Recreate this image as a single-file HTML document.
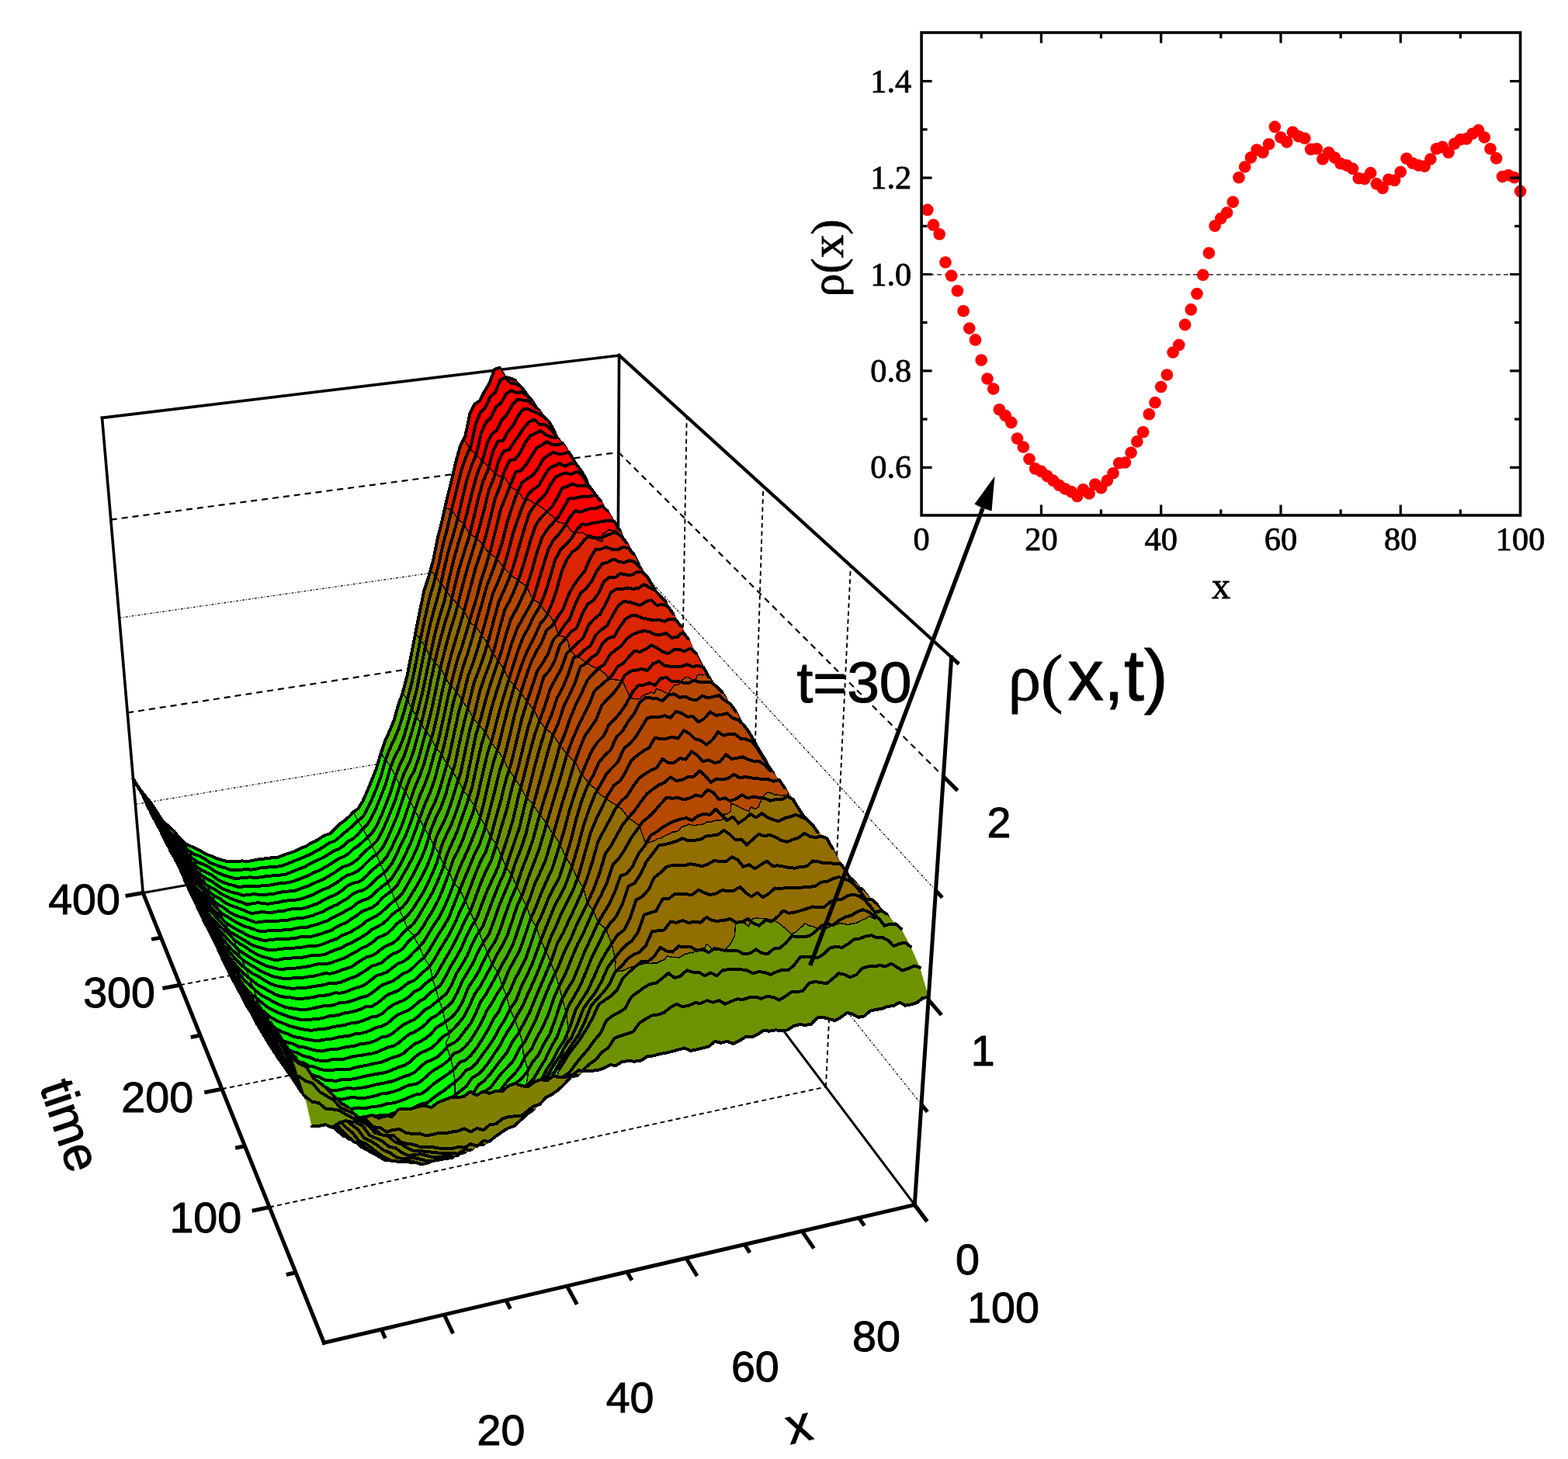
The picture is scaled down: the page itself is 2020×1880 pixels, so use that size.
<!DOCTYPE html>
<html><head><meta charset="utf-8"><title>rho(x,t)</title>
<style>html,body{margin:0;padding:0;background:#fff}svg{display:block}.ss{font-family:"Liberation Sans",Arial,sans-serif;stroke:#000;stroke-width:1px;stroke-linejoin:round}.sf{font-family:"Liberation Serif","Times New Roman",serif;stroke:#000;stroke-width:.8px;stroke-linejoin:round}.b0{fill:#00ff00;stroke:#00ff00}.b1{fill:#24db00;stroke:#24db00}.b2{fill:#49b600;stroke:#49b600}.b3{fill:#6d9200;stroke:#6d9200}.b4{fill:#926d00;stroke:#926d00}.b5{fill:#b64900;stroke:#b64900}.b6{fill:#db2400;stroke:#db2400}.b7{fill:#ff0000;stroke:#ff0000}.bk{fill:#808000;stroke:#808000}.b0,.b1,.b2,.b3,.b4,.b5,.b6,.b7,.bk{stroke-width:.6}.tl{fill:none;stroke:#000;stroke-width:4.0}.cl{fill:none;stroke:#000;stroke-width:1.5}</style></head><body>
<svg xmlns="http://www.w3.org/2000/svg" width="2020" height="1880" viewBox="0 0 2020 1880">
<rect width="2020" height="1880" fill="#fff"/>
<g id="back"><line x1="174.4" y1="1036.4" x2="795" y2="933.4" stroke="#000" stroke-width="1.2" stroke-dasharray="3 2 1 2"/>
<line x1="795" y1="933.4" x2="1187" y2="1423" stroke="#000" stroke-width="1.2" stroke-dasharray="3 2 1 2"/>
<line x1="164.2" y1="918.4" x2="795.6" y2="820.4" stroke="#000" stroke-width="2.2" stroke-dasharray="8 6"/>
<line x1="795.6" y1="820.4" x2="1196" y2="1288.1" stroke="#000" stroke-width="2.2" stroke-dasharray="8 6"/>
<line x1="153.7" y1="796.2" x2="796.3" y2="703.6" stroke="#000" stroke-width="1.2" stroke-dasharray="3 2 1 2"/>
<line x1="796.3" y1="703.6" x2="1205.5" y2="1147.4" stroke="#000" stroke-width="1.2" stroke-dasharray="3 2 1 2"/>
<line x1="142.8" y1="669.6" x2="796.9" y2="582.8" stroke="#000" stroke-width="2.2" stroke-dasharray="8 6"/>
<line x1="796.9" y1="582.8" x2="1215.3" y2="1000.5" stroke="#000" stroke-width="2.2" stroke-dasharray="8 6"/>
<line x1="1063.9" y1="1400.5" x2="1095.9" y2="729" stroke="#000" stroke-width="1.9" stroke-dasharray="6 4.3"/>
<line x1="347.1" y1="1555.5" x2="1063.9" y2="1400.5" stroke="#000" stroke-width="1.9" stroke-dasharray="6 4.3"/>
<line x1="963.2" y1="1266.9" x2="983.3" y2="626.7" stroke="#000" stroke-width="1.9" stroke-dasharray="6 4.3"/>
<line x1="285.9" y1="1403.2" x2="963.2" y2="1266.9" stroke="#000" stroke-width="1.9" stroke-dasharray="6 4.3"/>
<line x1="874" y1="1148.5" x2="884.7" y2="537.1" stroke="#000" stroke-width="1.9" stroke-dasharray="6 4.3"/>
<line x1="232" y1="1269.2" x2="874" y2="1148.5" stroke="#000" stroke-width="1.9" stroke-dasharray="6 4.3"/>
<line x1="131.5" y1="538.4" x2="797.6" y2="457.9" stroke="#000" stroke-width="3.6" stroke-linecap="square"/>
<line x1="797.6" y1="457.9" x2="1225.7" y2="846.9" stroke="#000" stroke-width="4.2" stroke-linecap="square"/>
<line x1="184.2" y1="1150.5" x2="131.5" y2="538.4" stroke="#000" stroke-width="3.6" stroke-linecap="square"/>
<line x1="794.4" y1="1042.8" x2="797.6" y2="457.9" stroke="#000" stroke-width="3.6"/>
<line x1="184.2" y1="1150.5" x2="794.4" y2="1042.8" stroke="#000" stroke-width="3.0"/>
<line x1="794.4" y1="1042.8" x2="1178.3" y2="1552.4" stroke="#000" stroke-width="3.0"/></g>
<g id="surface"><g shape-rendering="crispEdges" stroke-linejoin="round" stroke-linecap="round">
<path class="bk" d="M671 498l6 8 7 12 7 11 6 13 7 15 6 24 7 15 6 16 7 17 6 16 6 18 7 23 6 22 6 18 6 22 6 20 6 26 6 26 6 25 6 26 6 25-8-6-6-25-5-27-6-27-6-23-6-25-7-20-6-26-6-17-6-21-6-21-7-16-6-19-7-21-6-15-6-11-7-23-6-16-7-13-7-13-6-13-7-8z"/>
<path class="tl" d="M663.2 489.7l6.6 8.4 6.6 13.2 6.6 12.9 6.5 12.9 6.6 16 6.5 22.5 6.5 11.8 6.4 14.6 6.4 21 6.4 18.7 6.3 16.7 6.2 20.6 6.3 20.8 6.2 17.7 6.1 25.1 6.1 20.4 6.1 24.6 6 23.2 5.9 26.7 5.9 27.2 5.8 25.3"/>
<path class="b7" d="M658 494l6 0 7 4-8-8-6-3-7-1z"/>
<path class="tl" d="M650.2 485.8l6.5 1.3 6.5 2.6"/>
<path class="bk" d="M651 487l7 7-8-8-7-12z"/>
<path class="tl" d="M643.5 473.7l6.7 12.1"/>
<path class="b7" d="M607 575l6-28 6-16 6-6 7-14 6-6 6-15 7-3-8-13-6 2-6 18-7 10-6 12-6 4-7 13-6 28zM605 578l2-3-8-14 1 8zM600 569l-1-8-2 5z"/>
<path class="b6" d="M600 588l5-10-5-9zM600 588l0-19-3-3-4 8zM582 654l6-23 6-25 6-18-7-14-6 21-6 26-6 24zM582 657l0-3-7-9 1 10zM576 655l-1-10-1 8z"/>
<path class="b5" d="M577 680l5-23-6-2zM577 680l-1-25-2-2-4 17zM565 729l6-27 6-22-7-10-6 24-6 28zM561 743l4-14-7-7 1 17zM559 739l-1-17-4 14z"/>
<path class="b4" d="M559 751l2-8-2-4zM559 751l0-12-5-3-2 7zM542 823l5-26 6-26 6-20-7-8-6 18-5 27-6 28zM542 824l0-1-7-7z"/>
<path class="b3" d="M536 852l6-28-7-8zM536 852l-1-36-5 28zM525 900l6-21 5-27-6-8-6 27-5 22zM525 902l0-2-6-7z"/>
<path class="b2" d="M519 921l6-19-6-9zM519 921l0-28-6 16zM502 965l6-12 6-14 5-18-6-12-6 20-5 14-6 13zM497 979l5-14-6-9 0 22zM496 978l0-22-5 15zM184 1024l6 8-4-7zM184 1024l2 1-1-2-6-7zM176 1011l8 13-5-8-7-12z"/>
<path class="b1" d="M496 981l1-2-1-1zM496 981l0-3-5-7-1 2zM461 1057l6-4 6-11 6-12 6-14 6-15 5-20-6-8-6 18-5 15-6 14-6 13-6 9-6 4zM461 1058l0-1-6-11 0 1zM236 1090l7 6-5-9zM236 1090l2-3-1-1-6-6zM191 1032l8 10 8 13 7 12 8 7 7 7 7 9-5-10-7-9-7-7-7-6-8-12-8-11-7-9zM190 1032l1 0-4-6-1-1zM186 1025l1 1-2-3z"/>
<path class="b0" d="M455 1063l6-5-6-11zM455 1063l0-16 0-1-6 7zM243 1096l7 5 7 2 7 4 7 5 7 2 6 3 7 2 7 2 6 0 7 0 6-1 7 1 6-1 6-2 7 0 6-1 7 0 6-1 6-2 7-3 6-2 6-3 6-3 7-2 6-4 6-3 6-4 6-4 7-2 6-5 6-5 6-5 6-6-6-10-6 5-6 4-6 7-6 5-6 2-6 4-7 4-6 2-6 5-6 2-6 3-7 2-6 2-6 3-6 2-7 0-6 1-6 1-7 1-6 1-7 1-6-1-7 1-6 0-6 0-7-2-7-2-7-3-6-2-7-4-7-4-7-3-7-3zM243 1096l-5-9zM238 1087l-1-1z"/>
<path class="cl" d="M605.2 577.8l-5.4-8.3-2.6-3.5M581.8 657.1l-6-1.9-2.2-2.3M561.2 742.9l-2.5-3.6-4.4-3.7M541.5 824.5l-6.2-8.8M524.8 901.5l-6-8.4-.1-.3M496.7 979.1l-.6-1-5.4-7.1M461.1 1057.5l-5.8-10.9-.1-.1M243.1 1096.2l-5-8.8-.9-1.7M190.4 1031.5l-4.2-6.3-1.5-2.4"/>
<path class="tl" d="M171.6 1003.6l7.8 12.4 7.5 9.6 7.5 9 7.6 11.6 7.7 12 7.2 6.2 7.1 6.4 7.3 9.2 7.2 6.9 6.8 3.3 6.8 2.9 6.8 3.6 6.9 4.2 6.7 2.1 6.7 3.1 6.7 2.1 6.6 2 6.5-.7 6.5 .6 6.4-.7 6.5 .6 6.4-.9 6.3-1.5 6.4-.5 6.4-1.3 6.4-.4 6.4 0 6.2-2.7 6.3-2.3 6.2-2 6.3-2.2 6.2-3.6 6.2-2 6.2-4.1 6.2-2.6 6.1-4 6.2-3.7 6.2-2 6-5.4 6-6.6 6.2-4.2 6-5.2 6.1-6.4 6.1-4.5 5.9-9.3 5.7-12.9 5.7-13.8 5.8-14.5 5.5-18.5 5.7-17.3 5.8-12.8 5.9-14.1 5.6-19.7 5.7-16.4 5.7-21.2 5.4-27.5 5.5-28.2 5.5-27.7 5.6-27.3 5.9-17.7 5.8-21.1 5.7-28.3 5.8-23.1 5.8-25.8 5.9-23.6 5.9-25.7 6-21.3 6.3-12.7 5.9-28.3 6.3-12.6 6.4-4.3 6.3-12.1 6.3-10.6 6.3-17.3 6.5-2.5"/>
<path class="bk" d="M685 515l7 12 6 11 7 18 6 17 7 20 6 9 7 15 6 21 7 14 6 19 6 24 7 22 6 18 6 20 6 20 6 25 6 26 6 24 6 28 6 26-8-8-6-25-6-26-6-25-6-26-6-26-6-20-6-22-6-18-6-22-7-23-6-18-6-16-7-17-6-16-7-15-6-24-7-15-6-13-7-11-7-12z"/>
<path class="tl" d="M677.4 505.8l6.6 12.5 6.6 11 6.5 13.1 6.6 15 6.6 23.9 6.4 14.5 6.5 15.8 6.4 17.3 6.3 16 6.4 18.6 6.3 22.6 6.2 21.6 6.2 17.9 6.2 22.6 6.1 20.1 6 25.7 6 25.6 6 25.7 5.9 25.8 5.8 24.9"/>
<path class="b7" d="M614 584l6-27 6-13 7-7 6-13 7-5 6-12 7-4 6 3 7-1 6 4 7 6-8-9-6-8-7-4-6 0-7-7-7 3-6 15-6 6-7 14-6 6-6 16-6 28zM613 586l1-2-7-9 0 5zM607 580l0-5-2 3z"/>
<path class="b6" d="M608 600l5-14-6-6zM608 600l-1-20-2-2-5 10zM596 643l6-25 6-18-8-12-6 18-6 25zM590 669l6-26-8-12 2 38zM590 669l-2-38-6 23 7 14zM589 668l-7-14 1 4zM583 658l-1-4 0 3z"/>
<path class="b5" d="M584 690l6-21-1-1-6-10zM584 690l-1-32-1-1-5 23zM572 735l6-24 6-21-7-10-6 22-6 27zM568 751l4-16-7-6 0 20zM565 749l0-20-4 14z"/>
<path class="b4" d="M566 762l2-11-3-2zM566 762l-1-13-4-6-2 8zM548 831l6-26 6-22 6-21-7-11-6 20-6 26-5 26zM548 833l0-2-6-8 0 2zM542 825l0-2 0 1z"/>
<path class="b3" d="M543 859l5-26-6-8zM543 859l-1-34 0-1-6 28zM532 909l5-22 6-28-7-7-5 27-6 21zM530 913l2-4-7-9 0 3zM525 903l0-3 0 2z"/>
<path class="b2" d="M526 930l4-17-5-10zM526 930l-1-27 0-1-6 19zM508 975l6-10 6-15 6-20-7-9-5 18-6 14-6 12zM503 988l5-13-6-10 0 22zM502 987l0-22-5 14zM188 1032l7 8-4-8zM188 1032l3 0-1 0-6-8zM180 1018l8 14-4-8z"/>
<path class="b1" d="M502 991l1-3-1-1zM502 991l0-4-5-8-1 2zM473 1062l6-10 6-12 6-15 6-15 5-19-6-10-5 20-6 15-6 14-6 12-6 11zM467 1068l6-6-6-9 0 14zM467 1067l0-14-6 4 4 7zM465 1064l-4-7 0 1zM461 1058l0-1 0 1zM248 1106zM248 1106l-3-6zM241 1100l7 6-3-6-2-4zM241 1100l2-4-7-6zM196 1042l7 9 8 14 8 13 7 7 8 6 7 9-5-10-7-9-7-7-8-7-7-12-8-13-8-10zM195 1040l1 2-5-10zM191 1032l-1 0z"/>
<path class="b0" d="M467 1068l0-1-2-3zM461 1075l6-7-2-4-4-6zM461 1075l0-17-6 5zM255 1111l7 3 7 3 7 5 7 3 6 3 7 2 7 2 6-1 7 0 6-1 7 1 6-1 7-1 6 0 7-1 6 0 7-1 6-3 6-2 7-3 6-2 6-4 6-3 7-3 6-3 6-4 6-4 7-2 6-4 6-6 6-3 6-6-6-12-6 6-6 5-6 5-6 5-7 2-6 4-6 4-6 3-6 4-7 2-6 3-6 3-6 2-7 3-6 2-6 1-7 0-6 1-7 0-6 2-6 1-7-1-6 1-7 0-6 0-7-2-7-2-6-3-7-2-7-5-7-4-7-2zM248 1106l7 5-5-10-2 5zM248 1106l2-5-7-5 2 4zM245 1100l-2-4z"/>
<path class="bk" d="M180 1018l4 6-8-13z"/>
<path class="cl" d="M613.3 585.8l-6.4-5.9-1.7-2.1M589.6 668.6l-.3-.4-6.8-10-.7-1.1M568.4 750.8l-2.9-2-4.3-5.9M548.1 832.7l-6.2-7.8-.4-.4M530.5 913.4l-5.3-10.9-.4-1M503.4 988.2l-1-1.5-5.7-7.6M467.5 1067.6l-.2-.2-2.4-3.7-3.6-5.7-.2-.5M248.4 1106.5l-.3-.5-3.1-5.9-1.8-3.7-.1-.2M194.7 1040.3l-3.8-7.9-.5-.9"/>
<path class="tl" d="M175.8 1010.9l7.9 13.1 7.5 8.5 7.6 9.9 7.8 12.8 7.7 12.2 7.2 7.1 7.2 6.7 7.4 8.8 7.1 6.4 7 4.5 6.7 1.9 6.9 3.9 7 5.1 6.7 2.5 6.8 2.6 6.6 1.7 6.8 2.8 6.4-.6 6.5-.1 6.5-.6 6.5 .6 6.5-1 6.3-1.6 6.5-.3 6.4-1 6.4 0 6.4-.8 6.3-2.2 6.3-2.6 6.3-2.7 6.2-2.1 6.3-3.1 6.2-2.3 6.2-3.6 6.2-3.3 6.2-3.8 6.2-4.3 6.2-2 6.2-4.8 6.1-5.7 6.1-4.7 6.1-5.3 6.1-6.2 6.1-4.5 5.9-10.4 5.8-12.5 5.8-13.8 5.7-15.3 5.6-20.2 5.7-15.2 5.9-12.4 5.9-14.3 5.7-17.6 5.7-20.8 5.7-21.7 5.5-26.7 5.5-29.1 5.6-26.1 5.7-25.3 5.9-20.2 5.9-22.6 5.7-26.6 5.9-22.1 5.9-25.6 6-23.7 5.9-24.5 6.2-17.7 6.2-13.9 6-27.7 6.3-15.7 6.4-5.8 6.3-14.1 6.5-6 6.3-15.5 6.5-3.2 6.7 7.3 6.5 .7 6.6 3.2 6.6 8.1"/>
<path class="bk" d="M693 527l6 9 7 9 7 19 6 19 7 18 6 9 7 16 6 21 7 14 6 17 6 22 7 20 6 19 6 21 6 21 6 26 6 27 6 24 6 26 6 25-8-5-6-26-6-28-6-24-6-26-6-25-6-20-6-20-6-18-7-22-6-24-6-19-7-14-6-21-7-15-6-9-7-20-6-17-7-18-6-11-7-12z"/>
<path class="tl" d="M685.1 515.4l6.6 11.3 6.6 11 6.6 18.3 6.6 17 6.5 20.3 6.5 8.2 6.4 15.9 6.5 20.5 6.3 13.9 6.4 18.8 6.3 24.2 6.2 21.9 6.3 18.5 6.1 19.5 6.1 20 6.1 25.3 6 26.3 6 24 5.8 27.3 5.9 26.2"/>
<path class="b7" d="M628 572l6-13 6-5 7-13 6-7 7-12 6-7 7 0 7 1 6 5 7 6-8-12-7-6-6-4-7 1-6-3-7 4-6 12-7 5-6 13-7 7-6 13zM621 594l7-22-8-15 1 37zM621 594l-1-37-6 27 5 7zM619 591l-5-7 0 2zM614 586l0-2-1 2z"/>
<path class="b6" d="M621 595l0-1zM621 595l0-1-2-3zM615 609l6-14-2-4-5-5zM615 609l-1-23-1 0-5 14zM603 656l6-24 6-23-7-9-6 18-6 25zM598 676l5-20-7-13 1 31zM597 674l-1-31-6 26z"/>
<path class="b5" d="M597 680l1-4-1-2zM597 680l0-6-7-5zM579 746l6-25 6-22 6-19-7-11-6 21-6 21-6 24zM575 762l4-16-7-11 0 23zM572 758l0-23-4 16z"/>
<path class="b4" d="M573 773l2-11-3-4zM573 773l-1-15-4-7-2 11zM555 840l6-26 6-21 6-20-7-11-6 21-6 22-6 26zM554 847l1-7-7-9 1 3zM549 834l-1-3 0 2z"/>
<path class="b3" d="M549 867l5-20-5-13zM549 867l0-33-1-1-5 26zM538 917l6-23 5-27-6-8-6 28-5 22zM536 923l2-6-6-8 0 6zM532 915l0-6-2 4z"/>
<path class="b2" d="M532 937l4-14-4-8zM532 937l0-22-2-2-4 17zM515 986l6-12 6-17 5-20-6-7-6 20-6 15-6 10zM509 1001l6-15-7-11 1 24zM509 999l-1-24-5 13zM193 1043l7 9-5-10zM193 1043l2-1 0-2-7-8zM185 1027l8 16-5-11-8-14z"/>
<path class="b1" d="M509 1002l0-1 0-2zM509 1002l0-3-6-11-1 3zM480 1073l6-10 5-13 6-14 6-15 6-19-7-11-5 19-6 15-6 15-6 12-6 10zM473 1079l7-6-7-11 0 17zM473 1079l0-17-6 6zM253 1117l2 1-1-3zM253 1117l1-2-6-9zM201 1053l7 10 8 11 8 13 7 7 7 8 8 8 7 7-5-11-7-6-7-9-8-6-7-7-8-13-8-14-7-9zM200 1052l1 1-5-11-1 0zM195 1042l1 0-1-2z"/>
<path class="b0" d="M473 1079l-6-11zM260 1121l7 3 7 4 7 6 7 3 7 3 6 1 7 2 7-1 6 0 7 0 6 0 7-1 6 0 7-1 6-2 7 0 6-1 7-2 6-2 6-3 7-3 6-3 6-2 6-4 7-3 6-4 6-5 6-2 7-4 6-6 6-4 6-5 6-6-6-11-6 7-6 6-6 3-6 6-6 4-7 2-6 4-6 4-6 3-7 3-6 3-6 4-6 2-7 3-6 2-6 3-7 1-6 0-7 1-6 0-7 1-6 1-7-1-6 1-7 0-6 1-7-2-7-2-6-3-7-3-7-5-7-3-7-3zM255 1118l5 3-5-10-1 4zM254 1115l1-4-7-5z"/>
<path class="cl" d="M621.5 593.9l-.2-.4-2.2-2.1-5-4.9-.8-.7M597.8 675.7l-1.3-1.6-6.9-5.5M575.3 761.7l-3-4.2-3.9-6.7M553.8 846.6l-5.3-12.8-.4-1.1M536.3 922.8l-4.6-7.8-1.2-1.6M509.4 1000.6l-.6-1.4-5.4-11M473.5 1078.8l-.1-.1-5.9-11.1M255.1 1118.2l-1.6-2.7-5.1-9M200.2 1052.5l-4.8-10.7-.7-1.5"/>
<path class="tl" d="M180.1 1017.7l8 14.3 7.7 9.6 7.5 9.7 7.9 13.8 7.8 12.5 7.3 7 7.2 6.7 7.4 8.6 7.1 6.3 7.1 5.1 6.8 2.3 6.9 3.6 7 4.8 6.8 3.4 6.8 2.8 6.7 1.8 6.7 2.3 6.5-.8 6.5-.8 6.5-.3 6.6 .5 6.5-.5 6.4-1.1 6.5-.5 6.4-1.2 6.5 0 6.4-.8 6.3-2.6 6.3-2.4 6.3-2.6 6.4-2.4 6.2-3.7 6.3-2.8 6.2-3.1 6.3-3.1 6.2-3.7 6.2-4.1 6.3-2.3 6.2-4.4 6.1-6 6.2-2.9 6.1-5.6 6.1-7.3 6.1-5.3 6-10.4 5.8-12.4 5.8-14.3 5.8-15 5.6-19.7 5.9-15.2 6-10.7 5.8-14.9 5.8-19.5 5.7-21.2 5.7-22.4 5.5-28.3 5.6-27.7 5.7-26.2 5.9-21.9 5.9-20.3 5.8-27.1 5.8-24.4 6.1-20.6 6-21.6 5.9-25.3 6-25.4 6.2-18.5 6.3-15.3 6-27.1 6.4-13 6.5-6.8 6.3-13.4 6.5-4.5 6.4-12 6.6-4.1 6.6 3.1 6.5-1.1 6.6 3.7 6.7 6.4"/>
<path class="bk" d="M701 537l6 6 7 12 7 18 6 20 7 18 6 9 7 14 6 21 7 16 6 17 6 21 7 23 6 18 6 19 6 21 6 25 6 25 6 23 6 26 6 28-8-8-6-25-6-26-6-24-6-27-6-26-6-21-6-21-6-19-7-20-6-22-6-17-7-14-6-21-7-16-6-9-7-18-6-19-7-19-7-9-6-9z"/>
<path class="tl" d="M692.8 526.8l6.7 9.2 6.6 9.2 6.6 18.4 6.6 19.5 6.6 17.6 6.4 9.1 6.5 15.9 6.5 21.1 6.3 14.2 6.4 17 6.3 21.6 6.3 20.9 6.2 18.7 6.2 21.3 6.1 20.7 6.1 25.8 5.9 27.2 6 23.7 5.9 26.2 5.8 25"/>
<path class="b7" d="M635 582l6-13 7-1 7-12 6-8 7-12 6-9 7 0 6 3 7 3 7 4-8-10-7-6-6-5-7-1-7 0-6 7-7 12-6 7-7 13-6 5-6 13zM630 602l5-20-7-10 1 29zM629 601l-1-29-7 22z"/>
<path class="b6" d="M629 605l1-3-1-1zM629 605l0-4-8-7 0 1zM610 668l6-26 6-22 7-15-8-10-6 14-6 23-6 24zM605 688l5-20-7-12 1 30zM604 686l-1-30-5 20z"/>
<path class="b5" d="M604 693l1-5-1-2zM604 693l0-7-6-10-1 4zM586 756l6-24 6-20 6-19-7-13-6 19-6 22-6 25zM582 771l4-15-7-10 0 21zM579 767l0-21-4 16z"/>
<path class="b4" d="M580 782l2-11-3-4zM580 782l-1-15-4-5-2 11zM562 846l6-24 6-21 6-19-7-9-6 20-6 21-6 26zM560 852l2-6-7-6 0 8zM555 848l0-8-1 7z"/>
<path class="b3" d="M556 872l4-20-5-4zM556 872l-1-24-1-1-5 20zM545 924l5-24 6-28-7-5-5 27-6 23zM543 932l2-8-7-7 0 9zM538 926l0-9-2 6z"/>
<path class="b2" d="M539 946l4-14-5-6zM539 946l-1-20-2-3-4 14zM521 995l6-11 6-17 6-21-7-9-5 20-6 17-6 12zM515 1012l6-17-6-9zM515 1012l0-26-6 15 6 11zM205 1063l1 1-1-1zM205 1063l-3-6zM197 1052l8 11-3-6-2-4zM197 1052l3 1 0-1-7-9zM189 1037l8 15-4-9-8-16z"/>
<path class="b1" d="M509 1001l0 1 6 10zM509 1030l6-18-6-10zM509 1030l0-28-6 19zM486 1083l6-11 6-13 6-14 5-15-6-9-6 15-6 14-5 13-6 10zM480 1090l6-7-6-10zM480 1090l0-17-7 6 2 2zM479 1090l1 0-5-9zM258 1127l2 1-1-3zM258 1127l1-2-4-7-2-1zM213 1073l8 10 7 13 8 8 7 9 8 7 7 7-5-10-7-7-8-8-7-8-7-7-8-13-8-11zM206 1064l7 9-5-10-3 0zM205 1063l3 0-7-10 1 4zM202 1057l-1-4-1 0z"/>
<path class="b0" d="M473 1079l2 2zM473 1094l6-4-4-9-2-2zM473 1094l0-15-6 6zM265 1131l7 4 7 5 7 5 7 3 7 2 6 2 7 2 7-1 6-1 7 1 7 0 6-1 7 0 6-2 7-1 6 0 7-1 6-2 7-3 6-2 6-3 7-3 6-2 6-4 7-4 6-4 6-4 6-2 7-3 6-5 6-6 6-7-6-9-6 5-6 4-6 6-7 4-6 2-6 5-6 4-7 3-6 4-6 2-6 3-7 3-6 3-6 2-7 2-6 1-7 0-6 2-7 1-6 0-7 1-6 0-7 0-6 0-7 1-7-2-6-1-7-3-7-3-7-6-7-4-7-3zM260 1128l5 3-5-10-1 4zM259 1125l1-4-5-3z"/>
<path class="cl" d="M629.6 602.1l-1-.8-7.1-7.4M605.3 687.7l-1.5-1.5-6-10.5M582.4 770.7l-3.1-3.3-4-5.7M560.4 852.4l-5-4.5-1.6-1.3M542.5 932.3l-4.2-5.9-2-3.6M509.4 1000.6l5.8 10.9 0 .1M473.5 1078.8l1 2 4.8 9M260.5 1128.4l-1.9-3.7-3.5-6.5M205.7 1063.7l-.3-.6-2.9-6-2.1-4.2-.2-.4"/>
<path class="tl" d="M184.6 1027.1l8.2 15.6 7.7 10.3 7.7 10.3 7.7 11.1 7.8 12.4 7.3 7.3 7.4 7.5 7.3 8.6 7.3 6.7 7 4.3 6.9 3.3 7 3.9 7 5.4 6.9 3.2 6.8 2.5 6.7 1.5 6.7 2.3 6.6-1.2 6.5-.4 6.6 .1 6.5 0 6.5-1 6.6-.2 6.4-1.1 6.5-1.3 6.5-.4 6.4-.8 6.4-2 6.4-2.4 6.3-2.4 6.3-2.7 6.3-3.5 6.4-2.2 6.2-3.6 6.3-3.6 6.2-4 6.3-4.2 6.3-2.5 6.2-3.7 6.2-6.1 6.2-3.9 6.2-5.4 6.1-5.9 6.2-5.7 6-9.8 5.9-12.9 5.8-14.6 5.8-14.8 5.7-19 5.9-15.6 6-12.4 5.8-17.5 5.8-19.7 5.8-20.2 5.7-22.6 5.7-26.7 5.7-27.2 5.7-26.1 5.9-21.1 6-19.7 5.8-27.2 6-25.2 6-21.7 6.1-19.4 6.1-23.5 6.1-24.5 6.1-22.3 6.3-15 6.2-22.9 6.4-12.6 6.5-4.9 6.5-13.3 6.5-7.1 6.4-11.8 6.5-6.9 6.7 .5 6.6 .9 6.6 4.6 6.6 5.8"/>
<path class="bk" d="M722 569l7 15 6 16 7 21 6 10 7 12 6 21 7 17 6 14 6 22 7 27 6 19 6 14 6 21 6 27 6 22 6 22 6 27 6 27-8-6-6-28-6-26-6-23-6-25-6-25-6-21-6-19-6-18-7-23-6-21-6-17-7-16-6-21-7-14-6-9-7-18-6-20-7-18z"/>
<path class="tl" d="M714 555.1l6.6 18 6.6 20.3 6.6 18.1 6.5 8.7 6.5 13.9 6.4 20.9 6.4 15.7 6.4 17.2 6.3 21 6.3 22.8 6.2 18.3 6.2 18.5 6.1 21.3 6.1 25.6 6 24.6 6 22.5 5.9 26.5 5.8 28"/>
<path class="b7" d="M643 593l6-12 7-1 6-10 7-10 6-9 7-8 7-2 6 6 7 0 7 5 6 8 7 9-8-14-7-12-6-6-7-4-7-3-6-3-7 0-6 9-7 12-6 8-7 12-7 1-6 13zM638 610l5-17-8-11 1 26zM636 608l-1-26-5 20z"/>
<path class="b6" d="M636 616l2-6-2-2zM636 616l0-8-6-6-1 3zM617 680l7-23 6-26 6-15-7-11-7 15-6 22-6 26zM614 694l3-14-7-12 1 24zM611 692l-1-24-5 20z"/>
<path class="b5" d="M611 702l3-8-3-2zM611 702l0-10-6-4-1 5zM593 767l6-23 6-22 6-20-7-9-6 19-6 20-6 24zM590 779l3-12-7-11 0 19zM586 775l0-19-4 15z"/>
<path class="b4" d="M587 791l3-12-4-4zM587 791l-1-16-4-4-2 11zM569 855l6-23 6-22 6-19-7-9-6 19-6 21-6 24zM567 862l2-7-7-9 0 10zM562 856l0-10-2 6z"/>
<path class="b3" d="M563 882l4-20-5-6zM563 882l-1-26-2-4-4 20zM551 933l6-24 6-27-7-10-6 28-5 24zM549 942l2-9-6-9 0 13zM545 937l0-13-2 8z"/>
<path class="b2" d="M545 955l4-13-4-5zM545 955l0-18-2-5-4 14zM528 1004l6-11 6-17 5-21-6-9-6 21-6 17-6 11zM522 1020l6-16-7-9 1 24zM522 1019l-1-24-6 17zM210 1073l2 3-1-3zM210 1073l1 0-5-9-1-1zM194 1046l8 16 8 11-5-10-8-11-8-15z"/>
<path class="b1" d="M522 1021l0-1 0-1zM522 1021l0-2-7-7zM516 1039l6-18-7-9zM516 1039l-1-27-6 18zM486 1100l6-6 6-11 6-14 6-14 6-16-7-9-5 15-6 14-6 13-6 11-6 7zM485 1101l1-1-6-10zM480 1090l-1 0zM263 1138l3 2-2-5zM263 1138l1-3-4-7-2-1zM218 1084l8 11 7 11 8 8 7 9 8 7 7 8-5-11-7-7-8-7-7-9-8-8-7-13-8-10zM212 1076l6 8-5-11-2 0zM211 1073l2 0-7-9z"/>
<path class="b0" d="M480 1105l5-4-5-11zM480 1105l0-15-1 0-6 4zM270 1143l7 3 7 5 7 4 7 3 7 3 7 2 7 3 6-2 7-1 6 1 7 1 7-1 6-1 7-2 6-1 7 0 6-1 7-2 6-2 7-2 6-4 6-3 7-2 6-4 7-4 6-5 6-3 7-2 6-3 6-6 6-6 7-6-7-11-6 7-6 6-6 5-7 3-6 2-6 4-6 4-7 4-6 4-6 2-7 3-6 3-6 2-7 3-6 2-7 1-6 0-7 1-6 2-7 0-6 1-7 0-7-1-6 1-7 1-7-2-6-2-7-2-7-3-7-5-7-5-7-4zM266 1140l4 3-5-12-1 4zM264 1135l1-4-5-3z"/>
<path class="cl" d="M637.9 609.9l-1.9-1.6-6.4-6.2M613.6 693.9l-2.7-2.2-5.6-4M589.8 779l-3.5-3.8-3.9-4.5M567.3 861.8l-5.2-6.2-1.7-3.2M548.9 942.4l-3.9-5.5-2.5-4.6M522.1 1019.7l-.4-.6-6.4-7.4-.1-.1M484.9 1101.1l-5.3-10.8-.3-.5M266.5 1140.2l-2.7-5.3-3.3-6.5M212.3 1076.2l-1.6-3.4-5-9.1"/>
<path class="tl" d="M189.3 1037.5l8.1 14.4 7.8 11.1 7.7 9.6 7.7 10.3 7.8 13.2 7.4 7.8 7.5 8.8 7.3 7.4 7.3 6.6 7.1 4.8 7 3.6 7 5.1 7 4.7 6.9 2.7 6.9 2.6 6.7 1.3 6.8 2.3 6.5-.9 6.6-.6 6.6 .3 6.7 .6 6.5-.9 6.6-.4 6.4-1.8 6.5-1.2 6.5-.4 6.5-.5 6.5-2.1 6.3-2.5 6.4-2 6.4-3.1 6.3-3 6.4-2.4 6.3-3.9 6.3-3.7 6.2-4.3 6.3-4.2 6.4-1.7 6.3-3.3 6.2-4.9 6.2-6.3 6.2-6.2 6.2-4.8 6.2-6.5 6-10.7 5.9-13.3 5.9-14.2 5.9-14.6 5.7-18.7 5.9-16.6 6.1-11.4 5.9-16.8 5.8-20.7 5.8-21.9 5.7-23.9 5.7-27.9 5.8-26.7 5.8-23.3 6-21.5 6.1-18.8 5.9-26.3 6-23.9 6.1-19.8 6.2-19.2 6.1-24.7 6.1-26 6.2-22.2 6.4-14.8 6.2-23.5 6.4-13.1 6.7-.6 6.4-11.9 6.6-8.2 6.5-12.1 6.5-9.1 6.6 .2 6.7 3.4 6.7 2.6 6.6 4.1 6.6 6.4 6.7 11.7"/>
<path class="bk" d="M730 581l7 16 6 15 7 19 6 11 7 13 6 23 7 16 6 13 7 22 6 25 6 21 6 15 6 18 7 26 6 22 6 24 5 25 6 27-8-9-6-27-6-27-6-22-6-22-6-27-6-21-6-14-6-19-7-27-6-22-6-14-7-17-6-21-7-12-6-10-7-21-6-16-7-15z"/>
<path class="tl" d="M722 569.4l6.6 14.5 6.6 15.7 6.6 21.2 6.5 10.3 6.5 11.6 6.5 21.2 6.4 16.9 6.4 14 6.3 21.8 6.3 27.4 6.2 19.3 6.2 14 6.2 21 6 26.4 6 22.7 6 21.6 5.9 27.5 5.8 26.8"/>
<path class="b7" d="M650 606l7-13 7-1 6-8 7-14 6-9 7-3 7-3 6 5 7 3 7 1 6 8 7 9-8-12-7-9-6-8-7-5-7 0-6-6-7 2-7 8-6 9-7 10-6 10-7 1-6 12zM648 614l2-8-7-13 0 21zM643 614l0-21-5 17z"/>
<path class="b6" d="M644 627l4-13-5 0zM644 627l-1-13-5-4-2 6zM625 694l6-24 6-27 7-16-8-11-6 15-6 26-7 23zM622 702l3-8-8-14 1 17zM618 697l-1-17-3 14z"/>
<path class="b5" d="M619 714l3-12-4-5zM619 714l-1-17-4-3-3 8zM600 779l6-23 6-23 7-19-8-12-6 20-6 22-6 23zM598 787l2-8-7-12 0 15zM593 782l0-15-3 12z"/>
<path class="b4" d="M594 801l4-14-5-5zM594 801l-1-19-3-3-3 12zM576 866l6-24 6-21 6-20-7-10-6 19-6 22-6 23zM574 873l2-7-7-11 0 9zM569 864l0-9-2 7z"/>
<path class="b3" d="M570 890l4-17-5-9zM570 890l-1-26-2-2-4 20zM558 943l6-24 6-29-7-8-6 27-6 24zM555 952l3-9-7-10 1 13zM552 946l-1-13-2 9z"/>
<path class="b2" d="M552 963l3-11-3-6zM552 963l0-17-3-4-4 13zM534 1015l6-14 6-17 6-21-7-8-5 21-6 17-6 11zM528 1032l6-17-6-11 0 28zM528 1032l0-28-6 16zM215 1081l3 5-2-4zM215 1081l1 1-4-6-2-3zM207 1071l8 10-5-8-8-11z"/>
<path class="b1" d="M528 1032l-6-12 0 1zM492 1111l6-7 6-11 6-13 6-13 6-17 6-18-6-11-6 18-6 16-6 14-6 14-6 11-6 6zM490 1113l2-2-6-11 0 3zM486 1103l0-3-1 1zM268 1148l4 3-3-6zM268 1148l1-3-3-5-3-2zM223 1093l7 12 8 11 8 8 7 8 8 10 7 6-5-10-7-8-8-7-7-9-8-8-7-11-8-11zM218 1086l5 7-5-9-2-2zM216 1082l2 2-6-8z"/>
<path class="b0" d="M486 1116l4-3-4-10zM486 1116l0-13-1-2-5 4zM275 1154l7 3 7 6 7 3 7 3 7 2 7 3 7 3 7-1 6-1 7 1 7 0 6-2 7 0 6-2 7-1 7 0 6 0 7-2 6-3 7-2 6-4 6-3 7-3 6-3 7-4 6-6 6-3 7-1 6-4 6-5 7-7 6-5-6-11-7 6-6 6-6 6-6 3-7 2-6 3-6 5-7 4-6 4-7 2-6 3-6 4-7 2-6 2-7 2-6 1-7 0-6 1-7 2-6 1-7 1-7-1-6-1-7 1-6 2-7-3-7-2-7-3-7-3-7-4-7-5-7-3zM272 1151l3 3-5-11-1 2zM269 1145l1-2-4-3z"/>
<path class="cl" d="M647.8 614.1l-4.4 .1-5.5-4.3M622.4 702l-4.3-4.6-4.5-3.5M597.8 787l-4.4-4.5-3.6-3.5M574 872.6l-5-8.6-1.7-2.2M555.5 952l-3.8-6.2-2.8-3.4M528.4 1032.1l-.1-.2-6.2-12.2M489.7 1113l-3.8-9.8-1-2.1M272.2 1151.4l-3-6.2-2.7-5M218 1086.2l-2.3-4.2-3.4-5.8"/>
<path class="tl" d="M202.2 1062.1l7.8 10.8 7.8 11 7.7 10.8 7.8 11.6 7.4 7.9 7.5 8.5 7.4 7.5 7.3 7.5 7.2 5.1 7 3.6 7.1 4.9 7 3.8 6.9 3 6.9 2.5 6.8 2.2 6.9 2.9 6.5-1.4 6.6-1.1 6.7 .7 6.7 .9 6.5-1.2 6.6-.7 6.5-1.8 6.5-.8 6.6-.5 6.5-.5 6.5-2 6.4-2.4 6.4-2.1 6.4-3.6 6.4-3.2 6.4-2.2 6.3-3.8 6.3-3.8 6.3-5 6.3-3.5 6.4-2 6.4-3.2 6.2-5.4 6.2-6.4 6.3-6 6.3-4.3 6.1-6.7 6.1-10.9 5.9-13.8 6-13.6 5.9-16.4 5.8-18.3 5.9-16.4 6.1-11.3 6-17 5.8-21.5 5.9-21.2 5.8-24.2 5.7-27.1 5.8-27 6-23.2 6-22 6.1-18.8 6-24.2 6.1-23.3 6.2-21.3 6.2-20 6.2-22.1 6.2-23.5 6.2-25.4 6.4-15.2 6.3-22.9 6.5-12.1 6.6-1.3 6.6-10.1 6.5-9.1 6.6-9.7 6.6-7.8 6.6-2.1 6.8 6.3 6.6 0 6.7 4.6 6.6 8.7 6.7 8.9"/>
<path class="bk" d="M198 1054l9 17-5-9-8-16z"/>
<path class="tl" d="M193.9 1046.3l8.3 15.8"/>
<path class="bk" d="M725 571l7 11 6 10 7 18 7 15 6 16 7 9 6 16 7 21 6 18 7 14 6 21 6 24 6 21 7 13 6 20 6 26 6 20 6 25 6 25 6 24-9-6-6-27-5-25-6-24-6-22-7-26-6-18-6-15-6-21-6-25-7-22-6-13-7-16-6-23-7-13-6-11-7-19-6-15-7-16-7-9-6-8z"/>
<path class="tl" d="M716.7 564.4l6.7 7.3 6.7 9.2 6.6 16.1 6.6 15 6.6 19.4 6.6 10.2 6.5 13.5 6.4 23.1 6.5 15.5 6.4 13.8 6.3 21.1 6.3 25.3 6.2 20.7 6.2 15.5 6.2 18 6 26.2 6.1 21.5 5.9 24.5 6 24.6 5.8 26.8"/>
<path class="b7" d="M658 624l7-16 6-2 7-8 7-10 6-11 7-3 7-5 6 4 7 0 7-2-8-7-7-1-7-3-6-5-7 3-7 3-6 9-7 14-6 8-7 1-7 13zM657 626l1-2-8-18 1 10zM651 616l-1-10-2 8z"/>
<path class="b6" d="M652 640l5-14-6-10zM652 640l-1-24-3-2-4 13zM633 707l6-25 6-26 7-16-8-13-7 16-6 27-6 24zM631 713l2-6-8-13 0 13zM625 707l0-13-3 8z"/>
<path class="b5" d="M626 728l5-15-6-6zM626 728l-1-21-3-5-3 12zM607 791l7-20 6-24 6-19-7-14-7 19-6 23-6 23zM605 801l2-10-7-12 1 13zM601 792l-1-13-2 8z"/>
<path class="b4" d="M601 813l4-12-4-9zM601 813l0-21-3-5-4 14zM583 875l6-23 6-19 6-20-7-12-6 20-6 21-6 24zM581 884l2-9-7-9 0 11zM576 877l0-11-2 7z"/>
<path class="b3" d="M577 900l4-16-5-7zM577 900l-1-23-2-4-4 17zM565 953l6-26 6-27-7-10-6 29-6 24zM562 964l3-11-7-10 1 15zM559 958l-1-15-3 9z"/>
<path class="b2" d="M559 973l3-9-3-6zM559 973l0-15-4-6-3 11zM541 1025l6-14 6-17 6-21-7-10-6 21-6 17-6 14zM535 1043l6-18-7-10zM535 1043l-1-28-6 17 1 2zM534 1044l1-1-6-9zM220 1091l3 6-2-5zM220 1091l1 1-3-6-3-5zM212 1080l8 11-5-10-8-10zM203 1063l4 8-9-17z"/>
<path class="b1" d="M528 1032l1 2zM529 1060l5-16-5-10-1-2zM529 1060l-1-28-6 18zM499 1121l6-8 6-12 6-13 6-13 6-15-7-10-6 17-6 13-6 13-6 11-6 7zM495 1124l4-3-7-10 0 7zM492 1118l0-7-2 2zM273 1159l5 4-4-8zM273 1159l1-4-2-4-4-3zM227 1102l8 12 8 13 8 9 7 7 8 8 7 8-5-11-7-6-8-10-7-8-8-8-8-11-7-12zM223 1097l4 5-4-9-2-1zM221 1092l2 1-5-7z"/>
<path class="b0" d="M492 1127l3-3-3-6zM492 1127l0-9-2-5-4 3zM280 1165l8 4 7 6 7 4 7 2 7 2 7 3 7 3 6-1 7-1 7 0 6 0 7-1 7 0 6-2 7-1 6 0 7-1 7-2 6-3 7-2 6-4 6-3 7-3 6-4 7-3 6-6 6-3 7-1 6-4 7-6 6-6 6-5-6-11-6 5-7 7-6 5-6 4-7 1-6 3-6 6-7 4-6 3-7 3-6 3-6 4-7 2-6 3-7 2-6 0-7 0-7 1-6 2-7 0-6 2-7 0-7-1-6 1-7 1-7-3-7-3-7-2-7-3-7-3-7-6-7-3zM278 1163l2 2-5-11-1 1zM274 1155l1-1-3-3z"/>
<path class="bk" d="M203 1063l9 17-5-9z"/>
<path class="cl" d="M657 626.4l-6.3-10.5-2.9-1.8M630.8 713l-5.3-5.6-3.1-5.4M604.6 801.3l-4.1-9.2-2.7-5.1M580.6 883.7l-4.5-6.4-2.1-4.7M561.7 964.2l-3.1-6.4-3.1-5.8M528.4 1032.1l.9 1.9 5.1 10.3M494.9 1124.3l-2.7-6.5-2.5-4.8M277.8 1162.8l-3.3-7.3-2.3-4.1M223.2 1096.5l-2.3-4.2-2.9-6.1"/>
<path class="tl" d="M198.5 1054.1l8.3 16.4 7.8 10.4 8 12.5 7.8 11.9 7.8 11.1 7.5 7.5 7.5 8.5 7.5 9.2 7.3 6.7 7.2 5.3 7.1 3.7 7.1 5.6 7 3.4 7 2.5 6.9 2.5 6.9 3.1 6.9 2.6 6.6-.9 6.6-1 6.7 .6 6.7 .2 6.6-1.5 6.6-.2 6.5-1.8 6.6-1.2 6.6 .1 6.6-.8 6.5-1.7 6.4-2.5 6.5-2.2 6.4-3.8 6.4-3.3 6.4-2.8 6.4-3.2 6.3-4.2 6.3-5.5 6.4-3.4 6.5-1 6.4-3.5 6.2-5.8 6.3-6.8 6.3-4.9 6.3-4.8 6.2-7.2 6-11.4 6.1-13 6-12.7 5.9-16.3 5.9-18 5.9-17.5 6.1-14.2 6-16.7 5.9-21.5 6-19.3 5.8-24.7 5.8-28.7 5.9-24.2 6-23.3 6.1-20.9 6.2-20.4 6.1-22.4 6.1-22.4 6.2-23.3 6.3-18.7 6.3-20.7 6.2-23.8 6.3-26.4 6.4-16 6.4-21.9 6.5-12.1 6.7-1.5 6.6-8.2 6.6-13.7 6.6-8.7 6.7-2.9 6.6-3.2 6.8 5.3 6.6 2.6 6.7 1.3"/>
<path class="bk" d="M733 583l7 11 7 12 6 20 7 14 6 9 7 12 7 18 6 22 6 15 7 13 6 22 7 23 6 20 6 15 6 19 6 24 6 21 6 24 6 25 6 23-8-7-6-24-6-25-6-25-6-20-6-26-6-20-7-13-6-21-6-24-6-21-7-14-6-18-7-21-6-16-7-9-6-16-7-15-7-18-6-10-7-11z"/>
<path class="tl" d="M724.8 571l6.7 10.9 6.7 10.3 6.7 17.6 6.6 15.3 6.6 15.7 6.6 9.4 6.5 15.7 6.5 21.5 6.4 17.2 6.4 13.9 6.4 21.3 6.2 24.6 6.3 20.6 6.2 13.5 6.2 19.2 6.1 26 6 20.1 6 25.3 5.9 24.9 5.8 24.4"/>
<path class="b7" d="M673 622l6-5 7-4 7-8 6-13 7-5 7-4 7 2 6 0 7-2-8-12-7 2-7 0-6-4-7 5-7 3-6 11-7 10-7 8-6 2zM667 633l6-11-8-14 1 24zM666 632l-1-24-7 16 4 6zM662 630l-4-6 0 4zM658 628l0-4-1 2z"/>
<path class="b6" d="M666 636l1-3-1-1zM666 636l0-4-4-2zM659 654l7-18-4-6-4-2zM659 654l-1-26-1-2-5 14zM640 720l7-20 6-26 6-20-7-14-7 16-6 26-6 25zM640 720l-7-13 0 8zM633 715l0-8-2 6z"/>
<path class="b5" d="M634 738l6-18-7-5zM634 738l-1-23-2-2-5 15zM615 799l6-22 6-22 7-17-8-10-6 19-6 24-7 20zM613 806l2-7-8-8 1 13zM608 804l-1-13-2 10z"/>
<path class="b4" d="M609 822l4-16-5-2zM609 822l-1-18-3-3-4 12zM590 884l6-23 6-18 7-21-8-9-6 20-6 19-6 23zM588 891l2-7-7-9 0 10zM583 885l0-10-2 9z"/>
<path class="b3" d="M584 906l4-15-5-6zM584 906l-1-21-2-1-4 16zM572 961l6-27 6-28-7-6-6 27-6 26zM569 971l3-10-7-8 1 15zM566 968l-1-15-3 11z"/>
<path class="b2" d="M566 982l3-11-3-3zM566 982l0-14-4-4-3 9zM542 1052l6-16 6-14 6-18 6-22-7-9-6 21-6 17-6 14-6 18zM540 1055l2-3-7-9 0 2zM535 1045l0-2-1 1zM224 1102l6 8-4-8zM224 1102l2 0-3-5-3-6zM208 1073l8 17 8 12-4-11-8-11-9-17z"/>
<path class="b1" d="M536 1069l4-14-5-10zM536 1069l-1-24-1-1-5 16zM505 1131l6-9 6-11 6-13 7-13 6-16-7-9-6 15-6 13-6 13-6 12-6 8zM499 1137l6-6-6-10 0 15zM499 1136l0-15-4 3zM278 1169l5 5-3-7zM278 1169l2-2-2-4-5-4zM232 1113l8 11 8 14 8 10 7 6 8 7 7 8-5-10-7-8-8-8-7-7-8-9-8-13-8-12zM230 1110l2 3-5-11-1 0zM226 1102l1 0-4-5z"/>
<path class="b0" d="M499 1138l0-1 0-1zM499 1138l0-2-4-12-3 3zM286 1177l7 4 7 5 7 4 7 4 7 1 7 3 7 2 7 0 6-1 7 0 7 0 7-1 6 0 7-2 7-1 6 0 7-2 6-2 7-2 6-3 7-3 6-4 7-3 6-3 7-4 6-5 7-4 6-2 7-4 6-6 6-6 7-4-7-11-6 5-6 6-7 6-6 4-7 1-6 3-6 6-7 3-6 4-7 3-6 3-6 4-7 2-6 3-7 2-7 1-6 0-7 1-6 2-7 0-7 1-6 0-7 0-7 1-6 1-7-3-7-3-7-2-7-2-7-4-7-6-8-4zM283 1174l3 3-6-12 0 2zM280 1167l0-2-2-2z"/>
<path class="cl" d="M667.4 632.7l-1.6-1.1-3.6-1.7-3.9-2.2-1.3-1.3M640.1 719.9l-7.3-5.3-2-1.6M612.7 806.5l-4.8-2.1-3.3-3.1M587.9 891.5l-4.8-6-2.5-1.8M569 971.4l-3.5-3-3.8-4.2M540.3 1055.4l-5.3-10.1-.6-1M499.2 1137.1l-.6-1.5-3.7-11.3M283.1 1174.3l-3.5-7.6-1.8-3.9M229.6 1109.5l-3.5-7.2-2.9-5.8"/>
<path class="tl" d="M203.2 1063.5l8.3 16.2 8 11.7 7.9 10.8 7.8 11.3 8 13.3 7.6 9.1 7.4 6.8 7.5 8.7 7.4 7.4 7.3 6.3 7.1 3.9 7.3 5.9 7 3.8 7 2.8 6.9 1.6 6.9 3.1 6.9 2.5 6.7-.7 6.7-1.1 6.7 .4 6.7-.2 6.6-1 6.7 .1 6.6-2.1 6.6-.8 6.6-.2 6.6-1.6 6.5-1.7 6.5-2.7 6.5-2.1 6.4-3.9 6.5-3.1 6.4-2.7 6.4-4.1 6.4-3.5 6.4-5.5 6.4-3.3 6.5-1.4 6.4-3.8 6.3-5.7 6.3-6.4 6.3-4.9 6.3-5.5 6.2-8.4 6.1-12 6.1-13.1 6.1-12.3 6-15.3 5.9-17.5 6-17.3 6.2-14.2 6-16.8 5.9-21.3 6.1-19.9 5.8-26.1 5.9-27.5 6-24.7 6-23.1 6.3-18.5 6.1-20.2 6.2-21.5 6.3-20.1 6.2-24.2 6.3-18.9 6.3-21.3 6.3-25 6.3-25.9 6.5-15.8 6.5-16.7 6.6-15.8 6.7-1.5 6.6-7.9 6.7-10.6 6.6-10.7 6.7-3.4 6.7-4.7 6.7 4 6.7 .5 6.7-2.5"/>
<path class="bk" d="M781 674l7 19 6 19 7 12 6 12 7 23 6 21 6 21 7 18 6 18 6 25 6 22 6 22 6 25 6 23-9-9-6-23-6-25-6-24-6-21-6-24-6-19-6-15-6-20-7-23-6-22-7-13-6-15-6-22-7-18z"/>
<path class="tl" d="M773 661.2l6.6 18 6.4 22.2 6.5 14.8 6.4 12.8 6.4 22.2 6.2 22.9 6.3 20.3 6.2 14.9 6.2 18.6 6.1 24.3 6 21 6 23.9 5.9 24.8 5.9 22.9"/>
<path class="b6" d="M775 665l6 9-8-13-7-12z"/>
<path class="tl" d="M766.5 649l6.5 12.2"/>
<path class="bk" d="M748 606l7 11 7 20 6 13 7 15-9-16-6-9-7-14-6-20-7-12z"/>
<path class="tl" d="M739.8 594l6.7 11.6 6.7 20.2 6.6 13.7 6.7 9.5"/>
<path class="b7" d="M681 637l6-7 7-4 7-12 7-10 6-4 7-3 7 4 7-4 6 0 7 9-8-12-7-11-7 2-6 0-7-2-7 4-7 5-6 13-7 8-7 4-6 5zM677 644l4-7-8-15 1 20zM674 642l-1-20-6 11z"/>
<path class="b6" d="M674 651l3-7-3-2zM674 651l0-9-7-9-1 3zM654 713l7-26 6-19 7-17-8-15-7 18-6 20-6 26zM649 731l5-18-7-13 1 30zM648 730l-1-30-7 20 1 0zM641 720l-1 0z"/>
<path class="b5" d="M648 734l1-3-1-1zM648 734l0-4-7-10zM641 750l7-16-7-14-1 0zM641 750l-1-30-6 18zM622 812l7-23 6-24 6-15-7-12-7 17-6 22-6 22zM621 818l1-6-7-13 0 11zM615 810l0-11-2 7z"/>
<path class="b4" d="M616 834l5-16-6-8zM616 834l-1-24-2-4-4 16zM597 895l6-25 7-16 6-20-7-12-7 21-6 18-6 23zM595 902l2-7-7-11 0 10zM590 894l0-10-2 7z"/>
<path class="b3" d="M591 917l4-15-5-8zM591 917l-1-23-2-3-4 15zM579 973l6-28 6-28-7-11-6 28-6 27zM576 984l3-11-7-12 1 18zM573 979l-1-18-3 10z"/>
<path class="b2" d="M573 994l3-10-3-5zM573 994l0-15-4-8-3 11zM548 1061l7-15 6-13 6-17 6-22-7-12-6 22-6 18-6 14-6 16zM546 1067l2-6-6-9 0 6zM542 1058l0-6-2 3zM229 1112l7 9-4-8zM229 1112l3 1-2-3-6-8zM221 1100l8 12-5-10-8-12z"/>
<path class="b1" d="M542 1079l4-12-4-9zM542 1079l0-21-2-3-4 14zM511 1141l7-11 6-11 6-11 6-13 6-16-6-10-6 16-7 13-6 13-6 11-6 9zM505 1147l6-6-6-10zM505 1147l0-16-6 6 3 5zM504 1148l1-1-3-5zM284 1181l5 6-4-8zM284 1181l1-2-2-5-5-5zM237 1123l8 11 8 13 8 10 8 8 7 9 8 7-6-12-7-8-8-7-7-6-8-10-8-14-8-11zM236 1121l1 2-5-10zM232 1113l-2-3z"/>
<path class="b0" d="M499 1137l0 1 3 4zM499 1152l5-4-2-6-3-4zM499 1152l0-14-7 4zM291 1189l7 5 8 4 7 4 7 4 7 2 7 2 7 2 6-1 7-1 7 0 7 0 6-1 7 0 7-2 6 0 7 0 7-2 6-2 7-2 7-3 6-4 7-3 6-3 7-4 6-4 6-6 7-2 6-2 7-5 6-8 7-5-7-10-6 6-6 6-7 4-6 2-7 4-6 5-7 4-6 3-7 3-6 4-7 3-6 3-7 2-6 2-7 2-6 0-7 1-7 2-6 0-7 1-7 0-7 0-6 1-7 0-7-2-7-3-7-1-7-4-7-4-7-5-7-4zM289 1187l2 2-5-12-1 2zM285 1179l1-2-3-3z"/>
<path class="cl" d="M677.2 643.8l-3.7-1.8-6.1-9.3M648.8 731.1l-1-.8-7.2-9.8-.4-.6-.1 0M620.5 817.9l-5.4-8.1-2.4-3.3M595.3 902.1l-5-7.6-2.4-3M575.8 984.3l-3.3-5.1-3.5-7.8M546.4 1066.6l-4.6-8.9-1.5-2.3M499.2 1137.1l2.5 5.2 2.5 5.7M288.7 1186.5l-3.6-7.9-2-4.3M235.9 1120.9l-4.4-7.9-1.9-3.5"/>
<path class="tl" d="M216.4 1089.9l8.1 12.6 7.9 10.8 7.8 11.2 8.1 14 7.6 9.1 7.5 6.5 7.4 6.9 7.5 8.3 7.5 7.8 7.1 4.1 7.2 4.7 7.1 4.1 7.1 3.6 6.9 1.8 6.9 2.4 7 2.4 6.7-.4 6.7-1 6.8 .3 6.7-.2 6.6-1.2 6.8 0 6.6-1.9 6.6-.7 6.7-.3 6.5-2 6.6-1.6 6.6-2.5 6.5-2.2 6.5-3.7 6.4-3.4 6.5-3 6.5-3.9 6.4-3.4 6.4-5.3 6.4-3.3 6.5-2.1 6.5-4.3 6.3-6.4 6.3-5.4 6.4-4.6 6.4-6.4 6.2-9.6 6.1-10.5 6.2-13 6.1-13.4 6-15.8 6-17.3 6.1-16.2 6.2-13.8 6.1-17.2 5.9-22.3 6.1-21.2 5.9-26.7 5.9-28.3 6.1-21.6 6.1-23.5 6.3-18.3 6.2-20.7 6.2-23.1 6.3-21.5 6.3-22.7 6.5-16.5 6.4-18.4 6.4-19.7 6.4-25.6 6.4-20.2 6.6-18.5 6.6-14 6.7-4.8 6.7-4.2 6.7-8.2 6.7-12.9 6.7-4.6 6.7-4.2 6.8 2.2 6.7-.5 6.7-1.8 6.8 11.3"/>
<path class="bk" d="M213 1082l8 18-5-10-8-17z"/>
<path class="tl" d="M208 1073.2l8.4 16.7"/>
<path class="bk" d="M816 750l6 20 7 20 6 20 6 18 6 20 6 25 6 22 6 20 6 24 6 24-8-9-6-23-6-25-6-22-6-22-6-25-6-18-7-18-6-21-6-21-7-23z"/>
<path class="tl" d="M807.4 736.3l6.4 22.4 6.3 21.6 6.2 20.5 6.2 18.4 6.2 17.5 6.1 25.7 6.1 21.6 6 21.6 5.9 25.1 5.8 23.3"/>
<path class="b5" d="M809 740l7 10-9-14-6-12z"/>
<path class="tl" d="M801 723.9l6.4 12.4"/>
<path class="bk" d="M790 690l7 17 6 20 6 13-8-16-7-12-6-19-7-19z"/>
<path class="tl" d="M781.5 674.3l6.5 18.5 6.5 19.5 6.5 11.6"/>
<path class="b6" d="M783 679l7 11-9-16-6-9z"/>
<path class="tl" d="M774.9 664.8l6.6 9.5"/>
<path class="bk" d="M763 632l7 18 7 13 6 16-8-14-7-15-6-13-7-20z"/>
<path class="tl" d="M754.9 616.7l6.7 20.8 6.6 12.1 6.7 15.2"/>
<path class="b7" d="M695 644l7-6 7-13 7-10 7-4 6-2 7 2 7-3 7 3 7 12 6 9-8-15-7-11-7-9-6 0-7 4-7-4-7 3-6 4-7 10-7 12-7 4zM691 649l4-5-8-14 2 18zM689 648l-2-18-6 7 5 10zM686 647l-5-10 0 7zM681 644l0-7-4 7z"/>
<path class="b6" d="M689 651l2-2-2-1zM689 651l0-3-3-1zM682 661l7-10-3-4-5-3zM682 661l-1-17-4 0-3 7zM662 727l7-23 6-22 7-21-8-10-7 17-6 19-7 26zM658 740l4-13-8-14 1 25zM655 738l-1-25-5 18z"/>
<path class="b5" d="M656 746l2-6-3-2zM656 746l-1-8-6-7-1 3zM630 823l6-24 7-24 6-14 7-15-8-12-7 16-6 15-6 24-7 23zM628 829l2-6-8-11 1 9zM623 821l-1-9-1 6z"/>
<path class="b4" d="M623 845l5-16-5-8zM623 845l0-24-2-3-5 16zM604 905l7-25 6-17 6-18-7-11-6 20-7 16-6 25zM603 912l1-7-7-10 1 11zM598 906l-1-11-2 7z"/>
<path class="b3" d="M598 930l5-18-5-6zM598 930l0-24-3-4-4 15zM586 984l6-28 6-26-7-13-6 28-6 28zM583 994l3-10-7-11 1 15zM580 988l-1-15-3 11z"/>
<path class="b2" d="M580 1003l3-9-3-6zM580 1003l0-15-4-4-3 10zM555 1069l6-15 7-13 6-16 6-22-7-9-6 22-6 17-6 13-7 15zM553 1077l2-8-7-8 1 9zM549 1070l-1-9-2 6zM234 1121l8 11-5-9zM234 1121l3 2-1-2-7-9zM226 1108l8 13-5-9-8-12z"/>
<path class="b1" d="M549 1090l4-13-4-7zM549 1090l0-20-3-3-4 12zM512 1158l6-6 6-11 7-11 6-12 6-12 6-16-7-11-6 16-6 13-6 11-6 11-7 11-6 6zM509 1160l3-2-7-11 0 3zM505 1150l0-3-1 1zM289 1193l7 7-5-10zM289 1193l2-3-2-3-5-6zM242 1133l8 13 9 13 7 10 8 8 8 8 7 8-5-12-8-7-7-9-8-8-8-10-8-13-8-11zM242 1132l0 1-5-10zM237 1123l-1-2z"/>
<path class="b0" d="M505 1163l4-3-4-10zM505 1163l0-13-1-2-5 4zM297 1201l7 4 7 4 7 5 7 4 7 2 7 2 7 2 7 0 7-1 7-1 7 0 6 0 7-1 7-1 6-1 7 0 7-2 6-2 7-3 7-2 6-4 7-3 6-3 7-4 6-4 7-6 6-3 7-3 6-5 7-6 6-6-6-11-7 5-6 8-7 5-6 2-7 2-6 6-6 4-7 4-6 3-7 3-6 4-7 3-7 2-6 2-7 2-7 0-6 0-7 2-7 0-6 1-7 0-7 0-7 1-6 1-7-2-7-2-7-2-7-4-7-4-8-4-7-5zM296 1200l1 1-6-12 0 1zM291 1190l0-1-2-2z"/>
<path class="cl" d="M690.8 649.2l-2.3-.7-2.1-1.3-5.4-3.2-3.8-.2M657.8 740.1l-2.4-2.1-6.6-6.9M628.1 829l-5.5-7.8-2.1-3.3M602.7 912.3l-5.2-6-2.2-4.2M583.1 993.7l-3.6-5.5-3.7-3.9M552.9 1077.2l-4.3-6.9-2.2-3.7M509 1160l-3.9-9.6-.9-2.4M295.8 1200.1l-5.2-10.1-1.9-3.5M241.6 1131.8l-4.8-9.2-.9-1.7"/>
<path class="tl" d="M221.3 1099.8l8.1 12.4 7.9 10.6 8 11.5 8 13.1 7.7 9.7 7.6 8.1 7.5 8.3 7.6 8 7.4 7.5 7.3 4.9 7.1 4.1 7.1 3.6 7.2 4.1 7 2.5 6.9 2.1 7 1.7 6.7-.8 6.8-.7 6.7-.1 6.8 0 6.7-1 6.7-.4 6.7-2.1 6.7-.2 6.7 0 6.6-1.7 6.6-1.9 6.6-2.4 6.6-2.3 6.4-4.3 6.6-3 6.5-2.8 6.4-4.8 6.5-3.9 6.4-5.2 6.6-2.5 6.5-2.4 6.4-5 6.3-7.1 6.4-5.2 6.5-4.8 6.4-6.1 6.1-11.1 6.3-10.9 6.2-11.3 6.2-12.9 6-16.1 6.1-18.3 6.2-14.9 6.2-13.1 6.1-16.9 6.1-21.7 6.1-21.1 5.9-28.1 6-27.5 6.2-22.2 6.1-24.8 6.4-16.8 6.3-20 6.3-21.6 6.3-23.2 6.3-24 6.5-14.5 6.5-16.4 6.5-21.3 6.4-25.1 6.6-19.2 6.5-17.8 6.7-13.7 6.7-6.5 6.8-4.2 6.7-12.2 6.7-10.2 6.8-3.6 6.8-2.8 6.8 3.4 6.7-3.2 6.8-.6 6.7 8.9 6.8 10.9"/>
<path class="bk" d="M218 1090l8 18-5-8-8-18z"/>
<path class="tl" d="M212.8 1081.9l8.5 17.9"/>
<path class="bk" d="M825 765l6 20 6 16 7 19 6 19 6 20 6 27 6 18 6 20 6 22 6 23-9-6-6-24-6-24-6-20-6-22-6-25-6-20-6-18-6-20-7-20-6-20z"/>
<path class="tl" d="M816 750.5l6.3 19.7 6.4 19.3 6.2 20.5 6.3 17.9 6.1 20.5 6.1 25 6.1 21.4 6 20.2 5.9 23.9 5.9 23.8"/>
<path class="b5" d="M818 755l7 10-9-15-7-10z"/>
<path class="tl" d="M809.5 740.5l6.5 10"/>
<path class="bk" d="M765 634l7 10 7 20 6 15 7 12 7 11 6 16 7 22 6 15-9-15-6-13-6-20-7-17-7-11-6-16-7-13-7-18-6-9z"/>
<path class="tl" d="M756.6 623.3l6.7 8.9 6.7 18.2 6.7 12.3 6.6 15.8 6.7 11.5 6.5 17 6.5 20.3 6.5 13.2"/>
<path class="b7" d="M711 654l6-11 7-14 7-2 7-4 7 3 6 1 7-1 7 8-8-11-7-12-7-3-7 3-7-2-6 2-7 4-7 10-7 13zM704 660l7-6-9-16 2 21zM704 659l-2-21-7 6 8 14zM703 658l-8-14 1 8zM696 652l-1-8-4 5z"/>
<path class="b6" d="M704 660l0-1zM704 660l0-1-1-1zM697 667l7-7-1-2-7-6zM697 667l-1-15-5-3-2 2zM670 741l7-21 6-24 7-19 7-10-8-16-7 10-7 21-6 22-7 23zM668 748l2-7-8-14 1 18zM663 745l-1-18-4 13z"/>
<path class="b5" d="M664 759l4-11-5-3zM664 759l-1-14-5-5-2 6zM637 834l7-25 6-23 7-13 7-14-8-13-7 15-6 14-7 24-6 24zM635 842l2-8-7-11 0 11zM630 834l0-11-2 6z"/>
<path class="b4" d="M631 855l4-13-5-8zM631 855l-1-21-2-5-5 16zM612 917l6-27 7-18 6-17-8-10-6 18-6 17-7 25zM609 926l3-9-8-12 1 11zM605 916l-1-11-1 7z"/>
<path class="b3" d="M606 939l3-13-4-10zM606 939l-1-23-2-4-5 18zM593 995l7-28 6-28-8-9-6 26-6 28zM590 1006l3-11-7-11 1 17zM587 1001l-1-17-3 10z"/>
<path class="b2" d="M587 1015l3-9-3-5zM587 1015l0-14-4-7-3 9zM562 1079l6-13 7-14 6-17 6-20-7-12-6 22-6 16-7 13-6 15zM559 1089l3-10-7-10 1 14zM556 1083l-1-14-2 8zM239 1132l8 12-5-11zM239 1132l3 1 0-1-8-11zM231 1117l8 15-5-11-8-13z"/>
<path class="b1" d="M556 1101l3-12-3-6zM556 1101l0-18-3-6-4 13zM518 1169l7-7 6-11 6-10 7-11 6-13 6-16-7-11-6 16-6 12-6 12-7 11-6 11-6 6zM514 1172l4-3-6-11 0 7zM512 1165l0-7-3 2zM294 1203l6 7-4-9zM294 1203l2-2 0-1-7-7zM248 1144l8 13 8 14 8 11 7 8 8 7 7 6-5-10-7-8-8-8-8-8-7-10-9-13-8-13zM247 1144l1 0-6-11zM242 1133l0-1z"/>
<path class="b0" d="M512 1174l2-2-2-7zM512 1174l0-9-3-5-4 3zM302 1211l7 5 7 4 8 6 7 4 7 3 7 1 7 3 7 0 7-2 7 0 6-1 7 0 7-1 7-2 6 0 7 0 7-2 7-3 6-3 7-2 6-4 7-2 7-4 6-4 7-4 6-6 7-3 6-3 7-6 6-7 7-4-7-11-6 6-7 6-6 5-7 3-6 3-7 6-6 4-7 4-6 3-7 3-6 4-7 2-7 3-6 2-7 2-7 0-6 1-7 1-7 1-6 0-7 0-7 1-7 1-7 0-7-2-7-2-7-2-7-4-7-5-7-4-7-4zM300 1210l2 1-5-10-1 0zM296 1201l1 0-1-1z"/>
<path class="cl" d="M704.4 659.5l-.8-.8-1.1-.8-6.5-5.6-5.2-3.1M667.8 747.5l-4.8-2.6-5.2-4.8M634.8 842.4l-4.6-8.8-2.1-4.6M609.5 925.8l-4.6-9.5-2.2-4M590.2 1005.6l-3.4-5-3.7-6.9M559.3 1089.2l-3.7-6.5-2.7-5.5M514.4 1171.7l-2.7-6.9-2.7-4.8M300.5 1209.7l-4.2-8.5-.5-1.1M247.5 1143.9l-5.4-11.1-.5-1"/>
<path class="tl" d="M226.2 1108.5l8.2 12.9 8 11.5 8 12.9 8.1 13.2 7.8 9.5 7.6 8.2 7.6 8.8 7.5 7.4 7.5 8 7.3 4.2 7.2 4.2 7.2 4.5 7.2 4.3 7 2.2 7 1.9 7 2.2 6.8 0 6.7-1.5 6.8-.5 6.8 0 6.8-.9 6.7-.3 6.7-1.5 6.8-.8 6.7 0 6.7-1.6 6.6-2.6 6.6-2.7 6.6-2.2 6.5-4.2 6.6-2.5 6.5-3.2 6.6-4 6.5-4.1 6.4-5.6 6.5-3.2 6.6-3.3 6.4-4.9 6.4-6.2 6.5-5.8 6.4-4.7 6.4-6.3 6.3-10.9 6.3-10.8 6.2-11.8 6.2-12.6 6.2-15.9 6-20.5 6.2-15.3 6.3-12.7 6.2-16.7 6.1-21.8 6.2-18.4 6-28.6 6.1-26.2 6.2-24.2 6.2-25.9 6.4-16.6 6.4-18.1 6.3-21.5 6.4-24.4 6.4-23.6 6.5-14.1 6.6-15.1 6.6-19.3 6.5-22.6 6.5-22.3 6.7-20.7 6.7-9.7 6.8-7.4 6.7-6.5 6.8-12.8 6.8-9.8 6.8-3.8 6.8-1.8 6.8 2 6.8-3.6 6.8 3.7 6.8 11.8"/>
<path class="bk" d="M223 1100l8 17-5-9-8-18z"/>
<path class="tl" d="M217.6 1090l8.6 18.5"/>
<path class="bk" d="M774 645l7 15 6 21 7 10 7 10 6 13 7 17 6 19 7 15 6 13 7 17 6 18 6 17 7 19 6 21 6 25 6 18 6 21 6 23 6 23-9-11-6-23-6-22-6-20-6-18-6-27-6-20-6-19-7-19-6-16-6-20-7-10-6-15-7-22-6-16-7-11-7-12-6-15-7-20-7-10z"/>
<path class="tl" d="M765.1 634.2l6.8 9.8 6.7 19.7 6.7 14.9 6.6 12.5 6.7 10.6 6.5 16.5 6.5 21.3 6.5 15.3 6.5 10.3 6.4 19.4 6.3 16.4 6.3 19.4 6.3 18.6 6.2 20.2 6 26.7 6.1 18.1 6 20.2 6 22.2 5.9 23"/>
<path class="b7" d="M719 667l7-12 7-12 6-1 7-1 7-1 7 0 7-2 7 7-9-11-7-8-7 1-6-1-7-3-7 4-7 2-7 14-6 11zM716 670l3-3-8-13 0 11zM711 665l0-11-7 6z"/>
<path class="b6" d="M712 674l4-4-5-5zM712 674l-1-9-7-5zM685 736l7-24 6-19 7-11 7-8-8-14-7 7-7 10-7 19-6 24zM679 756l6-20-8-16 1 36zM678 756l-1-36-7 21 7 14zM677 755l-7-14 1 9zM671 750l-1-9-2 7z"/>
<path class="b5" d="M678 757l1-1-1 0zM678 757l0-1-1-1zM672 772l6-15-1-2-6-5zM672 772l-1-22-3-2-4 11zM645 842l7-24 6-20 7-12 7-14-8-13-7 14-7 13-6 23-7 25zM642 852l3-10-8-8 1 12zM638 846l-1-12-2 8z"/>
<path class="b4" d="M639 861l3-9-4-6zM639 861l-1-15-3-4-4 13zM619 926l7-24 6-22 7-19-8-6-6 17-7 18-6 27zM617 934l2-8-7-9 0 12zM612 929l0-12-3 9z"/>
<path class="b3" d="M613 947l4-13-5-5zM613 947l-1-18-3-3-3 13zM601 1007l6-30 6-30-7-8-6 28-7 28zM597 1019l4-12-8-12 1 18zM594 1013l-1-18-3 11z"/>
<path class="b2" d="M594 1025l3-6-3-6zM594 1025l0-12-4-7-3 9zM569 1089l7-14 6-14 6-16 6-20-7-10-6 20-6 17-7 14-6 13zM566 1101l3-12-7-10 1 16zM563 1095l-1-16-3 10zM253 1155l-4-7zM245 1143l8 12-4-7-1-4zM245 1143l3 1-1 0-8-12zM228 1111l8 18 9 14-6-11-8-15-8-17z"/>
<path class="b1" d="M563 1111l3-10-3-6zM563 1111l0-16-4-6-3 12zM525 1180l6-8 7-10 6-10 7-13 6-13 6-15-7-10-6 16-6 13-7 11-6 10-6 11-7 7zM520 1184l5-4-7-11 0 11zM518 1180l0-11-4 3zM300 1217l6 6-4-11zM300 1217l2-5-2-2-6-7zM261 1169l8 14 8 10 8 8 7 8 8 8-6-14-7-6-8-7-7-8-8-11-8-14zM253 1155l8 14-5-12-3-2zM253 1155l3 2-8-13 1 4zM249 1148l-1-4z"/>
<path class="b0" d="M518 1185l2-1-2-4zM518 1185l0-5-4-8-2 2zM307 1224l8 5 7 5 7 4 8 3 7 4 7 2 7 1 7 1 7-1 7 0 6-1 7-1 7-1 7-2 7-1 6 0 7-1 7-3 7-2 6-3 7-4 6-3 7-4 7-3 6-4 7-6 6-3 7-3 6-6 7-7 6-5-6-11-7 4-6 7-7 6-6 3-7 3-6 6-7 4-6 4-7 4-7 2-6 4-7 2-6 3-7 3-7 2-7 0-6 0-7 2-7 1-7 0-6 1-7 0-7 2-7 0-7-3-7-1-7-3-7-4-8-6-7-4-7-5zM306 1223l1 1-5-13 0 1zM302 1212l0-1-2-1z"/>
<path class="cl" d="M715.8 670l-4.5-5-6.9-5.5M678.6 756.3l-.3-.4-1.2-1.1-6.5-4.8-2.8-2.5M641.8 851.9l-3.8-5.9-3.2-3.6M617.1 933.8l-4.7-4.7-2.9-3.3M596.7 1018.6l-2.6-6-3.9-7M565.9 1100.5l-3.3-5.1-3.3-6.2M520.1 1183.9l-1.7-3.4-4-8.8M305.8 1222.5l-4.3-10.2-1-2.6M252.9 1155.3l-.1-.3-3.5-7.3-1.8-3.7 0-.1"/>
<path class="tl" d="M222.5 1099.6l8.6 17.5 8.3 14.5 8.1 12.5 8.1 12.7 8.2 14.7 7.9 10.5 7.6 7.9 7.6 7 7.4 6.1 7.6 8.2 7.3 5.1 7.3 4.1 7.3 5.3 7.2 4 7.1 3.2 7 1.6 7 2.1 6.9 .1 6.8-1.5 6.8-.6 6.8-.2 6.8-.7 6.8-.3 6.7-1.9 6.8-.8 6.8-.1 6.7-1.2 6.6-3.2 6.6-2.7 6.7-2.2 6.6-3.8 6.6-2.7 6.5-3.8 6.6-3.7 6.5-4.1 6.5-5.7 6.6-3.3 6.6-3.4 6.4-5.3 6.5-7.2 6.5-4.8 6.5-4.4 6.4-7.6 6.3-10.6 6.3-9.9 6.3-11.4 6.3-12.9 6.2-15.7 6-22.1 6.4-13.2 6.3-13.5 6.2-17 6.2-20.4 6.3-19.4 6-28.8 6.1-27.4 6.3-22 6.3-26.8 6.4-18.9 6.5-16.9 6.4-20.8 6.4-25.3 6.4-22.5 6.7-12.8 6.6-14.7 6.6-17.5 6.6-21.2 6.6-23.5 6.7-19.5 6.8-9.8 6.8-6.8 6.8-6.5 6.8-10.9 6.8-13.8 6.9-2.4 6.8-3.2 6.9 3 6.8 .1 6.8-.1 6.8 7.8"/>
<path class="bk" d="M782 658l7 13 7 20 7 11 6 12 7 15 7 13 6 19 7 18 6 13 7 13 6 17 6 18 7 21 6 25 6 21 6 16 6 20 6 24 6 23-9-10-6-23-6-23-6-21-6-18-6-25-6-21-7-19-6-17-6-18-7-17-6-13-7-15-6-19-7-17-6-13-7-10-7-10-6-21-7-15z"/>
<path class="tl" d="M773.7 645.2l6.8 14.9 6.7 20.5 6.7 10.8 6.7 9.3 6.7 12.8 6.6 17.5 6.5 19.3 6.5 14.4 6.5 13.4 6.4 16.8 6.3 17.6 6.3 17.5 6.3 18.6 6.2 21.4 6 25.1 6.2 17.6 6 21 5.9 23.6 5.9 22.4"/>
<path class="b7" d="M734 667l7-9 7 2 7-3 7-2 7 0 7-3 6 6-8-13-7-7-7 2-7 0-7 1-7 1-6 1-7 12zM729 675l5-8-8-12 1 20zM727 675l-1-20-7 12 5 7zM724 674l-5-7 0 6zM719 673l0-6-3 3z"/>
<path class="b6" d="M727 678l2-3-2 0zM727 678l0-3-3-1zM720 688l7-10-3-4-5-1zM720 688l-1-15-3-3-4 4zM693 751l7-22 7-22 7-12 6-7-8-14-7 8-7 11-6 19-7 24zM687 772l6-21-8-15 1 36zM686 772l-1-36-6 20z"/>
<path class="b5" d="M686 773l1-1-1 0zM686 773l0-1-7-16-1 1zM653 850l7-22 6-18 7-12 7-12 6-13-8-16-6 15-7 14-7 12-6 20-7 24zM649 862l4-12-8-8 1 15zM646 857l-1-15-3 10z"/>
<path class="b4" d="M646 870l3-8-3-5zM646 870l0-13-4-5-3 9zM627 938l6-26 7-21 6-21-7-9-7 19-6 22-7 24zM625 943l2-5-8-12 1 11zM620 937l-1-11-2 8z"/>
<path class="b3" d="M621 958l4-15-5-6zM621 958l-1-21-3-3-4 13zM608 1015l6-29 7-28-8-11-6 30-6 30zM604 1028l4-13-7-8 0 17zM601 1024l0-17-4 12z"/>
<path class="b2" d="M602 1035l2-7-3-4zM602 1035l-1-11-4-5-3 6zM576 1100l7-14 6-15 6-18 7-18-8-10-6 20-6 16-6 14-7 14zM572 1115l4-15-7-11 1 21zM570 1110l-1-21-3 12zM253 1155l2 5zM250 1156l8 11-3-7-2-5zM250 1156l3-1-8-12zM242 1142l8 14-5-13-9-14zM233 1121l9 21-6-13z"/>
<path class="b1" d="M570 1120l2-5-2-5zM570 1120l0-10-4-9-3 10zM532 1191l6-9 7-11 6-10 6-12 7-13 6-16-7-9-6 15-6 13-7 13-6 10-7 10-6 8zM525 1197l7-6-7-11zM525 1197l0-17-5 4 5 12zM525 1197l0-1zM306 1230l5 5-4-9zM306 1230l1-4-1-3-6-6zM266 1179l9 15 7 11 8 9 8 9 8 7-6-13-8-8-7-8-8-8-8-10-8-14zM258 1167l8 12-5-10zM258 1167l3 2-8-14 2 5zM258 1167l-3-7z"/>
<path class="b0" d="M520 1184l-2 1 7 11zM519 1203l6-6 0-1-7-11zM519 1203l-1-18-6 5zM313 1237l8 5 7 4 7 5 7 3 8 4 7 1 7 2 7 0 7-1 7 0 6 0 7-2 7 0 7-2 7-2 7 1 6-2 7-3 7-2 7-2 6-5 7-4 6-4 7-1 7-4 6-6 7-4 7-2 6-6 7-7-7-13-7 7-6 6-7 3-6 3-7 6-6 4-7 3-7 4-6 3-7 4-6 3-7 2-7 3-7 1-6 0-7 1-7 2-7 1-7 1-6 1-7 0-7 1-7-1-7-1-7-2-7-4-8-3-7-4-7-5-8-5zM311 1235l2 2-6-13 0 2zM307 1226l0-2-1-1z"/>
<path class="bk" d="M233 1121l3 8-8-18z"/>
<path class="cl" d="M729 675.3l-1.9-.5-3.1-1.1-4.7-.6-3.5-3.1M686.7 772.3l-.3-.2-7.8-15.8M649.1 861.7l-3.2-4.2-4.1-5.6M625.2 943.5l-5.4-6.2-2.7-3.5M604.1 1027.6l-2.7-3.6-4.7-5.4M571.8 1114.8l-2-4.5-3.9-9.8M520.1 1183.9l4.5 11.6 .5 1.3M311.1 1235.2l-4.1-9.4-1.2-3.3M252.9 1155.3l1.9 4.3 3.1 7"/>
<path class="tl" d="M227.7 1110.8l8.6 17.9 8.4 14.5 8.1 11.8 8.2 14 8.2 13.9 7.8 10 7.7 8 7.7 8.4 7.6 7.6 7.5 7.3 7.3 4.9 7.3 4.5 7.3 4.4 7.2 3.3 7.2 3.7 7 1.6 7.1 1.9 6.9 .5 6.9-1.3 6.8 0 6.9-.6 6.8-1.3 6.8-.6 6.7-2.3 6.8-1 6.9 .4 6.7-1.4 6.7-2.7 6.7-2.1 6.7-2.7 6.6-4.1 6.6-3.2 6.6-4.3 6.6-2.9 6.6-4.1 6.5-5.8 6.6-3.1 6.7-3.1 6.5-6 6.4-7.1 6.6-4.5 6.5-5.3 6.4-8 6.4-10.1 6.4-10.1 6.3-12.5 6.3-12.9 6.3-15.6 6.1-21.8 6.3-14.2 6.4-13.2 6.3-17 6.3-19.5 6.3-18.3 6.1-29.6 6.1-29.6 6.4-21.7 6.3-24 6.5-21.5 6.5-19.1 6.5-19.5 6.5-23.3 6.5-20.8 6.7-12.1 6.7-13.6 6.7-14.8 6.7-20.9 6.6-24.1 6.7-19.3 6.9-10.8 6.8-7.7 6.9-7.7 6.8-11.8 6.9-12.2 6.8-.4 6.9-1.6 6.9-.8 6.9-.2 6.8-1.8 6.8 7.4"/>
<path class="bk" d="M791 672l7 11 7 17 7 13 6 13 7 15 7 13 6 18 7 19 6 9 7 16 6 20 6 16 7 21 6 22 6 21 6 19 6 20 6 23 6 22-9-10-6-23-6-24-6-20-6-16-6-21-6-25-7-21-6-18-6-17-7-13-6-13-7-18-6-19-7-13-7-15-6-12-7-11-7-20-7-13z"/>
<path class="tl" d="M782.5 658.3l6.8 13 6.7 19.7 6.7 11.1 6.7 12.3 6.7 14.7 6.6 12.9 6.5 18.9 6.5 17.8 6.5 12.9 6.5 13.6 6.3 16.8 6.4 17.6 6.2 21.4 6.1 24.6 6.1 21 6.2 16.1 6 20.1 6 24.2 5.9 22.5"/>
<path class="b7" d="M743 683l7-8 7 1 7-2 7-1 6-1 7-1 7 1-9-14-6-6-7 3-7 0-7 2-7 3-7-2-7 9zM740 687l3-4-9-16 1 16zM735 683l-1-16-5 8z"/>
<path class="b6" d="M736 694l4-7-5-4zM736 694l-1-11-6-8-2 3zM701 767l7-22 7-23 7-13 7-7 7-8-9-16-7 10-6 7-7 12-7 22-7 22zM696 779l5-12-8-16 1 26zM694 777l-1-26-6 21z"/>
<path class="b5" d="M695 783l1-4-2-2zM695 783l-1-6-7-5-1 1zM661 858l7-20 6-18 7-12 7-14 7-11-9-10-6 13-7 12-7 12-6 18-7 22zM656 876l5-18-8-8 1 23zM654 873l-1-23-4 12z"/>
<path class="b4" d="M654 880l2-4-2-3zM654 880l0-7-5-11-3 8zM635 950l6-26 7-23 6-21-8-10-6 21-7 21-6 26zM633 957l2-7-8-12 0 9zM627 947l0-9-2 5z"/>
<path class="b3" d="M628 970l5-13-6-10zM628 970l-1-23-2-4-4 15zM616 1025l6-28 6-27-7-12-7 28-6 29zM612 1039l4-14-8-10 1 20zM609 1035l-1-20-4 13z"/>
<path class="b2" d="M609 1047l3-8-3-4zM609 1047l0-12-5-7-2 7zM584 1109l6-13 6-14 7-19 6-16-7-12-7 18-6 18-6 15-7 14zM579 1124l5-15-8-9 1 22zM577 1122l-1-22-4 15zM255 1168l8 12-5-13zM255 1168l3-1-8-11zM238 1134l9 20 8 14-5-12-8-14-9-21z"/>
<path class="b1" d="M577 1128l2-4-2-2zM577 1128l0-6-5-7-2 5zM539 1203l6-9 7-11 6-11 7-12 6-15 6-17-7-8-6 16-7 13-6 12-6 10-7 11-6 9zM533 1207l6-4-7-12 0 14zM532 1205l0-14-7 6 1 1zM526 1198l-1-1zM311 1244l5 4-3-9zM311 1244l2-5-2-4-5-5zM264 1180l8 13 8 13 8 12 8 9 8 9 7 8-5-14-8-7-8-9-8-9-7-11-9-15-8-12zM263 1180l1 0-6-13z"/>
<path class="b0" d="M532 1208l1-1-1-2zM532 1208l0-3-6-7zM526 1214l6-6-6-10-1-1zM526 1214l-1-17-6 6zM319 1250l7 5 8 4 7 4 7 4 7 3 8 2 7 1 7 1 7-1 7 0 7-1 6-1 7-1 7-1 7-2 7 0 7-1 6-3 7-3 7-2 7-4 6-4 7-5 7-2 6-3 7-6 7-5 6-2 7-5 7-8-7-11-7 7-6 6-7 2-7 4-6 6-7 4-7 1-6 4-7 4-6 5-7 2-7 2-7 3-6 2-7-1-7 2-7 2-7 0-7 2-6 0-7 0-7 1-7 0-7-2-7-1-8-4-7-3-7-5-7-4-8-5zM316 1248l3 2-6-13 0 2zM313 1239l0-2-2-2z"/>
<path class="cl" d="M740.1 687.4l-4.9-3.9-6.2-8.2M696.3 778.9l-1.9-2.1-7.7-4.5M655.5 875.7l-1.5-2.9-4.9-11.1M632.7 956.6l-5.3-9.6-2.2-3.5M611.6 1038.9l-2.8-4-4.7-7.3M578.6 1123.7l-1.6-1.8-5.2-7.1M533.1 1207l-1.1-2.4-6-6.6-.7-1-.2-.2M316.4 1247.9l-3.7-8.9-1.6-3.8M263.5 1180l-5.4-13-.2-.4"/>
<path class="tl" d="M232.8 1121.5l8.9 20.2 8.3 14.1 8.1 11.1 8.2 12.3 8.2 14.4 8 11.2 7.8 9.2 7.7 9 7.6 7.1 7.6 7 7.3 5 7.4 4.2 7.3 4.6 7.2 3.3 7.2 3.5 7.1 1.6 7 1.3 7 .7 6.9-1 6.9-.3 6.9-.3 6.9-1.5 6.8-.5 6.8-2 6.8-1.4 6.9 .3 6.8-1.5 6.7-2.7 6.7-2.4 6.8-1.9 6.6-4.8 6.6-4.1 6.6-4.1 6.8-1.6 6.6-4 6.6-5.5 6.6-3.8 6.7-2.7 6.5-5.1 6.5-7.6 6.5-6.1 6.6-5.3 6.5-9.3 6.3-10.9 6.5-10.6 6.4-11.3 6.3-13.7 6.3-15.3 6.2-20.4 6.4-14.3 6.4-14.5 6.3-18.2 6.4-18.1 6.3-20.1 6.2-29.1 6.3-27.3 6.4-20.8 6.4-25.5 6.5-21.5 6.5-20.2 6.6-20.8 6.5-21.6 6.7-17.7 6.7-12.6 6.8-12 6.8-12.6 6.7-21.9 6.7-22.3 6.8-21.6 6.8-12 6.9-7.2 6.9-9.8 6.9-11.7 6.9-8.3 6.9 1.7 6.9-2.9 6.9-2 6.9 .1 6.9-3.3 6.9 6.5"/>
<path class="bk" d="M807 699l7 13 7 13 6 15 7 16 7 12 6 19 7 15 6 10 7 17 6 18 6 16 7 21 6 21 6 19 6 21 6 20 6 24 6 22-9-11-6-22-6-23-6-20-6-19-6-21-6-22-7-21-6-16-6-20-7-16-6-9-7-19-6-18-7-13-7-15-6-13-7-13-7-17z"/>
<path class="tl" d="M798.1 682.7l6.8 17.5 6.7 13.1 6.7 12.3 6.7 15 6.6 13.6 6.6 17.9 6.5 18.5 6.5 9.3 6.5 15.7 6.3 20.1 6.4 16.2 6.2 20.8 6.1 22.6 6.2 20.9 6.1 18.9 6.1 20 5.9 23.3 5.9 21.3"/>
<path class="b6" d="M800 691l7 8-9-16zM800 691l-2-8-5-8 3 6zM793 686l7 5-4-10-3 2zM793 686l0-3 0 2zM786 688l7-2 0-1-7-2zM786 688l0-5-2 0zM779 691l7-3-2-5-5 4zM779 691l0-4-2 0zM776 692l3-1-2-4zM751 697l7-6-7-5zM751 697l0-11-6 1zM744 706l7-9-6-10-2-1zM744 706l-1-20-3 1-4 7zM710 781l7-19 7-26 7-15 7-10 6-5-8-12-7 8-7 7-7 13-7 23-7 22zM705 790l5-9-9-14 2 21zM703 788l-2-21-5 12z"/>
<path class="b7" d="M793 675l-2-3 5 9zM796 681l-5-9 2 11zM793 683l-2-11-7-1 9 14zM793 685l-9-14 2 12zM786 683l-2-12-7 1 7 11zM784 683l-7-11 2 15zM779 687l-2-15-6 1 6 14zM772 693l4-1 1-5-6-14zM772 693l-1-20-7 1zM758 690l7 3 7 0-8-19-7 2-7-1zM758 691l0-1-8-15 1 11zM751 686l-1-11-7 8 2 4zM745 687l-2-4 0 3zM743 686l0-3-3 4z"/>
<path class="b5" d="M703 796l2-6-2-2zM703 796l0-8-7-9-1 4zM669 866l7-19 6-15 7-13 7-15 7-8-8-13-7 11-7 14-7 12-6 18-7 20zM663 884l6-18-8-8 1 24zM662 882l-1-24-5 18z"/>
<path class="b4" d="M662 886l1-2-1-2zM662 886l0-4-6-6-2 4zM643 961l6-27 7-25 6-23-8-6-6 21-7 23-6 26zM641 967l2-6-8-11 0 10zM635 960l0-10-2 7z"/>
<path class="b3" d="M636 981l5-14-6-7zM636 981l-1-21-2-3-5 13zM623 1035l7-28 6-26-8-11-6 27-6 28zM619 1053l4-18-7-10 0 24zM616 1049l0-24-4 14z"/>
<path class="b2" d="M617 1060l2-7-3-4zM617 1060l-1-11-4-10-3 8zM591 1121l6-14 7-15 6-16 7-16-8-13-6 16-7 19-6 14-6 13zM585 1138l6-17-7-12 0 28zM584 1137l0-28-5 15zM261 1178l8 14-5-12zM261 1178l3 2-1 0-8-12zM252 1164l9 14-6-10-8-14z"/>
<path class="b1" d="M584 1139l1-1-1-1zM584 1139l0-2-5-13-2 4zM546 1214l6-11 7-11 6-9 7-13 6-14 6-17-7-11-6 17-6 15-7 12-6 11-7 11-6 9zM540 1220l6-6-7-11 0 15zM539 1218l0-15-6 4zM317 1257l4 4-3-9zM317 1257l1-5-2-4-5-4zM269 1193l8 13 9 13 8 12 8 10 7 9 8 7-6-13-7-8-8-9-8-9-8-12-8-13-8-13zM269 1192l0 1-5-13z"/>
<path class="b0" d="M539 1221l1-1-1-2zM539 1221l0-3-6-11-1 1zM325 1263l7 6 8 4 7 4 7 4 7 3 8 1 7 1 7 1 7 0 7-1 7-1 7-2 7 0 6-1 7-3 7 1 7-2 7-3 7-2 7-2 6-4 7-5 7-5 6-2 7-3 7-5 6-5 7-3 7-5 6-6 7-7-7-13-6 6-7 8-7 5-6 2-7 5-7 6-6 3-7 2-7 5-6 4-7 4-7 2-7 3-6 3-7 1-7 0-7 2-7 1-7 1-6 1-7 1-7 0-7 1-7-1-7-1-8-2-7-3-7-4-7-4-8-4-7-5zM321 1261l4 2-6-13-1 2zM318 1252l1-2-3-2z"/>
<path class="cl" d="M793.3 675.1l2.4 6-2.8 2.1-.3 1.6-6.8-1.7-2.1 0-4.7 4.1-1.7-.6-.9 5.3M757.6 691.2l-7-5-5.6 .5-2-1-2.9 1.7M705.5 790.4l-2.9-2.1-6.3-9.4M662.9 883.6l-.9-1.4-6.5-6.5M640.7 966.5l-5.6-6.7-2.4-3.2M618.5 1053.2l-2-3.9-4.9-10.4M584.8 1137.8l-.4-.7-5.8-13.4M540.2 1220l-1.2-2.4-5.9-10.6M321.5 1260.6l-3.2-8.4-1.9-4.3M269 1192.5l-5.4-12.4-.1-.1"/>
<path class="tl" d="M247.1 1154.1l8.3 13.9 8.2 12.2 8.2 12.3 8.2 14 8.1 11.5 7.8 8.9 7.8 9.5 7.7 7.7 7.5 5.7 7.4 5.4 7.3 3.3 7.4 4.9 7.3 3.9 7.2 2.9 7.1 1.4 7.1 1.3 7 1 7-.7 6.9-.1 6.9-.8 6.9-1.4 6.9-.7 6.9-1.5 6.8-2 6.9 .3 6.8-1.2 6.8-2.8 6.7-2.7 6.8-2.3 6.7-4.2 6.6-4.1 6.7-5 6.7-1.6 6.7-3.2 6.6-5.6 6.7-5.1 6.7-2.4 6.6-4.4 6.5-8.5 6.6-6.1 6.6-5.1 6.5-9.1 6.4-11 6.5-10.3 6.4-12.2 6.4-15.1 6.3-17.1 6.3-19 6.5-12.8 6.4-14.3 6.4-18.4 6.5-16.1 6.3-22.8 6.3-27.8 6.3-26.7 6.5-19.6 6.5-26 6.5-23.2 6.6-21.4 6.6-21.4 6.6-20.5 6.7-17.5 6.8-11.9 6.8-14.5 6.9-11.2 6.8-16.1 6.8-21.4 6.8-23.7 6.9-12.9 6.9-6.9 7-7.6 6.9-11.1 6.9-7.8 7 .6 6.9-2 7-.9 6.9-1.3 6.9-1.2 6.9 1.5 6.8 10.7"/>
<path class="bk" d="M243 1145l9 19-5-10-9-20z"/>
<path class="tl" d="M238.2 1134.5l8.9 19.6"/>
<path class="bk" d="M816 714l7 14 7 14 6 15 7 13 7 10 6 19 7 15 7 8 6 17 6 15 7 19 6 21 6 20 6 20 6 20 6 22 6 22 6 22-9-9-6-22-6-24-6-20-6-21-6-19-6-21-7-21-6-16-6-18-7-17-6-10-7-15-6-19-7-12-7-16-6-15-7-13-7-13z"/>
<path class="tl" d="M807.1 699.5l6.8 13 6.7 12.5 6.7 15.5 6.7 15.7 6.6 11.6 6.6 18.9 6.5 15.5 6.6 9.4 6.4 17.2 6.4 18.4 6.4 15.9 6.2 20.8 6.2 21.6 6.2 18.7 6.1 20.3 6 21 5.9 23.6 6 21.5"/>
<path class="b6" d="M788 708l7 0 7-3 7 1 7 8-9-15-7-8-7-5-7 2-7 3zM781 705l7 3-9-17zM781 705l-2-14-3 1 0 6zM774 707l7-2-5-7-3-1zM774 707l-1-10-7-2zM767 708l7-1-8-12 0-1zM767 708l-1-14-6-1zM760 719l7-11-7-15-1 0zM760 719l-1-26-1-2-7 6zM718 795l7-10 7-18 7-13 7-10 7-8 7-17-9-22-7 9-6 5-7 10-7 15-7 26-7 19zM714 802l4-7-8-14 1 16zM711 797l-1-16-5 9z"/>
<path class="b7" d="M776 692l-4 1 4 5zM776 698l-4-5 1 4zM773 697l-1-4-7 0 1 2zM766 695l-1-2 1 1zM766 694l-1-1-7-3 2 3zM760 693l-2-3 1 3zM759 693l-1-3 0 1z"/>
<path class="b5" d="M711 807l3-5-3-5zM711 807l0-10-6-7-2 6zM677 874l7-20 7-14 7-11 6-17 7-5-8-11-7 8-7 15-7 13-6 15-7 19zM671 893l6-19-8-8 1 26zM670 892l-1-26-6 18z"/>
<path class="b4" d="M670 895l1-2-1-1zM670 895l0-3-7-8-1 2zM650 973l7-26 7-28 6-24-8-9-6 23-7 25-6 27zM649 978l1-5-7-12 0 8zM643 969l0-8-2 6z"/>
<path class="b3" d="M644 993l5-15-6-9zM644 993l-1-24-2-2-5 14zM631 1044l6-25 7-26-8-12-6 26-7 28zM626 1064l5-20-8-9 1 27zM624 1062l-1-27-4 18z"/>
<path class="b2" d="M624 1069l2-5-2-2zM624 1069l0-7-5-9-2 7zM598 1132l7-15 6-16 7-13 6-19-7-9-7 16-6 16-7 15-6 14zM592 1147l6-15-7-11 1 25zM592 1146l-1-25-6 17zM266 1190l8 14-5-11zM266 1190l3 3 0-1-8-14zM249 1157l9 20 8 13-5-12-9-14-9-19z"/>
<path class="b1" d="M592 1148l0-1 0-1zM592 1148l0-2-7-8-1 1zM553 1225l6-11 7-11 6-10 7-12 6-17 7-16-8-9-6 17-6 14-7 13-6 9-7 11-6 11zM546 1234l7-9-7-11 0 19zM546 1233l0-19-6 6zM323 1270l3 3-2-6zM323 1270l1-3-3-6-4-4zM275 1205l8 14 8 14 8 11 8 10 8 10 8 6-6-13-8-7-7-9-8-10-8-12-9-13-8-13zM274 1204l1 1-6-12z"/>
<path class="b0" d="M546 1234l0-1zM546 1234l0-1-6-13-1 1zM331 1277l7 6 8 4 7 4 7 4 8 3 7 1 7 1 7 1 7 0 7-2 7-1 7-2 7 0 7-1 7-3 7 0 7-2 6-2 7-3 7-1 7-4 7-6 6-5 7-2 7-3 7-5 6-4 7-3 7-6 6-6 7-6-7-13-7 7-6 6-7 5-7 3-6 5-7 5-7 3-6 2-7 5-7 5-6 4-7 2-7 2-7 3-7 2-7-1-7 3-6 1-7 0-7 2-7 1-7 1-7 0-7-1-7-1-8-1-7-3-7-4-7-4-8-4-7-6zM326 1273l5 4-6-14-1 4zM324 1267l1-4-4-2z"/>
<path class="cl" d="M776.4 691.9l-.5 6-3-.8-6.5-2.5-.8-.1-5.8-1.4-1.2-.5-1-1.4M714 802.2l-3.1-4.9-5.4-6.9M670.9 892.8l-.8-.7-7.2-8.5M648.6 978.1l-5.7-8.8-2.2-2.8M625.6 1064.4l-1.4-2.1-5.7-9.1M592.3 1146.7l-.6-.8-6.9-8.1M546.3 1233.9l-.2-.4-5.9-13.5M326.4 1273.5l-2.6-6.6-2.3-6.3M274.2 1204.5l-5.1-11.9-.1-.1"/>
<path class="tl" d="M243.5 1144.9l8.8 19.2 8.4 13.9 8.4 14.6 8.3 13.4 8.2 13 8.1 12.3 7.9 9.7 7.9 9.3 7.6 6.8 7.6 6.1 7.5 6.1 7.4 3.8 7.3 4.1 7.4 4 7.2 2.8 7.1 .9 7.1 .7 7.1 1.6 7-.5 7-.7 6.9-1 6.9-1.8 7-.3 6.9-1.3 6.8-2.2 7 .2 6.8-1.3 6.8-2.9 6.8-2.5 6.8-1.8 6.8-3.8 6.6-5.3 6.7-5.1 6.8-1.8 6.7-3 6.7-5.1 6.7-5.3 6.7-2.3 6.7-4.9 6.6-6.9 6.6-6.4 6.6-7.5 6.5-10.6 6.5-10.8 6.5-9.4 6.5-12.5 6.4-14.7 6.4-17 6.4-17.3 6.4-14.7 6.6-14.3 6.4-16 6.5-16.8 6.4-24.3 6.3-28.2 6.5-26.2 6.5-20.1 6.5-26.9 6.6-25.3 6.6-22.9 6.7-19.8 6.7-18.6 6.8-15.1 6.9-13.2 6.8-15.3 6.9-7.8 6.9-15.1 6.8-19.3 6.9-25.1 6.9-15.7 7-9.6 7-4.8 7-9 7-6.9 6.9 2.7 7 .1 7-2.4 7-2.8 6.9-1.9 6.9 4.5 6.9 8.9"/>
<path class="bk" d="M879 838l6 16 7 15 6 13 6 23 7 23 6 18 6 18 6 23 6 22 6 21-10-10-6-22-6-22-6-22-6-20-6-20-6-20-6-21-7-19-6-15-6-17z"/>
<path class="tl" d="M869.5 821.8l6.5 16.7 6.4 15.8 6.3 18.9 6.3 20.5 6.2 20.5 6.2 19.4 6.1 20.5 6 22.3 6 21.6 5.9 21.8"/>
<path class="b5" d="M872 827l7 11-9-16-7-8z"/>
<path class="tl" d="M862.9 813.7l6.6 8.1"/>
<path class="bk" d="M825 732l7 14 7 11 7 13 6 12 7 8 7 22 6 15-9-13-7-15-6-19-7-10-7-13-6-15-7-14-7-14z"/>
<path class="tl" d="M816.1 713.8l6.8 13.9 6.8 14.6 6.7 14.8 6.7 12.6 6.7 10.4 6.5 19.2 6.6 14.4"/>
<path class="b6" d="M727 806l7-9 7-18 7-15 7-5 7-10 7-13 7-10 7-2 7-3 7 3 7 1 7-3 7 2 7 8-9-18-7-8-7-1-7 3-7 0-7-3-7 2-7 1-7 11-7 17-7 8-7 10-7 13-7 18-7 10zM720 817l7-11-9-11zM720 817l-2-22-4 7 4 13zM719 818l1-1-2-2z"/>
<path class="b5" d="M714 802l-3 5 7 8zM713 824l6-6-1-3-7-8zM713 824l-2-17-7 5zM685 885l7-20 7-10 7-12 7-19-9-12-6 17-7 11-7 14-7 20zM679 904l6-19-8-11 1 29zM678 903l-1-29-6 19z"/>
<path class="b4" d="M678 906l1-2-1-1zM678 906l0-3-7-10-1 2zM658 984l7-27 7-29 6-22-8-11-6 24-7 28-7 26zM656 993l2-9-8-11 1 10zM651 983l-1-10-1 5z"/>
<path class="b3" d="M652 1005l4-12-5-10zM652 1005l-1-22-2-5-5 15zM639 1055l6-24 7-26-8-12-7 26-6 25zM632 1079l7-24-8-11 1 35zM632 1079l-1-35-5 20z"/>
<path class="b2" d="M632 1079l-6-15-2 5zM606 1144l6-18 7-15 7-13 6-19-8-10-6 19-7 13-6 16-7 15zM599 1160l7-16-8-12 1 28zM599 1160l-1-28-6 15zM280 1219l1 1 0-1zM280 1219l1 0-3-6zM272 1204l8 15-2-6-3-8zM272 1204l3 1-1-1-8-14zM263 1188l9 16-6-14-8-13z"/>
<path class="b1" d="M599 1161l0-1-7-13 0 1zM560 1236l6-12 7-10 7-11 6-14 7-15 6-13-7-13-7 16-6 17-7 12-6 10-7 11-6 11zM553 1245l7-9-7-11 0 20zM553 1245l0-20-7 9zM329 1285l2 2-1-5zM329 1285l1-3-4-9-3-3zM289 1233l8 13 8 11 8 13 8 9 8 6-6-15-8-6-8-10-8-10-8-11-8-14zM281 1220l8 13-6-14-2 0zM281 1219l2 0-8-14 3 8zM278 1213l-3-8z"/>
<path class="b0" d="M553 1246l0-1zM553 1246l0-1-7-11zM337 1291l7 7 8 4 7 3 7 3 8 3 7 1 7 2 7 0 7 0 7-1 7-1 7-2 7-1 7-1 7-3 7-1 7-1 7-3 7-3 7 0 7-4 6-5 7-6 7-3 7-2 7-5 6-6 7-2 7-6 7-7 6-5-7-12-7 6-6 6-7 6-7 3-6 4-7 5-7 3-7 2-6 5-7 6-7 4-7 1-7 3-6 2-7 2-7 0-7 3-7 1-7 0-7 2-7 1-7 2-7 0-7-1-7-1-7-1-8-3-7-4-7-4-8-4-7-6zM331 1287l6 4-6-14-1 5zM330 1282l1-5-5-4z"/>
<path class="cl" d="M714 802.2l4.2 12.7 .8 3.1M679.1 903.9l-.8-1.2-7.4-9.9M655.7 992.6l-4.9-9.8-2.2-4.7M632.2 1078.6l-.1 0-6.5-14.2M599.3 1160.5l-.1-.2-6.9-13.6M553.5 1245.4l-.3-.5-6.9-11M331.3 1286.9l-1.7-4.8-3.2-8.6M280.9 1219.9l-.3-.8-2.8-6.4-3.2-7.4-.4-.8"/>
<path class="tl" d="M257.8 1176.6l8.4 13.1 8.5 15.7 8.3 13.4 8.3 13.8 8.2 11.9 7.9 9.8 7.9 9.4 7.6 6.5 7.7 7.3 7.6 5.9 7.3 3.5 7.5 4.5 7.3 3.4 7.3 3 7.2 1.5 7.1 .9 7.1 .9 7-.4 7-1.4 7-1.5 6.9-1.6 7 .2 6.9-1.7 6.9-2.6 7-.3 6.9-1.5 6.8-2.5 6.8-2.7 6.9-1.3 6.8-4.1 6.7-5.2 6.7-5.2 6.8-2.6 6.8-2.5 6.7-4.7 6.8-4.9 6.7-2.8 6.7-5.5 6.7-6.8 6.7-5.4 6.5-9.4 6.5-11.1 6.6-10.8 6.6-10.1 6.5-11.8 6.4-16.7 6.5-16.3 6.5-15.8 6.5-15.4 6.5-15.7 6.6-13.3 6.5-18.8 6.5-24.5 6.4-24.9 6.5-26.8 6.6-20 6.6-26.1 6.6-27.9 6.6-23.6 6.8-21.4 6.8-19.2 6.8-14.5 6.9-11.4 6.9-17 7-5.1 7-11.4 6.9-9.9 7-18.3 6.9-12.8 7-9.6 7-8.5 7.1-16.6 7-11.4 7-.5 7-2.6 7 3 7 .5 7-3.5 6.9 1.2 6.9 7.7"/>
<path class="bk" d="M254 1167l9 21-5-11-9-20z"/>
<path class="tl" d="M248.9 1156.8l8.9 19.8"/>
<path class="bk" d="M868 805l7 20 7 17 6 10 7 13 6 13 7 19 6 24 6 22 6 14 6 17 6 24 6 21 6 19-9-8-6-21-6-22-6-23-6-18-6-18-7-23-6-23-6-13-7-15-6-16-7-11-6-15-7-22z"/>
<path class="tl" d="M859.1 790.3l6.5 21.2 6.6 15.8 6.6 10.5 6.4 16.2 6.5 14.7 6.4 13.5 6.2 23.1 6.2 22.6 6.2 17.6 6.2 18.9 6 22.8 5.9 21.4 6 21.4"/>
<path class="b5" d="M862 798l6 7-9-15zM862 798l-3-8-3-3 3 7z"/>
<path class="b6" d="M856 787l-4-5 7 12z"/>
<path class="cl" d="M856.4 786.9l2.6 6.8"/>
<path class="tl" d="M852.3 781.9l6.8 8.4"/>
<path class="bk" d="M835 744l6 12 7 11 7 18 7 13-10-16-6-12-7-13-7-11-7-14z"/>
<path class="tl" d="M825.2 731.6l6.9 14.5 6.8 11.2 6.7 12.6 6.7 12"/>
<path class="b6" d="M736 814l7-4 7-18 7-13 7-5 7-9 7-16 7-5 7 0 7-5 7 1 7 1 8-4 7 0 7 7-10-12-7-8-7-2-7 3-7-1-7-3-7 3-7 2-7 10-7 13-7 10-7 5-7 15-7 18-7 9zM729 822l7-8-9-8 1 16zM728 822l-1-16-7 11 5 3zM725 820l-5-3 0 2zM720 819l0-2-1 1z"/>
<path class="b5" d="M729 823l0-1-1 0zM729 823l-1-1-3-2zM721 831l8-8-4-3-5-1zM721 831l-1-12-1-1-6 6zM694 895l6-23 7-8 7-12 7-21-8-7-7 19-7 12-7 10-7 20zM688 914l6-19-9-10 2 28zM687 913l-2-28-6 19z"/>
<path class="b4" d="M687 917l1-3-1-1zM687 917l0-4-8-9-1 2zM666 993l7-27 7-27 7-22-9-11-6 22-7 29-7 27zM663 1003l3-10-8-9 1 12zM659 996l-1-12-2 9z"/>
<path class="b3" d="M660 1014l3-11-4-7zM660 1014l-1-18-3-3-4 12zM646 1064l7-22 7-28-8-9-7 26-6 24zM640 1087l6-23-7-9zM640 1087l-1-32-7 24 1 1zM639 1088l1-1-7-7z"/>
<path class="b2" d="M632 1079l1 1zM633 1108l6-20-6-8-1-1zM633 1108l-1-29-6 19zM613 1154l7-17 7-16 6-13-7-10-7 13-7 15-6 18zM607 1172l6-18-7-10zM607 1172l-1-28-7 16 1 1zM605 1174l2-2-7-11zM286 1230l0 1-5-11-1-1zM277 1213l9 17-6-11z"/>
<path class="b1" d="M599 1160l0 1 1 0zM600 1184l5-10-5-13-1 0zM600 1184l-1-23-6 13zM567 1247l7-11 6-12 7-12 7-14 6-14-7-10-7 15-6 14-7 11-7 10-6 12zM560 1259l7-12-7-11zM560 1259l0-23-7 9 1 3zM557 1261l3-2-6-11zM335 1299l2 2-2-4zM335 1299l0-2-4-10-2-2zM295 1246l8 15 8 11 8 12 8 10 8 5-6-14-8-6-8-9-8-13-8-11-8-13zM286 1231l9 15-6-13-3-2zM286 1231l3 2-8-13z"/>
<path class="b0" d="M553 1245l0 1 1 2zM554 1263l3-2-3-13-1-2zM554 1263l-1-17-6 5zM343 1306l7 6 8 4 7 3 8 3 7 2 7 2 7 1 8 1 7-2 7 0 7-1 7-2 7-1 7-1 7-2 7-1 7-2 7-2 7-4 7 0 6-4 7-6 7-5 7-3 7-3 7-4 6-7 7-3 7-6 7-6-7-12-7 7-7 6-7 2-6 6-7 5-7 2-7 3-7 6-6 5-7 4-7 0-7 3-7 3-7 1-7 1-7 3-7 1-7 1-7 2-7 1-7 1-7 0-7 0-7-2-7-1-8-3-7-3-7-3-8-4-7-7zM337 1301l6 5-6-15-2 6zM335 1297l2-6-6-4z"/>
<path class="bk" d="M277 1213l3 6-8-15z"/>
<path class="cl" d="M729.5 821.8l-1.1-.2-3.8-1.4-4.5-1.3-1.1-.9M687.6 914.2l-1.1-.7-7.4-9.6M663.2 1003.3l-4.3-6.9-3.2-3.8M632.2 1078.6l.7 .9 6.6 8.5M599.3 1160.5l.5 .9 5.6 13M553.5 1245.4l.9 2.3 2.8 13.1M337.2 1301.2l-1.8-4.5-4.1-9.8M286.5 1231.2l-.3-.6-5.3-10.7"/>
<path class="tl" d="M271.9 1204l8.6 15.2 8.3 13.3 8.3 13.3 8.1 11.7 8.2 12.3 7.9 9.3 7.6 5.9 7.6 6.1 7.7 6.5 7.4 3.9 7.4 3.6 7.4 2.9 7.3 2.7 7.2 1.6 7.2 1.8 7.1 .3 7.1-.9 7-.4 7-1.4 7-2.2 7-.7 7-1.1 6.9-2.4 7-1 6.9-1.6 6.9-2.5 6.8-3.3 7-.2 6.8-3.6 6.8-5.5 6.7-5.6 6.9-2.8 6.8-2.6 6.7-5 6.8-5.4 6.8-2.5 6.7-5.7 6.7-6.7 6.8-5.6 6.6-10 6.5-11.5 6.6-10.7 6.6-11 6.6-13 6.5-15.6 6.6-13.3 6.5-16.8 6.5-17.4 6.6-15.8 6.7-12.6 6.5-19.2 6.5-24 6.6-23.3 6.5-26.2 6.7-21.2 6.6-27.2 6.7-28.4 6.7-22.6 6.8-20.6 6.9-20.8 6.9-9.9 7-12 6.9-18.5 7-7.1 7-11 7-8.6 7-18.5 7.1-14.8 7-5.6 7.1-9.4 7-13.5 7.1-9.4 7.1-1.8 7-3.8 7 3.5 7 .7 7.1-2.6 6.9 2.3 6.9 7.1"/>
<path class="bk" d="M260 1179l9 18 8 16-5-9-9-16-9-21z"/>
<path class="tl" d="M254.3 1167.5l9 20.5 8.6 16"/>
<path class="bk" d="M878 823l6 14 7 14 7 13 6 15 7 12 6 17 6 25 7 18 6 14 6 18 6 25 6 22 6 18-10-10-6-19-6-21-6-24-6-17-6-14-6-22-6-24-7-19-6-13-7-13-6-10-7-17-7-20z"/>
<path class="tl" d="M868.4 805.5l6.6 19.9 6.5 16.1 6.7 10.2 6.5 13.3 6.5 12.8 6.3 19.3 6.2 24 6.2 21.6 6.3 14.4 6.2 16.7 6 23.9 6 20.9 6 19"/>
<path class="b5" d="M871 816l7 7-10-18-6-7z"/>
<path class="tl" d="M861.6 798.4l6.8 7.1"/>
<path class="bk" d="M851 768l7 7 6 21 7 20-9-18-7-13-7-18-7-11z"/>
<path class="tl" d="M841.4 756.2l6.8 10.8 6.7 17.7 6.7 13.7"/>
<path class="b6" d="M744 828l8-6 7-17 7-8 7-5 7-14 7-15 7-4 7 0 8-1 7 1 7-1 7-5 7 4 7 4 7 7-10-12-6-12-7-7-7 0-8 4-7-1-7-1-7 5-7 0-7 5-7 16-7 9-7 5-7 13-7 18-7 4zM737 835l7-7-8-14zM737 835l-1-21-7 8 4 7zM734 838l3-3-4-6z"/>
<path class="b5" d="M729 822l0 1 4 6zM730 842l4-4-1-9-4-6zM730 842l-1-19-8 8zM702 909l7-22 7-13 7-12 7-20-9-11-7 21-7 12-7 8-6 23zM695 929l7-20-8-14zM695 929l-1-34-6 19 6 12zM695 929l-1-3z"/>
<path class="b4" d="M688 914l-1 3 7 9zM688 949l7-20-1-3-7-9zM688 949l-1-32-7 22zM675 1001l6-27 7-25-8-10-7 27-7 27zM671 1014l4-13-9-8 1 16zM667 1009l-1-16-3 10z"/>
<path class="b3" d="M668 1026l3-12-4-5zM668 1026l-1-17-4-6-3 11zM648 1097l7-20 6-21 7-30-8-12-7 28-7 22-6 23zM646 1104l2-7-8-10 0 2zM640 1089l0-2-1 1z"/>
<path class="b2" d="M641 1118l5-14-6-15zM641 1118l-1-29-1-1-6 20zM614 1182l7-17 7-17 6-15 7-15-8-10-6 13-7 16-7 17-6 18zM611 1187l3-5-7-10 0 6zM607 1178l0-6-2 2zM292 1244l0 1 0-1zM292 1244l-6-13 0-1zM274 1209l9 18 9 17-6-14-9-17-8-16zM265 1190l9 19-5-12z"/>
<path class="b1" d="M608 1193l3-6-4-9zM608 1193l-1-15-2-4-5 10zM568 1269l6-11 7-13 7-11 6-12 7-16 7-13-8-9-6 14-7 14-7 12-6 12-7 11-7 12zM561 1274l7-5-8-10 1 14zM561 1273l-1-14-3 2zM341 1313l2 2-2-4zM341 1313l0-2-4-10-2-2zM300 1259l9 15 8 11 8 11 8 10 8 7-6-14-8-5-8-10-8-12-8-11-8-15zM292 1245l8 14-5-13-3-2zM292 1244l3 2-9-15z"/>
<path class="b0" d="M561 1275l0-1 0-1zM561 1275l0-2-4-12-3 2zM349 1320l7 6 8 4 7 2 8 4 7 1 7 2 8 1 7 1 7-1 7-1 7-1 7-2 7-1 7-1 7-2 8 0 7-2 6-3 7-3 7-2 7-3 7-7 7-5 7-3 7-3 7-5 6-6 7-4 7-7 7-4-7-12-7 6-7 6-7 3-6 7-7 4-7 3-7 3-7 5-7 6-6 4-7 0-7 4-7 2-7 2-7 1-7 2-7 1-7 1-7 2-7 1-7 0-7 2-8-1-7-1-7-2-7-2-8-3-7-3-8-4-7-6zM343 1315l6 5-6-14-2 5zM341 1311l2-5-6-5z"/>
<path class="bk" d="M265 1190l4 7-9-18z"/>
<path class="cl" d="M729.5 821.8l3.1 6.9 1.3 9.7M687.6 914.2l6 12.2 1.3 2.6M671.1 1014.2l-3.9-5.1-4-5.8M645.9 1103.5l-5.9-14.1-.5-1.4M611.5 1187.2l-4.5-9.1-1.6-3.7M561.2 1274.5l-.3-1.2-3.7-12.5M343.3 1315l-1.9-4.2-4.2-9.6M292.4 1244.8l-.4-.9-5.5-12.7"/>
<path class="tl" d="M259.8 1179.3l8.9 17.5 8.7 16.6 8.7 17.1 8.5 15.2 8.4 14.9 8.2 11.5 8.1 11.5 8 10 7.6 5.6 7.7 6.8 7.7 6 7.4 3.9 7.4 2.8 7.4 3.1 7.3 2.1 7.3 1.7 7.3 1.5 7.1 .7 7.1-1.3 7.1-.5 7.1-.9 7-2.2 7-.9 7-1 7-2.4 7-.5 7-1.8 6.9-2.7 6.9-3.1 7-1 6.9-3.3 6.7-6.3 6.8-4.9 6.9-3.4 6.9-2.4 6.8-4.6 6.7-6.5 6.9-3.1 6.7-6.4 6.8-5.7 6.8-4.2 6.6-11.6 6.6-11.5 6.6-11.3 6.6-12.3 6.6-13.7 6.6-14.4 6.7-11.9 6.6-17.9 6.5-17.5 6.7-15.6 6.7-13.4 6.6-20.9 6.6-23 6.6-21.5 6.6-27.8 6.8-21.5 6.7-26.9 6.7-27.2 6.8-21.9 6.9-21.5 6.9-23.4 7-7.6 7-12.4 7-21.3 7-7.7 7.1-8.9 7.1-4.5 7-17.2 7.1-13.8 7.1-4.4 7.1-9.4 7.1-15.5 7.1-5.6 7.1 .5 7.1-5.1 7.1 1.4 7 .7 7.1-4.6 7 .6 6.9 7 6.9 12"/>
<path class="bk" d="M887 841l7 12 7 13 6 15 7 13 6 12 7 15 6 25 6 18 7 13 6 17 6 25 6 22 6 18-10-11-6-18-6-22-6-25-6-18-6-14-7-18-6-25-6-17-7-12-6-15-7-13-7-14-6-14z"/>
<path class="tl" d="M877.8 822.7l6.7 14.7 6.6 13.9 6.6 12.9 6.5 14.3 6.5 12.6 6.4 17.1 6.2 24.3 6.3 19 6.3 13.7 6.2 17.3 5.9 25.1 6 22.3 6 18.3"/>
<path class="b5" d="M881 832l6 9-9-18-7-7z"/>
<path class="tl" d="M871 815.8l6.8 6.9"/>
<path class="bk" d="M867 791l7 23 7 18-10-16-7-20-6-21z"/>
<path class="tl" d="M857.7 775.5l6.7 20.9 6.6 19.4"/>
<path class="b6" d="M746 845l7-8 7-5 8-14 7-7 7-5 7-13 7-12 8-6 7 1 7 2 7 2 7-5 7-2 7 7 7-1 7 2 7 10-9-16-7-7-7-7-7-4-7-4-7 5-7 1-7-1-8 1-7 0-7 4-7 15-7 14-7 5-7 8-7 17-8 6-7 7zM742 847l4-2-9-10 1 6zM738 841l-1-6-3 3z"/>
<path class="b5" d="M739 848l3-1-4-6zM739 848l-1-7-4-3-4 4zM704 937l7-16 7-22 7-13 7-17 7-21-9-6-7 20-7 12-7 13-7 22-7 20zM703 939l1-2-9-8zM695 929z"/>
<path class="b4" d="M697 960l6-21-8-10zM697 960l-2-31-7 20zM683 1012l7-28 7-24-9-11-7 25-6 27zM679 1028l4-16-8-11 1 23zM676 1024l-1-23-4 13z"/>
<path class="b3" d="M676 1038l3-10-3-4zM676 1038l0-14-5-10-3 12zM656 1105l7-19 6-20 7-28-8-12-7 30-6 21-7 20zM652 1117l4-12-8-8 0 12zM648 1109l0-12-2 7z"/>
<path class="b2" d="M649 1126l3-9-4-8zM649 1126l-1-17-2-5-5 14zM622 1193l7-17 7-18 6-17 7-15-8-8-7 15-6 15-7 17-7 17zM617 1201l5-8-8-11 1 14zM615 1196l-1-14-3 5zM298 1257l1 2-1-2zM298 1257l-6-12 0-1zM280 1221l9 20 9 16-6-13-9-17-9-18z"/>
<path class="b1" d="M615 1203l2-2-2-5zM615 1203l0-7-4-9-3 6zM575 1281l7-12 6-15 7-11 7-12 7-15 6-13-7-10-7 13-7 16-6 12-7 11-7 13-6 11zM568 1286l7-5-7-12zM568 1286l0-17-7 5 1 2zM566 1288l2-2-6-10zM347 1327l4 3-3-6zM347 1327l1-3-5-9-2-2zM306 1272l9 14 8 12 8 11 8 10 8 8-6-14-8-7-8-10-8-11-8-11-9-15zM299 1259l7 13-6-13-2-2zM298 1257l2 2-8-14z"/>
<path class="b0" d="M561 1274l0 1 1 1zM561 1292l5-4-4-12-1-1zM561 1292l0-17-7 4zM355 1333l8 7 7 3 8 2 7 4 7 1 8 2 7 1 7 2 7-2 8-1 7 0 7-2 7-1 7-1 7-3 7 0 7-2 7-3 7-4 7-1 7-4 7-5 7-6 7-3 7-3 7-6 7-7 7-4 6-5-7-13-7 7-7 4-6 6-7 5-7 3-7 3-7 5-7 7-7 3-7 2-7 3-6 3-7 2-8 0-7 2-7 1-7 1-7 2-7 1-7 1-7 1-7-1-8-1-7-2-7-1-8-4-7-2-8-4-7-6zM351 1330l4 3-6-13-1 4zM348 1324l1-4-6-5z"/>
<path class="cl" d="M741.6 846.6l-3.5-5.2-4.2-3M703.1 938.8l-8-9.5-.2-.3M678.6 1028l-3.1-4.5-4.4-9.3M651.9 1117.1l-3.6-8.5-2.4-5.1M617.1 1200.8l-2.1-5.1-3.5-8.5M561.2 1274.5l.5 1.5 3.8 12.3M351.1 1330l-3.3-6.2-4.5-8.8M299.1 1259.5l-.9-2-5.8-12.7"/>
<path class="tl" d="M274.3 1208.8l8.9 18.2 8.7 16.8 8.5 15.6 8.5 14.6 8.1 11 8.2 11.1 8 9.9 7.8 6.8 7.7 7.2 7.7 6.1 7.5 3.9 7.4 2.3 7.5 3.8 7.3 .9 7.3 2 7.3 1.2 7.2 1 7.1-.9 7.1-1.3 7.2-.6 7-2.2 7.1-.8 7.1-.9 7-2.4 7-.5 7-1.8 7-2.6 6.9-3.4 7-1.5 6.9-3.6 6.8-6.3 6.9-5.1 6.9-2.8 6.9-3.2 6.8-5.1 6.8-6 6.9-3.8 6.8-7.1 6.8-4.6 6.8-5.3 6.7-11.8 6.6-13 6.7-10.7 6.7-12.3 6.6-15.2 6.7-13.1 6.7-10.9 6.6-17.9 6.7-16.9 6.7-14.6 6.8-14.7 6.6-20.8 6.7-20.3 6.7-21.7 6.7-29.6 6.7-24.6 6.8-27.3 6.8-25.3 6.9-20.2 7-19.2 6.9-22.1 7.1-13 7-12.4 7.1-20.1 7.1-6.3 7.1-7 7.1-6.9 7.1-16.6 7.2-7.8 7.1-5.5 7.2-13.2 7.1-15 7.2-4.5 7.1 .1 7.1-1.5 7.1 1.5 7-1.2 7.2-4.9 7 4.5 7 3.3 6.9 7.5 6.9 7.3"/>
<path class="bk" d="M271 1200l9 21-6-12-9-19z"/>
<path class="tl" d="M265.4 1189.9l8.9 18.9"/>
<path class="bk" d="M877 806l7 21 6 18 7 12 7 10 6 14 7 12 7 13 6 15 7 16 6 22 6 17 6 12 7 14 6 25 6 22 6 15-10-5-6-18-6-22-6-25-6-17-7-13-6-18-6-25-7-15-6-12-7-13-6-15-7-13-7-12-6-9-7-18-7-23z"/>
<path class="tl" d="M867.2 790.8l6.7 23.1 6.6 17.8 6.8 9.3 6.7 12.2 6.7 13.3 6.5 14.2 6.6 13.3 6.6 12.3 6.4 15 6.2 24.8 6.2 18.3 6.4 12.8 6.2 17 6 25 5.9 21.4 6.1 18"/>
<path class="b6" d="M762 847l8-4 7-15 7-6 7-2 7-12 8-10 7-5 7 0 7 3 7 2 7 1 8-1 7 3 7-4 7 1 7 8-10-15-7-10-7-2-7 1-7-7-7 2-7 5-7-2-7-2-7-1-8 6-7 12-7 13-7 5-7 7-8 14-7 5zM756 854l6-7-9-10 2 16zM755 853l-2-16-7 8 6 7zM752 852l-6-7 0 2zM746 847l0-2-4 2z"/>
<path class="b5" d="M755 855l1-1-1-1zM755 855l0-2-3-1zM748 859l7-4-3-3-6-5zM748 859l-2-12-4 0-3 1zM719 932l7-22 8-14 7-16 7-21-9-11-7 21-7 17-7 13-7 22zM713 947l6-15-8-11 1 25zM712 946l-1-25-7 16 5 7zM709 944l-5-7 0 2zM704 939l0-2-1 2z"/>
<path class="b4" d="M712 947l1 0-1-1zM712 947l0-1-3-2zM705 971l7-24-3-3-5-5zM705 971l-1-32-1 0-6 21zM691 1022l7-25 7-26-8-11-7 24-7 28zM687 1037l4-15-8-10 1 21zM684 1033l-1-21-4 16z"/>
<path class="b3" d="M684 1046l3-9-3-4zM684 1046l0-13-5-5-3 10zM664 1112l7-17 7-21 6-28-8-8-7 28-6 20-7 19zM659 1127l5-15-8-7 1 19zM657 1124l-1-19-4 12z"/>
<path class="b2" d="M657 1133l2-6-2-3zM657 1133l0-9-5-7-3 9zM630 1204l7-18 6-20 7-16 7-17-8-7-7 15-6 17-7 18-7 17zM623 1214l7-10-8-11zM623 1214l-1-21-5 8 4 10zM623 1215l0-1-2-3zM304 1269l2 5-2-4zM304 1269l0 1-5-11-1-2zM295 1253l9 16-6-12-9-16z"/>
<path class="b1" d="M617 1201l-2 2 6 8zM616 1226l7-11-2-4-6-8zM616 1226l-1-23-6 13zM576 1298l7-7 6-12 7-15 7-12 7-11 6-15-7-10-7 15-7 12-7 11-6 15-7 12-7 5zM570 1302l6-4-8-12 1 11zM569 1297l-1-11-2 2zM353 1339l6 5-5-8zM353 1339l1-3-3-6-4-3zM312 1285l9 13 8 11 8 12 8 10 8 8-6-12-8-8-8-10-8-11-8-12-9-14zM306 1274l6 11-6-13-2-2zM304 1270l2 2-7-13z"/>
<path class="b0" d="M569 1303l1-1-1-5zM569 1303l0-6-3-9-5 4zM361 1345l8 7 7 3 8 2 7 4 8 1 7 4 8 1 7 0 7-2 7 0 7 0 8-2 7-2 7-1 7-1 7-1 7-2 7-3 7-4 7-1 7-4 7-6 7-5 7-3 7-5 7-5 7-8 7-3 7-6-8-11-6 5-7 4-7 7-7 6-7 3-7 3-7 6-7 5-7 4-7 1-7 4-7 3-7 2-7 0-7 3-7 1-7 1-7 2-7 0-8 1-7 2-7-2-7-1-8-2-7-1-7-4-8-2-7-3-8-7zM359 1344l2 1-6-12-1 3zM354 1336l1-3-4-3z"/>
<path class="cl" d="M755.9 854l-.9-.6-2.6-1.7-5.9-4.3-4.9-.8M712.6 946.7l-.5-.5-2.7-2.1-5.7-4.9-.6-.4M687 1037.1l-3.2-4-5.2-5.1M659 1127.3l-2.3-3.2-4.8-7M617.1 1200.8l3.9 10.1 1.6 3.6M570.4 1301.8l-1.9-5.3-3-8.2M358.9 1343.7l-4.8-8-3-5.7M306.4 1274.2l-2-4.4-5.3-10.3"/>
<path class="tl" d="M289 1240.7l8.7 16.4 8.6 14.7 8.4 13.7 8.3 12.3 8.2 11.3 8 10.1 7.9 7.4 7.8 6.7 7.7 7.2 7.5 2.7 7.4 1.7 7.6 4.2 7.2 .4 7.4 2.5 7.4 1.5 7.3 1.1 7.1-1.6 7.1-1.4 7.2 0 7.1-1.8 7.1-1.2 7.1-.9 7.1-2.5 7.1-.7 7-1.5 7-2.9 7-4 7-.9 7-3.9 6.8-5.8 6.9-5.3 7-3.4 6.9-3.2 6.9-5.7 6.8-7 6.9-3.6 6.9-5.7 6.8-5.5 6.9-5.5 6.7-11.7 6.6-15 6.8-10.6 6.7-11.9 6.7-15.6 6.7-12.3 6.8-10.2 6.7-17.3 6.7-18.3 6.8-17 6.8-14.9 6.7-20.4 6.8-19.6 6.8-20.2 6.7-28.1 6.8-26 6.8-27.1 6.9-24.8 7-22.5 7-16.2 7.1-21.5 7.1-13.1 7.1-17.1 7.1-21.5 7.1-3.1 7.2-7.3 7.2-5.1 7.1-14 7.2-6.9 7.2-4.9 7.2-13.4 7.2-12.4 7.2-5.5 7.1 .6 7.2 2.3 7.1 2.1 7.1-4.8 7.1-2.1 7 6.9 7.1-1.5 7 2.6 6.9 9.6"/>
<path class="bk" d="M277 1211l9 22 9 20-6-12-9-20-9-21z"/>
<path class="tl" d="M270.9 1199.5l9.2 21.6 8.9 19.6"/>
<path class="bk" d="M887 823l6 20 7 14 7 13 7 11 6 14 7 12 7 10 6 15 6 18 7 22 6 15 6 12 7 16 6 20 6 21 6 18-10-10-6-15-6-22-6-25-7-14-6-12-6-17-6-22-7-16-6-15-7-13-7-12-6-14-7-10-7-12-6-18-7-21z"/>
<path class="tl" d="M876.9 806.5l6.6 20.8 6.7 17.4 6.8 12.1 6.7 10 6.7 13.9 6.6 12.1 6.6 13.3 6.5 15.2 6.4 15.5 6.2 22.5 6.4 16.8 6.4 11.9 6.3 14.4 5.9 24.1 6 22.2 6.1 15.7"/>
<path class="b6" d="M771 861l8-5 7-13 7-6 8-5 7-9 7-5 7-3 8-2 7 1 7 3 7 1 7-2 7 6 7-1 8-7 7 9-10-17-7-8-7-1-7 4-7-3-8 1-7-1-7-2-7-3-7 0-7 5-8 10-7 12-7 2-7 6-7 15-8 4zM771 862l0-1-9-14 1 12zM763 859l-1-12-6 7z"/>
<path class="b5" d="M764 869l7-7-8-3zM764 869l-1-10-7-5-1 1zM728 944l7-20 7-18 8-14 7-16 7-7-9-14-7 4-7 21-7 16-8 14-7 22zM721 960l7-16-9-12 2 27zM721 959l-2-27-6 15z"/>
<path class="b4" d="M721 962l0-2 0-1zM721 962l0-3-8-12-1 0zM700 1034l7-22 7-24 7-26-9-15-7 24-7 26-7 25zM695 1050l5-16-9-12 1 23zM692 1045l-1-23-4 15z"/>
<path class="b3" d="M693 1059l2-9-3-5zM693 1059l-1-14-5-8-3 9zM672 1121l7-18 7-19 7-25-9-13-6 28-7 21-7 17zM666 1142l6-21-8-9 1 29zM665 1141l-1-29-5 15z"/>
<path class="b2" d="M665 1143l1-1-1-1zM665 1143l0-2-6-14-2 6zM631 1224l7-11 7-16 6-20 7-19 7-15-8-10-7 17-7 16-6 20-7 18-7 10zM628 1229l3-5-8-10 0 2zM623 1216l0-2 0 1zM309 1280l6 10-4-8z"/>
<path class="b1" d="M624 1236l4-7-5-13zM624 1236l-1-20 0-1-7 11zM583 1309l7-7 7-13 7-17 6-10 7-11 7-15-8-10-6 15-7 11-7 12-7 15-6 12-7 7zM576 1315l7-6-7-11zM576 1315l0-17-6 4 2 6zM574 1317l2-2-4-7zM359 1352l8 6-6-11zM359 1352l2-5-2-3-6-5zM318 1297l9 12 8 12 8 10 8 12 8 9-6-13-8-8-8-10-8-12-8-11-9-13zM315 1290l3 7-6-12-1-3z"/>
<path class="b0" d="M570 1302l-1 1 3 5zM569 1320l5-3-2-9-3-5zM569 1320l0-17-7 6zM367 1358l8 7 8 3 7 1 8 4 7 2 8 3 7 1 7 0 8-1 7 0 7 0 7-2 8-2 7-1 7-2 7-1 7-2 7-2 7-3 7-2 7-4 7-6 7-6 7-3 7-4 7-6 7-8 7-4-7-11-7 3-7 8-7 5-7 5-7 3-7 5-7 6-7 4-7 1-7 4-7 3-7 2-7 1-7 1-7 1-7 2-8 2-7 0-7 0-7 2-7 0-8-1-7-4-8-1-7-4-8-2-7-3-8-7zM367 1358l-6-13 0 2zM361 1347l0-2-2-1z"/>
<path class="bk" d="M309 1280l3 5-8-16z"/>
<path class="cl" d="M770.8 861.6l-7.4-2.6-7.5-5M721.5 960.5l-.7-1.2-8.2-12.6M695.5 1049.5l-3.2-4.4-5.3-8M665.7 1141.7l-.6-.9-6.1-13.5M628.2 1228.6l-5-12.8-.6-1.3M570.4 1301.8l1.3 6.1 2 8.9M367.2 1357.6l-6.5-10.9-1.8-3M314.9 1290.3l-4.1-8"/>
<path class="tl" d="M303.6 1269l8.6 16 8.4 12.6 8.3 11.7 8.2 11.6 8.1 9.8 8 8.2 7.8 6.6 7.7 6.3 7.6 2.9 7.5 2.2 7.5 4.1 7.4 1.4 7.5 3.4 7.3 1.1 7.3 .3 7.2-1.9 7.2-.5 7.3 0 7.1-2.1 7.1-1.8 7.2-.8 7.1-1.2 7.1-1.2 7.1-1.8 7-3 7.1-3.4 7-1.5 7-3.8 6.9-6.1 6.9-5.4 7-3 7-4.3 6.9-5.3 6.9-7.7 6.9-3.5 6.9-5.8 6.9-5.5 6.9-6.3 6.8-12.6 6.6-15.1 6.8-11.3 6.8-11.6 6.8-15 6.8-12.1 6.9-10 6.7-18.1 6.7-19.3 6.8-16.1 6.9-16.8 6.8-21.5 6.8-16.9 6.9-20.8 6.8-28.1 6.9-23.8 6.9-25.3 7-26.1 7-23.3 7.1-15.7 7.1-21.8 7.2-14.2 7.1-16.1 7.2-21 7.2-3.8 7.2-7.9 7.2-4.4 7.3-14.2 7.2-6.3 7.2-1.7 7.3-12.7 7.2-9.8 7.2-4.5 7.2-.1 7.1 3 7.2 1.5 7.1 1.7 7.1-1.1 7.1 2.3 7.1-3.2 7.1 .3 7 8.7"/>
<path class="bk" d="M282 1221l10 22 9 20 8 17-5-11-9-16-9-20-9-22z"/>
<path class="tl" d="M276.6 1211.3l9.2 21.3 9 19.9 8.8 16.5"/>
<path class="bk" d="M896 842l7 14 7 11 7 16 7 10 6 14 7 10 7 13 6 15 7 17 6 19 6 12 7 13 6 17 6 19 6 24 6 18-10-10-6-18-6-21-6-20-7-16-6-12-6-15-7-22-6-18-6-15-7-10-7-12-6-14-7-11-7-13-7-14-6-20z"/>
<path class="tl" d="M886.6 823.2l6.7 19.8 6.8 13.8 6.7 13 6.8 11 6.6 13.8 6.7 11.9 6.6 10.5 6.6 15.3 6.3 18.2 6.3 21.7 6.4 14.6 6.4 12.4 6.3 15.4 6 20.8 6 20.7 6.1 18"/>
<path class="b6" d="M788 871l7-12 8-4 7-8 7-8 8 1 7-3 7-6 7 4 7 5 8 2 7-5 7 0 7 2 7-4 7 7-9-19-7-9-8 7-7 1-7-6-7 2-7-1-7-3-7-1-8 2-7 3-7 5-7 9-8 5-7 6-7 13zM784 874l4-3-9-15 1 13zM780 869l-1-13-8 5 1 2zM772 863l-1-2 1 1zM772 862l-1-1 0 1z"/>
<path class="b5" d="M781 877l3-3-4-5zM781 877l-1-8-8-6zM773 884l8-7-9-14 0-1zM773 884l-1-22-1 0-7 7zM737 954l7-17 8-15 7-14 7-18 7-6-9-15-7 7-7 16-8 14-7 18-7 20zM731 972l6-18-9-10 2 27zM730 971l-2-27-7 16z"/>
<path class="b4" d="M730 974l1-2-1-1zM730 974l0-3-9-11 0 2zM708 1046l8-23 7-24 7-25-9-12-7 26-7 24-7 22zM704 1061l4-15-8-12 1 23zM701 1057l-1-23-5 16z"/>
<path class="b3" d="M701 1071l3-10-3-4zM701 1071l0-14-6-7-2 9zM680 1131l7-18 7-18 7-24-8-12-7 25-7 19-7 18zM673 1151l7-20-8-10zM673 1151l-1-30-6 21 1 3zM672 1155l1-4-6-6z"/>
<path class="b2" d="M666 1142l-1 1 2 2zM667 1167l5-12-5-10-2-2zM667 1167l-2-24-7 15zM639 1233l7-13 7-13 7-19 7-21-9-9-7 19-6 20-7 16-7 11zM634 1242l5-9-8-9 1 13zM632 1237l-1-13-3 5z"/>
<path class="b1" d="M632 1247l2-5-2-5zM632 1247l0-10-4-8-4 7zM584 1326l7-7 7-9 6-13 7-16 7-9 7-13 7-12-8-11-7 15-7 11-6 10-7 17-7 13-7 7-7 6zM578 1331l6-5-8-11 1 11zM577 1326l-1-11-2 2zM373 1370l3 3-2-4zM373 1370l1-1-7-11zM366 1363l7 7-6-12zM366 1363l1-5-8-6zM333 1320l8 13 8 10 9 12 8 8-7-11-8-9-8-12-8-10-8-12zM324 1305l9 15-6-11z"/>
<path class="b0" d="M577 1332l1-1-1-5zM577 1332l0-6-3-9-5 3zM381 1378l8 2 8 2 7 4 8 2 7 4 8 0 7 1 7-2 8 0 7-1 7-2 7-1 8-2 7-1 7-1 7-2 7-3 7-3 8-2 7-4 7-7 7-5 7-3 7-4 7-6 7-8 7-4-8-12-7 4-7 8-7 6-7 4-7 3-7 6-7 6-7 4-7 2-7 3-7 2-7 2-7 1-7 2-7 1-8 2-7 2-7 0-7 0-8 1-7 0-7-1-8-3-7-2-8-4-7-1-8-3zM376 1373l5 5-6-13-1 4zM374 1369l1-4-8-7z"/>
<path class="bk" d="M324 1305l3 4-9-12z"/>
<path class="cl" d="M784.3 874.2l-4.4-5.7-7.4-5.9-.9-.7-.8-.3M730.6 971.9l-1-1-8.1-10.4M704.3 1061.1l-3.5-4.6-5.3-7M665.7 1141.7l1.7 3.5 4.5 9.6M634.1 1242.3l-2.5-5.2-3.4-8.5M578.3 1330.9l-1.7-5.3-2.9-8.8M376.1 1372.6l-2.2-4.1-6.7-10.8 0-.1"/>
<path class="tl" d="M318.2 1296.7l8.4 12.8 8.3 11.7 8.2 10.1 8.3 11.8 8 8.6 7.8 5.9 7.8 7 7.6 3 7.5 1.7 7.6 4.1 7.4 1.4 7.6 3.3 7.3 .8 7.4 .6 7.2-1.9 7.3 .1 7.3 .6 7.1-2.4 7.2-1.6 7.2-1.3 7.2-1.7 7.1-1.3 7.2-1.7 7-2.7 7.1-3.1 7.1-2 7.1-3.7 6.9-6.1 7-5.5 7-3.2 7-4 7-5.7 6.8-8.3 7-4.2 7-4.6 7-5.7 6.9-8 6.7-12.6 6.7-16.9 6.9-9.9 6.9-11.4 6.8-14.9 6.8-12.2 7-10.5 6.8-16 6.8-20.4 6.8-18.5 6.9-15.2 6.9-21.7 6.9-17.8 7-19.7 6.9-25.3 6.9-24.2 7.1-22.6 7-23.7 7.1-26.3 7.1-17.3 7.2-20.7 7.2-17.4 7.2-14.4 7.2-15.9 7.3-7.5 7.3-7.7 7.2-4.7 7.3-12.9 7.3-5.8 7.2-5.3 7.3-9.3 7.3-5.2 7.2-3 7.3-1.6 7.1 1 7.2 3.5 7.1 .5 7.2-2 7.1 5.7 7.1-.5 7.2-6.8 7 8.8"/>
<path class="bk" d="M288 1232l9 23 9 19 9 14 9 17-6-8-9-17-8-17-9-20-10-22z"/>
<path class="tl" d="M282.3 1221.2l9.2 21.5 9.1 20.6 8.8 16.4 8.8 17"/>
<path class="bk" d="M920 883l7 13 7 8 6 16 7 9 7 13 6 15 7 14 6 20 7 11 6 12 6 16 7 20 5 24 7 17-11-7-6-18-6-24-6-19-6-17-7-13-6-12-6-19-7-17-6-15-7-13-7-10-6-14-7-10-7-16z"/>
<path class="tl" d="M910 867.5l6.8 15.8 6.8 9.9 6.6 13.6 6.8 10.4 6.6 12.6 6.5 15.7 6.4 16.9 6.3 18.8 6.5 12.1 6.4 12.7 6.3 16.7 6.1 19 6 24 6 18.8"/>
<path class="b5" d="M913 873l7 10-10-16z"/>
<path class="bk" d="M913 873l-3-6-7-11z"/>
<path class="tl" d="M903.2 855.9l6.8 11.6"/>
<path class="bk" d="M906 860l7 13-10-17-7-14z"/>
<path class="tl" d="M896.4 841.7l6.8 14.2"/>
<path class="b6" d="M805 870l7-5 8-1 7-2 7 2 7-9 8-3 7 6 7 1 7 0 8 0 7-3 7 3 7-1 7 2-10-18-7-7-7 4-7-2-7 0-7 5-8-2-7-5-7-4-7 6-7 3-8-1-7 8-7 8-8 4zM801 876l4-6-10-11 2 17zM797 876l-2-17-7 12 4 5zM792 876l-4-5 0 5zM788 876l0-5-4 3z"/>
<path class="b5" d="M797 884l4-8-4 0zM797 884l0-8-5 0zM790 894l7-10-5-8-4 0zM790 894l-2-18-4-2-3 3zM746 966l7-18 8-10 7-11 7-18 8-8 7-7-9-17-8 7-7 6-7 18-7 14-8 15-7 17zM741 981l5-15-9-12 1 26zM738 980l-1-26-6 18z"/>
<path class="b4" d="M739 987l2-6-3-1zM739 987l-1-7-7-8-1 2zM717 1059l7-24 8-23 7-25-9-13-7 25-7 24-8 23zM713 1075l4-16-9-13 2 24zM710 1070l-2-24-4 15z"/>
<path class="b3" d="M710 1084l3-9-3-5zM710 1084l0-14-6-9-3 10zM682 1160l7-21 7-15 7-16 7-24-9-13-7 24-7 18-7 18-7 20zM678 1168l4-8-9-9 1 8zM674 1159l-1-8-1 4z"/>
<path class="b2" d="M675 1176l3-8-4-9zM675 1176l-1-17-2-4-5 12zM647 1243l7-12 7-15 7-20 7-20-8-9-7 21-7 19-7 13-7 13zM641 1254l6-11-8-10 1 18zM640 1251l-1-18-5 9z"/>
<path class="b1" d="M640 1256l1-2-1-3zM640 1256l0-5-6-9-2 5zM591 1338l7-9 7-9 7-13 7-16 7-10 7-12 7-13-8-9-7 12-7 13-7 9-7 16-6 13-7 9-7 7zM584 1344l7-6-7-12zM584 1344l0-18-6 5 1 5zM577 1347l7-3-5-8-2 2zM577 1347l0-9-2 6zM576 1349l1-2-2-3zM380 1381l4 5-4-6zM380 1381l0-1-4-7-3-3zM330 1318l9 14 8 12 8 10 9 12 8 8 8 7-7-11-7-7-8-8-9-12-8-10-8-13-9-15z"/>
<path class="b0" d="M578 1331l-1 1 2 4zM579 1336l-2-4 0 6zM577 1338l0-6-7 4 5 8zM570 1356l6-7-1-5-5-8zM570 1356l0-20-7 8zM388 1389l7 3 8 2 8 4 7 2 8 5 7 0 8-1 7-2 7 1 8-1 7-1 7-2 8-2 7-1 7-1 7-2 7-3 8-3 7-2 7-4 7-7 7-5 7-3 7-4 7-6-7-12-7 6-7 4-7 3-7 5-7 7-7 4-8 2-7 3-7 3-7 2-7 1-7 1-8 2-7 1-7 2-7 1-8 0-7 2-7-1-8 0-7-4-8-2-7-4-8-2-8-2zM384 1386l4 3-7-11-1 2zM380 1380l1-2-5-5z"/>
<path class="cl" d="M801.5 876.4l-4.7 0-5.2-.7-3.1-.1-4.2-1.4M740.8 981.2l-2.4-1.3-7.8-8M712.8 1074.8l-3.3-4.5-5.2-9.2M678.2 1168l-4.3-8.8-2-4.4M641.1 1254l-1.3-3.3-5.7-8.4M578.3 1330.9l.7 4.9-2 2.5-2.4 5.2 1.2 5.7M384.4 1386l-3.9-6.4-4.4-7"/>
<path class="tl" d="M324 1305.4l8.6 14.7 8.4 12.6 8.2 10.3 8.3 11.9 8 8.3 7.9 6.7 8 7.9 7.6 2.2 7.5 2.1 7.7 3.9 7.5 1.8 7.6 4.2 7.4 .4 7.3 .3 7.3-2 7.3 .1 7.3-.5 7.2-1.8 7.3-1.8 7.2-1.4 7.2-1.4 7.2-1 7.2-1.7 7.1-3 7.1-2.9 7.2-2.4 7-4.1 7-6.8 7-5.2 7.1-2.9 7.1-3.5 7-6.1 6.9-7.9 7.1-4.2 7-5.9 6.9-7.6 6.9-8.5 6.9-13.1 6.8-15.8 6.9-9.7 6.9-12.3 6.9-12.8 6.9-14 6.9-12 7-13.2 6.8-19.6 6.9-21 7-15.4 6.9-20.1 7-18.1 7-18.4 7-23.9 7.1-24.3 7.1-23.6 7.1-23.6 7.1-25.2 7.2-20 7.3-16.9 7.2-15.2 7.3-14.1 7.3-18 7.3-6.2 7.3-6.3 7.3-6.5 7.4-11.6 7.3-4.6 7.3-7.9 7.3-8.1 7.3 1.2 7.2-3.3 7.3-5.2 7.2 3.4 7.2 5 7.1 2.5 7.3-4.9 7.1-.7 7.2 2.8 7.2-4.2 7 6.4"/>
<path class="bk" d="M321 1299l9 19-6-13-9-17z"/>
<path class="tl" d="M315.2 1287.9l8.8 17.5"/>
<path class="b2" d="M312 1283l9 16-6-11z"/>
<path class="bk" d="M312 1283l3 5-9-14z"/>
<path class="tl" d="M306.5 1273.6l8.7 14.3"/>
<path class="bk" d="M294 1242l9 22 9 19-6-9-9-19-9-23z"/>
<path class="tl" d="M288 1231.6l9.4 23.2 9.1 18.8"/>
<path class="bk" d="M923 885l7 7 7 13 7 11 7 15 6 9 7 14 7 18 6 15 6 17 7 12 7 9 6 16 6 16 6 23 6 19-10-8-7-17-5-24-7-20-6-16-6-12-7-11-6-20-7-14-6-15-7-13-7-9-6-16-7-8-7-13-7-10z"/>
<path class="tl" d="M913.2 872.5l6.9 10.8 6.8 12.4 6.8 8.1 6.7 16.1 6.7 9.3 6.7 12.9 6.5 14.6 6.5 14.8 6.3 19.7 6.6 10.8 6.4 11.6 6.3 16.9 6.1 19.6 5.9 23.8 6.2 17"/>
<path class="b5" d="M916 879l7 6-10-12zM916 879l-3-6-4-8 3 5zM909 879l7 0-4-9-4-1zM909 879l-1-10-3 1zM902 880l7-1-4-9-4-1zM902 880l-1-11-3 2zM896 877l6 3-4-9zM887 880l7-3-7-4zM887 880l0-7-3-1zM880 880l7 0-3-8-4 4zM880 880l0-4-1 0zM878 879l2 1-1-4zM807 907l5-9-6-12zM807 907l-1-21-5-10-4 8zM755 984l8-17 7-11 7-7 8-16 7-6 8-9 7-11-10-23-7 10-7 7-8 8-7 18-7 11-8 10-7 18zM749 998l6-14-9-18 2 29zM748 995l-2-29-5 15z"/>
<path class="b6" d="M909 865l-3-5 6 10zM912 870l-6-10 2 9zM908 869l-2-9-7-2 6 12zM905 870l-6-12 2 11zM901 869l-2-11-7 1 6 12zM895 877l1 0 2-6-6-12zM895 877l-3-18-7-3zM894 877l1 0-10-21 2 17zM887 873l-2-17-7 3 6 13zM884 872l-6-13 2 17zM880 876l-2-17-8 0 9 17zM873 878l5 1 1-3-9-17zM873 878l-3-19-7 0zM814 893l8-10 7 0 8-3 7 3 7-9 8-1 7 5 7 0-10-19-7-1-7-6-8 3-7 9-7-2-7 2-8 1-7 5zM812 898l2-5-9-23 1 16zM806 886l-1-16-4 6z"/>
<path class="b4" d="M748 1002l1-4-1-3zM748 1002l0-7-7-14-2 6zM726 1073l7-28 8-23 7-20-9-15-7 25-8 23-7 24zM721 1088l5-15-9-14 1 23zM718 1082l-1-23-4 16z"/>
<path class="b3" d="M719 1096l2-8-3-6zM719 1096l-1-14-5-7-3 9zM690 1169l7-19 8-16 7-16 7-22-9-12-7 24-7 16-7 15-7 21zM684 1183l6-14-8-9 1 21zM683 1181l-1-21-4 8z"/>
<path class="b2" d="M683 1185l1-2-1-2zM683 1185l0-4-5-13-3 8zM655 1251l7-13 7-13 7-19 7-21-8-9-7 20-7 20-7 15-7 12zM648 1269l7-18-8-8zM648 1269l-1-26-6 11 4 10zM647 1270l1-1-3-5zM336 1328l2 3-1-2zM336 1328l1 1-5-9z"/>
<path class="b1" d="M641 1254l-1 2 5 8zM641 1279l6-9-2-6-5-8zM641 1279l-1-23-7 13zM585 1357l7-2 7-6 7-8 7-11 7-13 7-15 7-10 7-13-8-10-7 12-7 10-7 16-7 13-7 9-7 9-7 6-7 3zM580 1363l5-6-8-10 1 8zM578 1355l-1-8-1 2zM394 1401l1 1-1-2zM394 1401l0-1-1-1zM386 1394l8 7-1-2-6-8zM386 1394l1-3-3-5-4-5zM345 1343l8 13 9 9 8 13 8 8 8 8-6-13-8-7-8-8-9-12-8-10-8-12zM338 1331l7 12-6-11-2-3zM337 1329l2 3-9-14 2 2z"/>
<path class="b0" d="M578 1366l2-3-2-8zM578 1366l0-11-2-6-6 7zM402 1404l8 3 7 4 8 2 8 3 7 1 7-2 8-1 7 1 8 0 7-1 7-2 8-3 7 0 7-2 7-3 8-3 7-3 7-1 7-4 7-6 7-7 8-4 7-4 7-6-8-10-7 6-7 4-7 3-7 5-7 7-7 4-7 2-8 3-7 3-7 2-7 1-7 1-8 2-7 2-7 1-8 1-7-1-7 2-8 1-7 0-8-5-7-2-8-4-8-2zM395 1402l7 2-7-12-1 8zM394 1400l1-8-7-3 5 10zM393 1399l-5-10-1 2zM387 1391l1-2-4-3z"/>
<path class="cl" d="M909.1 865l2.6 5.1-4-.7-3 .4-4.1-.7-2.8 1.9-1.8 6.2M893.6 877.2l-6.9-4.5-2.8-.4-4.2 3.3-1.1 .6-1.1 2.7M811.5 898.1l-5.8-12.5-4.2-9.2M749.5 997.6l-2-2.7-6.7-13.7M721.4 1087.7l-3.1-5.3-5.5-7.6M684 1183l-.9-2.3-4.9-12.7M641.1 1254l4 9.9 1.9 6.5M580.3 1363.1l-2.8-8.4-1.7-5.5M395.1 1401.5l-.8-1.1-1.2-1.2-5.8-8.6-2.9-4.6M338.2 1331.4l-1.6-2.8-5-8.1"/>
<path class="tl" d="M330.1 1318l8.6 13.5 8.5 12.8 8.2 9.9 8.3 12.3 8.1 7.8 7.9 6.7 8 8.4 7.7 2.6 7.6 2.4 7.7 4 7.5 1.7 7.7 4.5 7.4 .3 7.4-1.2 7.3-1.9 7.4 1 7.3-.6 7.3-1.1 7.3-1.8 7.2-1.9 7.3-1.3 7.3-1.5 7.2-1.5 7.2-3 7.1-3.1 7.2-1.9 7.1-3.9 7.1-6.9 7-5.7 7.2-2.8 7.1-3.8 7-6.3 7-8.2 7.1-3.2 7-6 7-9.5 7-8.7 6.9-13 6.8-16.1 7-9.8 6.9-12.6 7-12.5 7-13.5 7-11.8 7-14.3 6.9-20.1 6.9-20.7 7.1-16 7-20.6 7.1-15.2 7.1-16.3 7-23.5 7.1-24.6 7.2-25 7.2-22.8 7.2-24.8 7.3-20.4 7.3-18.1 7.3-10.5 7.3-10.6 7.4-18.5 7.3-8.1 7.4-7.1 7.4-9.8 7.4-13.6 7.3-5.4 7.3-1.2 7.3-1.6 7.3 2 7.4-8.8 7.3-3.2 7.2 5.6 7.2 1.2 7.2 .3 7.2-.2 7.3-2.8 7.1 3.1 7.2-1.5 7.1 2.2 6.9 12.6"/>
<path class="bk" d="M300 1251l9 20 9 21 9 18 9 18-6-10-9-19-9-16-9-19-9-22z"/>
<path class="tl" d="M293.9 1242.4l9.3 21.3 9.1 19.3 8.9 16.3 8.9 18.7"/>
<path class="bk" d="M968 953l7 13 6 14 7 17 6 16 7 12 6 10 6 17 7 14 6 20 6 20-11-7-6-19-6-23-6-16-6-16-7-9-7-12-6-17-6-15-7-18-7-14z"/>
<path class="tl" d="M957.5 939.8l6.6 14 6.5 17.7 6.4 15.6 6.4 17.3 6.6 11.2 6.6 9.1 6.3 15.9 6.2 16.8 6 23 6 18.9"/>
<path class="bk" d="M961 944l7 9-11-13z"/>
<path class="b5" d="M961 944l-4-4-6-9z"/>
<path class="tl" d="M950.7 931.4l6.8 8.4"/>
<path class="bk" d="M941 907l7 10 6 13 7 14-10-13-7-15-7-11-7-13z"/>
<path class="tl" d="M930.4 892l6.8 12.6 6.8 11.2 6.7 15.6"/>
<path class="b5" d="M912 899l7-1 8-2 7 7 7 4-11-15-7-7-7-6-7 0-7 1zM905 896l7 3-10-19zM905 896l-3-16-6-3 0 1zM897 902l8-6-9-18-1 0zM897 902l-2-24-1-1-7 3zM890 901l7 1-10-22-7 0zM883 898l7 3-10-21zM883 898l-3-18-2-1-3 3zM876 899l7-1-8-16-1 0zM876 899l-2-17-6 1zM868 894l8 5-8-16-1 2zM868 894l-1-9-2 2zM861 895l7-1-3-7-4 7zM861 895l0-1zM854 903l7-8 0-1-8-4zM854 903l-1-13-7-2zM846 900l8 3-8-15-1 1zM846 900l-1-11-2 4zM839 900l7 0-3-7-5-1zM839 900l-1-8-3 2zM832 899l7 1-4-6-4 1zM832 899l-1-4-2 1zM824 905l8-6-3-3-5 5zM824 905l0-4-3 0zM817 920l7-15-3-4-6-1zM817 920l-2-20-3-2-5 9zM764 998l8-16 7-9 8-7 7-16 8-7 7-13 8-10-10-13-7 11-8 9-7 6-8 16-7 7-7 11-8 17zM758 1010l6-12-9-14 2 23zM757 1007l-2-23-6 14z"/>
<path class="b6" d="M896 877l-1 0 1 1zM896 878l-1-1 0 1zM895 878l0-1-1 0zM878 879l-5-1 2 4zM875 882l-2-4 1 4zM874 882l-1-4-7 0 2 5zM868 883l-2-5 1 7zM867 885l-1-7-7-5 6 14zM865 887l-6-14 2 21zM861 894l-2-21-8 1 10 20zM861 894l-10-20 2 16zM853 890l-2-16-7 9 2 5zM846 888l-2-5 1 6zM845 889l-1-6-7-3 6 13zM843 893l-6-13 1 12zM838 892l-1-12-8 3 6 11zM835 894l-6-11 2 12zM831 895l-2-12-7 0 7 13zM829 896l-7-13 2 18zM824 901l-2-18-8 10 7 8zM821 901l-7-8 1 7zM815 900l-1-7-2 5z"/>
<path class="b4" d="M757 1012l1-2-1-3zM757 1012l0-5-8-9-1 4zM735 1084l7-29 8-24 7-19-9-10-7 20-8 23-7 28zM729 1105l6-21-9-11 2 29zM728 1102l-2-29-5 15z"/>
<path class="b3" d="M728 1108l1-3-1-3zM728 1108l0-6-7-14-2 8zM699 1177l7-19 7-14 8-13 7-23-9-12-7 22-7 16-8 16-7 19zM692 1192l7-15-9-8zM692 1192l-2-23-6 14 3 5zM691 1195l1-3-5-4z"/>
<path class="b2" d="M684 1183l-1 2 4 3zM685 1214l6-19-4-7-4-3zM685 1214l-2-29-7 21zM656 1278l7-16 8-13 7-15 7-20-9-8-7 19-7 13-7 13-7 18zM653 1284l3-6-8-9 0 5zM648 1274l0-5-1 1z"/>
<path class="b1" d="M649 1289l4-5-5-10zM649 1289l-1-15-1-4-6 9zM593 1369l7-3 7-7 7-9 7-11 7-11 7-14 7-10 7-15-8-10-7 13-7 10-7 15-7 13-7 11-7 8-7 6-7 2zM586 1377l7-8-8-12zM586 1377l-1-20-5 6 3 10zM584 1379l2-2-3-4zM401 1412l6 3-6-7zM401 1412l0-4-6-6-1-1zM360 1365l8 12 8 11 8 7 9 9 8 8-7-11-8-7-8-8-8-8-8-13-9-9z"/>
<path class="b0" d="M580 1363l-2 3 5 7zM578 1383l6-4-1-6-5-7zM578 1383l0-17-7 6zM408 1416l8 3 8 4 8 1 7 4 8 2 7-1 8-2 7 2 8-2 7-1 7-1 8-3 7-1 7-2 8-2 7-3 7-3 8-2 7-4 7-7 7-5 7-5 7-5-7-11-7 4-8 4-7 7-7 6-7 4-7 1-7 3-8 3-7 3-7 2-7 0-8 3-7 2-7 1-8 0-7-1-8 1-7 2-7-1-8-3-8-2-7-4-8-3zM407 1415l1 1-6-12-1 4zM401 1408l1-4-7-2z"/>
<path class="cl" d="M896 877.2l-.4 1-.7-.4-1.3-.6M877.5 878.9l-2.4 2.8-1.5 .5-5.4 1.1-1.3 2-1.7 2.1-4.3 6.4-.4 .1-8-3.8-6.5-2.6-1.2 1.9-1.8 3.8-5-1.3-2.5 1.8-4.5 1.2-1.6 .7-5.8 4.9-2.8 .3-5.8-.8-3.5-1.9M758.4 1009.5l-1.6-2.4-7.3-9.5M728.9 1104.7l-1.4-3-6.1-14M684 1183l2.6 4.5 4.4 7.3M652.7 1283.6l-4.2-9.8-1.5-3.4M580.3 1363.1l2.7 10.3 .7 5.2M407 1415.3l-5.7-7.4-6.2-6.4"/>
<path class="tl" d="M353.4 1355.8l8.2 9.6 8.4 12.1 8.1 8.5 8.1 7.8 8 7.3 7.7 3.1 7.7 3.1 7.7 4 7.6 1.3 7.6 3.2 7.5 .9 7.4-1.4 7.4-1.8 7.5 1.7 7.4-.3 7.3-1.4 7.3-1.6 7.3-2.6 7.3-.6 7.3-1.9 7.3-2.5 7.2-3.4 7.2-3.1 7.3-.5 7.1-4 7.1-6.3 7.1-6.5 7.1-4.2 7.2-4.4 7.1-5.7 7-8.9 7.2-2.4 7.1-5.9 7-8.5 7-11 7-12 6.9-15 7-10.8 7-12.4 7.1-10.7 6.9-17.5 7.1-12.9 7.1-12.9 7-19.8 7-21 7.1-15.8 7.1-18.4 7.1-16.2 7.2-15.7 7.1-22.8 7.2-22.9 7.2-27.3 7.3-23.2 7.3-20.7 7.3-17.7 7.4-17 7.4-10.8 7.3-7.2 7.4-15.3 7.4-6.9 7.4-8.9 7.4-10.6 7.5-14.6 7.4-9 7.4-.7 7.3-2.6 7.3 2.8 7.4-8.9 7.3-1.2 7.2 5.3 7.3-.6 7.2 2.1 7.3 .3 7.3-3.3 7.1 2.8 7.2-.1 7.2-.3 7.1 5.9 7 7"/>
<path class="bk" d="M306 1258l9 22 9 23 9 18 9 17 9 14 9 13-7-9-8-13-9-15-9-18-9-18-9-21-9-20z"/>
<path class="tl" d="M299.7 1250.9l9.3 20.6 9.3 20.9 8.9 17.8 9 17.8 8.7 14.6 8.5 13.2"/>
<path class="bk" d="M958 934l7 9 7 12 6 12 7 11 7 14 6 17 7 14 6 12 7 10 6 16 7 13 6 18 6 20-11-6-6-20-6-20-7-14-6-17-6-10-7-12-6-16-7-17-6-14-7-13-7-9-7-14-6-13z"/>
<path class="tl" d="M947.6 916.5l6.7 13.8 6.8 14.1 6.8 8.7 6.7 12.4 6.6 14.6 6.4 16.6 6.5 16.1 6.5 12.4 6.6 10.2 6.2 17.1 6.4 13.6 6.1 19.7 6 20.3"/>
<path class="b5" d="M774 1011l7-14 8-8 7-7 8-18 7-6 8-8 7-12 8-13 7-1 8 0 7-2 7 3 8-8 7 2 8 5 7-1 7 7 7-4 8-9 7 5 7-1 8-2 7 7 7 1 7 7-10-17-7-10-7-4-7-7-8 2-7 1-7-3-8 6-7-1-7-3-7 1-8-5-7 1-7 8-8-3-7 0-7-1-8 6-7 15-8 10-7 13-8 7-7 16-8 7-7 9-8 16zM769 1019l5-8-10-13 2 17zM766 1015l-2-17-6 12z"/>
<path class="b4" d="M766 1024l3-5-3-4zM766 1024l0-9-8-5-1 2zM744 1092l8-28 7-21 7-19-9-12-7 19-8 24-7 29zM737 1116l7-24-9-8zM737 1116l-2-32-6 21 7 11zM737 1117l0-1-1 0z"/>
<path class="b3" d="M729 1105l-1 3 8 8zM730 1138l7-21-1-1-8-8zM730 1138l-2-30-7 23zM701 1202l7-18 7-18 7-13 8-15-9-7-8 13-7 14-7 19-7 15zM697 1212l4-10-9-10 0 6zM692 1198l0-6-1 3z"/>
<path class="b2" d="M693 1221l4-9-5-14zM693 1221l-1-23-1-3-6 19zM665 1289l7-18 7-14 7-16 7-20-8-7-7 20-7 15-8 13-7 16zM658 1300l7-11-9-11zM658 1300l-2-22-3 6 3 14zM657 1301l1-1-2-2z"/>
<path class="b1" d="M653 1284l-4 5 7 9zM651 1314l6-13-1-3-7-9zM651 1314l-2-25-7 15zM593 1388l7-9 8-3 7-8 7-10 7-9 7-11 7-13 8-11-9-10-7 10-7 14-7 11-7 11-7 9-7 7-7 3-7 8zM586 1394l7-6-7-11 0 17zM586 1394l0-17-2 2zM415 1427l4 2-4-4zM415 1427l0-2-4-5zM407 1422l8 5-4-7-3-3zM407 1422l1-5-1-2-6-3zM374 1386l9 11 8 8 8 9 8 8-6-10-8-8-9-9-8-7-8-11zM366 1374l8 12-6-9z"/>
<path class="b0" d="M586 1394l-2-15-6 4zM423 1431l8 4 7 0 8 5 8 2 7-2 8-1 7 0 8-1 7-1 8 0 7-2 7-2 8-2 7-1 7-4 8-3 7-2 7-5 8-6 7-4 7-6 7-6-8-11-7 5-7 5-7 5-7 7-7 4-8 2-7 3-7 3-8 2-7 2-7 1-8 3-7 1-7 1-8 2-7-2-8 2-7 1-8-2-7-4-8-1-8-4zM419 1429l4 2-7-12-1 6zM415 1425l1-6-8-3 3 4zM411 1420l-3-4 0 1zM408 1417l0-1-1-1z"/>
<path class="bk" d="M366 1374l2 3-8-12z"/>
<path class="cl" d="M769 1019.4l-3.2-4-7.4-5.9M728.9 1104.7l7.3 11.2 .6 .9M696.8 1211.9l-4.7-14.2-1.1-2.9M652.7 1283.6l3.5 14.1 .9 2.9M586.2 1394.2l0-.4-2.5-15.2M418.8 1428.8l-3.4-4-4.8-5.1-2.3-2.9-1.3-1.5"/>
<path class="tl" d="M359.6 1365.2l8.4 11.5 8.3 10.8 8.2 8 8.1 8.6 8 7.5 7.9 4.6 7.7 3 7.8 4.1 7.6 .5 7.7 4 7.6 1.9 7.5-1 7.4-1.3 7.5 1.1 7.4-1.8 7.4-.9 7.3-1.3 7.4-2.4 7.3-.7 7.4-2 7.2-2.7 7.3-3.2 7.3-2.9 7.3-1.2 7.2-4.7 7.1-6.6 7.2-5.4 7.2-4.6 7.1-5.2 7.2-5.8 7-8.6 7.3-2.5 7.1-6.7 7.1-8.9 7-10.9 7.1-11.7 7-14.1 7.1-9.9 7-15.3 7.1-10.2 7.1-16.6 7.1-13.1 7.1-14.8 7-20.2 7.1-21.4 7.2-15.5 7.2-18.3 7.2-14.6 7.2-12.9 7.2-22.9 7.3-23.7 7.3-29.1 7.3-24.5 7.4-18.6 7.4-13.9 7.4-16.2 7.4-8.8 7.5-6.9 7.4-16.7 7.5-7.1 7.4-12.6 7.5-9.8 7.5-15 7.5-6.1 7.3 .5 7.4 .2 7.3 3.6 7.5-8.2 7.3-.8 7.2 4.4 7.4-.8 7.2 3.3 7.2 1 7.4-5.8 7.2 3 7.3-1.7 7.2-1.7 7.1 6.7 7.1 3.9 6.9 9.9"/>
<path class="bk" d="M357 1360l9 14-6-9-9-13z"/>
<path class="tl" d="M351 1351.7l8.6 13.5"/>
<path class="bk" d="M349 1348l8 12-6-8z"/>
<path class="b1" d="M350 1351l1 1-4-6z"/>
<path class="b2" d="M349 1348l1 3-3-5-5-8z"/>
<path class="cl" d="M350.3 1350.7l-2.8-4.5"/>
<path class="tl" d="M342.3 1338.1l8.7 13.6"/>
<path class="bk" d="M312 1267l9 23 9 19 9 21 10 18-7-10-9-17-9-18-9-23-9-22z"/>
<path class="tl" d="M305.5 1258.3l9.4 21.7 9.4 22.6 9.1 18.6 8.9 16.9"/>
<path class="bk" d="M1029 1061l6 13 7 10 6 19 6 20-11-11-6-20-6-18-7-13-6-16z"/>
<path class="tl" d="M1017.9 1044.9l6.3 16.6 6.5 12.5 6.1 17.9 6.1 19.9"/>
<path class="b4" d="M1022 1052l7 9-11-16-7-10z"/>
<path class="tl" d="M1011.3 1034.8l6.6 10.1"/>
<path class="bk" d="M996 995l6 14 7 18 6 13 7 12-11-17-6-12-7-14-6-17-7-14z"/>
<path class="tl" d="M985.2 977.7l6.6 14 6.5 17.2 6.5 14 6.5 11.9"/>
<path class="b4" d="M993 991l3 4-9-15zM776 1039l5-10-6-4zM776 1039l-1-14-6-6-3 5zM746 1126l7-26 8-27 7-18 8-16-10-15-7 19-7 21-8 28-7 24zM744 1132l2-6-9-10 0 1z"/>
<path class="b5" d="M989 986l4 5-6-11-2-2zM989 986l-4-8-7-11zM783 1024l8-12 7-5 8-12 8-16 7-6 8-5 7-4 8-13 7 1 8 0 7-2 7 1 8-10 7 4 8 7 7 2 7 6 8-6 7-11 7 5 8-2 7 0 7 6 7 1 7 2 7 9 7 11 7 11-11-19-6-12-7-12-7-9-7-7-7-1-7-7-8 2-7 1-7-5-8 9-7 4-7-7-7 1-8-5-7-2-8 8-7-3-7 2-8 0-7 1-8 13-7 12-8 8-7 6-8 18-7 7-8 8-7 14zM781 1029l2-5-9-13 1 14zM775 1025l-1-14-5 8z"/>
<path class="b3" d="M739 1146l5-14-7-15zM739 1146l-2-29-7 21zM709 1208l8-15 7-18 7-14 8-15-9-8-8 15-7 13-7 18-7 18zM703 1226l6-18-8-6 1 21zM702 1223l-1-21-4 10z"/>
<path class="b2" d="M702 1229l1-3-1-3zM702 1229l0-6-5-11-4 9zM666 1309l7-13 7-16 8-16 7-17 7-18-9-8-7 20-7 16-7 14-7 18-7 11zM663 1314l3-5-8-9 0 2zM658 1302l0-2-1 1z"/>
<path class="b1" d="M659 1322l4-8-5-12zM659 1322l-1-20-1-1-6 13zM601 1399l7-10 8-4 7-8 7-9 7-11 7-10 8-14 7-11-8-8-8 11-7 13-7 11-7 9-7 10-7 8-8 3-7 9zM594 1405l7-6-8-11zM594 1405l-1-17-7 6zM587 1410l7-5-8-11 0 1zM587 1410l-1-15 0 14zM586 1411l1-1-1-1zM430 1442l4 2-4-4zM430 1442l0-2-3-3zM422 1438l8 4-3-5-4-4zM422 1438l1-5-4-4-4-2zM381 1396l8 10 8 8 9 10 8 8 8 6-7-11-8-5-8-8-8-9-8-8-9-11z"/>
<path class="b0" d="M586 1395l0-1-7 6 7 9zM580 1417l6-6 0-2-7-9zM580 1417l-1-17-7 6zM438 1445l7 1 8 6 8 2 7 0 8-2 7-1 8-1 7 0 8-1 7-2 8-2 7-2 8-1 7-5 7-4 8-1 7-5 7-5 8-5-8-11-7 4-8 6-7 5-7 2-8 3-7 4-7 1-8 2-7 2-7 2-8 0-7 1-8 1-7 0-8 1-7 2-8-2-8-5-7 0zM434 1444l4 1-7-10-1 5zM430 1440l1-5-8-4 4 6zM427 1437l-4-6 0 2zM423 1433l0-2-4-2z"/>
<path class="cl" d="M992.7 991.1l-6.1-11.1M781.1 1028.9l-6.2-3.7-5.9-5.8M743.9 1132l-7-14.9-.1-.3M703.1 1225.6l-1.4-3.1-4.9-10.6M663.2 1313.9l-5.5-11.9-.6-1.4M586.2 1394.2l0 .1 0 1-.4 13.7 .3 2M433.9 1443.9l-3.9-3.5-3.4-3.5-4-4.2-3.8-3.9"/>
<path class="tl" d="M374.3 1386.1l8.4 10.7 8.1 8.1 8.3 9.3 8.1 7.8 7.9 5.1 7.8 3.6 7.8 4 7.6 .2 7.8 4.6 7.7 2.8 7.5-1.8 7.5-1.2 7.5-.1 7.4-1.5 7.5-.3 7.5 0 7.3-2.9 7.4-1.5 7.4-1.6 7.4-1.9 7.2-3.7 7.3-3.2 7.4-1.4 7.2-5.6 7.2-5.5 7.3-4.6 7.2-5.9 7.2-5.3 7.2-6.4 7.1-8.8 7.3-3.2 7.1-7.5 7.1-10 7.2-9.8 7.1-10.3 7.1-13.7 7.1-10.8 7.1-14.2 7.2-10.4 7.1-18.4 7.1-14.1 7.2-16.1 7.1-19.5 7.2-18.9 7.2-17.9 7.3-18.2 7.3-12.9 7.3-15.5 7.3-21.2 7.3-24.3 7.4-27.8 7.4-21.8 7.4-18.7 7.5-13.1 7.5-13.9 7.4-7.6 7.5-7.8 7.5-17.1 7.5-6 7.5-8.6 7.5-12.1 7.6-12.7 7.4-1 7.4 .4 7.5-2.3 7.3 2.9 7.5-8.3 7.3 2.4 7.3 4.5 7.3-.3 7.2 7.2 7.4-4.8 7.4-8.3 7.2 4.3 7.3-.6 7.3-2.1 7.1 6.5 7.1 1.9 7.1 6.6 6.9 9.4 6.8 11.7 6.7 12.3 6.8 10.3"/>
<path class="bk" d="M317 1274l10 25 9 20 10 20 9 18 8 10 9 14 9 15-7-10-8-12-9-14-8-12-10-18-9-21-9-19-9-23z"/>
<path class="tl" d="M311.5 1267.4l9.5 22.9 9.2 18.8 9.3 20.7 9 18.3 8.6 12.2 8.7 13.3 8.5 12.5"/>
<path class="bk" d="M1006 1013l7 12 7 15 6 14 7 8 7 11 6 14 7 8 6 18 6 16-11-6-6-20-6-19-7-10-6-13-7-9-7-12-6-13-7-18-6-14z"/>
<path class="tl" d="M995.7 995.3l6.7 14.1 6.4 17.7 6.6 13.2 6.5 11.9 6.7 8.5 6.5 12.9 6.5 10.4 6.1 19.1 6.1 19.9"/>
<path class="b4" d="M1003 1008l3 5-10-18 1 4zM997 999l-1-4-3-4zM793 1042l3-4-3-1zM793 1042l0-5-4-2zM785 1056l8-14-4-7-5-4zM785 1056l-1-25-3-2-5 10zM755 1135l8-23 7-27 8-15 7-14-9-17-8 16-7 18-8 27-7 26zM752 1144l3-9-9-9 1 11zM747 1137l-1-11-2 6z"/>
<path class="b5" d="M1000 1004l3 4-6-9zM1000 1004l-3-5-4-8-4-5zM801 1032l7-7 8-12 7-10 8-6 7-4 8-4 8-11 7 5 7 0 8-6 7 2 8-11 7 5 8 8 7-2 7 4 8-1 7-10 7 6 8-1 7-2 7 4 7 2 8 0 7 5 7 7 7 11-11-18-7-11-7-11-7-9-7-2-7-1-7-6-7 0-8 2-7-5-7 11-8 6-7-6-7-2-8-7-7-4-8 10-7-1-7 2-8 0-7-1-8 13-7 4-8 5-7 6-8 16-8 12-7 5zM796 1038l5-6-10-20 2 25zM793 1037l-2-25-8 12 6 11zM789 1035l-6-11 1 7zM784 1031l-1-7-2 5z"/>
<path class="b3" d="M748 1154l4-10-5-7zM748 1154l-1-17-3-5-5 14zM718 1215l8-13 7-16 7-16 8-16-9-8-8 15-7 14-7 18-8 15zM711 1236l7-21-9-7zM711 1236l-2-28-6 18 3 6zM709 1240l2-4-5-4z"/>
<path class="b2" d="M703 1226l-1 3 4 3zM704 1254l5-14-3-8-4-3zM704 1254l-2-25-7 18zM675 1319l7-13 7-18 7-17 8-17-9-7-7 17-8 16-7 16-7 13zM669 1330l6-11-9-10 1 15zM667 1324l-1-15-3 5z"/>
<path class="b1" d="M667 1333l2-3-2-6zM667 1333l0-9-4-10-4 8zM595 1421l7-6 7-6 7-11 8-5 7-8 7-10 8-10 7-8 7-14 7-10-8-11-7 11-8 14-7 10-7 11-7 9-7 8-8 4-7 10-7 6-7 5zM589 1426l6-5-8-11 0 6zM587 1416l0-6-1 1zM452 1456l1 1-1-1zM452 1456l-1-1zM444 1455l8 1-1-1-6-5zM444 1455l1-5-5-2zM436 1452l8 3-4-7-3-2zM436 1452l1-6-3-2-4-2zM387 1406l9 9 8 7 8 10 8 8 9 8 7 4-6-10-8-4-8-6-8-8-9-10-8-8-8-10z"/>
<path class="b0" d="M587 1428l2-2-2-10zM587 1428l0-12-1-5-6 6zM460 1462l8 3 7 0 8-1 8-1 7-2 8 0 7-1 8-3 7 0 8-1 7-2 8-6 7-3 7-2 8-7 7-4 7-4-7-11-8 5-7 5-7 5-8 1-7 4-7 5-8 1-7 2-8 2-7 2-8 1-7 0-8 1-7 1-8 2-7 0-8-2zM453 1457l7 5-7-10-1 4zM452 1456l1-4-8-6 6 9zM451 1455l-6-9 0 4zM445 1450l0-4-7-1 2 3zM440 1448l-2-3-1 1zM437 1446l1-1-4-1z"/>
<path class="cl" d="M1003 1008.4l-5.8-9.7-4.5-7.6M795.8 1038.4l-3.1-1.7-3.5-1.8-5.3-3.9-2.8-2.1M751.6 1144.1l-4.8-7.2-2.9-4.9M703.1 1225.6l3.2 6.6 3 7.8M668.8 1329.8l-1.9-5.9-3.7-10M588.9 1426.4l-1.9-10.7-.9-4.7M453.2 1457.1l-1-1.1-1.3-1.5-6.1-4.1-5.2-2-2.3-1.9-3.4-2.6"/>
<path class="tl" d="M380.7 1395.7l8.4 10.8 8.2 7.4 8.3 9.8 8.2 7.9 8 6.7 7.9 4 7.8 3 7.7 .3 7.9 6 7.7 2.8 7.6-.7 7.5-1.5 7.5-.8 7.5-1.1 7.6 0 7.5-.9 7.4-2.8 7.4-1.6 7.4-1.6 7.4-1.6 7.4-4.7 7.3-4.2 7.4-1 7.3-5 7.2-5.2 7.3-4.9 7.3-6.4 7.2-5 7.3-6.2 7.1-10.7 7.3-3.9 7.3-7.2 7.1-9.2 7.2-11.1 7.2-10.4 7.1-13.8 7.2-10.8 7.2-13.5 7.2-12.1 7.2-16.8 7.2-15.3 7.2-17.1 7.3-18.8 7.2-20.1 7.3-15.5 7.3-17.6 7.4-14.4 7.4-14.8 7.3-19.9 7.4-26.7 7.5-26.7 7.5-17.9 7.5-15.6 7.5-15.1 7.5-12.3 7.6-5.2 7.5-11.8 7.6-15.4 7.5-6.2 7.5-5.6 7.5-4 7.6-12.9 7.5 1.4 7.4-.5 7.4-2.1 7.4 1.9 7.6-10.2 7.3 4 7.2 7 7.3 1.7 7.3 5.6 7.4-5.9 7.6-10.4 7.2 4.5 7.3-2.3 7.3 .7 7.1 5.4 7.2 1 7.1 2.7 7 8.7 6.8 10.6 6.8 11.3 6.8 9.4"/>
<path class="bk" d="M370 1376l8 15 9 15-6-10-9-15-9-14z"/>
<path class="tl" d="M363.3 1367.2l8.7 13.8 8.7 14.7"/>
<path class="b2" d="M361 1364l9 12-7-9z"/>
<path class="bk" d="M361 1364l2 3-8-10z"/>
<path class="tl" d="M354.7 1356.8l8.6 10.4"/>
<path class="bk" d="M324 1282l9 25 10 21 9 20 9 16-6-7-9-18-10-20-9-20-10-25z"/>
<path class="tl" d="M317.4 1273.6l9.7 25 9.3 20.1 9.3 20.5 9 17.6"/>
<path class="bk" d="M1004 1005l7 10 6 13 7 9 7 9 7 14 6 12 7 10 6 14 7 6 6 16 6 19-11-8-6-16-6-18-7-8-6-14-7-11-7-8-6-14-7-15-7-12-6-9-7-11z"/>
<path class="tl" d="M992.8 993l6.8 11.2 6.9 8.4 6.7 12.2 6.5 15.5 6.6 13.3 6.7 8.7 6.6 10.7 6.4 14.5 6.7 7 6.2 18.1 6.2 16.3"/>
<path class="b5" d="M810 1053l8-9 8-11 7-10 8-6 8-5 7-4 8-7 7 5 8-1 7-4 8 0 7-8 8 7 7 8 7-4 8 1 7-2 8-5 7 4 7-1 7 1 8 1 7 1 7 0 7 3 8-2-11-12-7-7-7-5-8 0-7-2-7-4-7 2-8 1-7-6-7 10-8 1-7-4-7 2-8-8-7-5-8 11-7-2-8 6-7 0-7-5-8 11-8 4-7 4-8 6-7 10-8 12-7 7zM809 1054l1-1-9-21 0 11zM801 1043l0-11-5 6z"/>
<path class="b4" d="M803 1062l6-8-8-11zM803 1062l-2-19-5-5-3 4zM765 1145l7-20 8-25 8-11 7-14 8-13-10-20-8 14-7 14-8 15-7 27-8 23zM757 1163l8-18-10-10zM757 1163l-2-28-3 9 4 18zM757 1164l0-1-1-1z"/>
<path class="b3" d="M752 1144l-4 10 8 8zM750 1178l7-14-1-2-8-8zM750 1178l-2-24-8 16zM720 1244l7-18 8-15 7-18 8-15-10-8-7 16-7 16-8 13-7 21zM715 1254l5-10-9-8 1 9zM712 1245l-1-9-2 4z"/>
<path class="b2" d="M713 1260l2-6-3-9zM713 1260l-1-15-3-5-5 14zM683 1328l8-15 7-19 7-18 8-16-9-6-8 17-7 17-7 18-7 13zM676 1342l7-14-8-9zM676 1342l-1-23-6 11 3 8zM673 1346l3-4-4-4z"/>
<path class="b1" d="M669 1330l-2 3 5 5zM669 1352l4-6-1-8-5-5zM669 1352l-2-19-7 10zM603 1433l7-8 7-7 8-12 7-5 7-9 8-10 7-7 7-8 8-15-9-9-7 14-7 8-8 10-7 10-7 8-8 5-7 11-7 6-7 6zM595 1440l8-7-8-12zM595 1440l0-19-6 5 1 5zM588 1442l7-2-5-9-2 1zM588 1442l0-10-5 4zM580 1446l8-4-5-6-3 7zM580 1446l0-3 0 2zM580 1446l0-1zM467 1471l3 2-3-3zM467 1471l0-1-2-2zM459 1466l8 5-2-3-5-4zM459 1466l1-2-7-7-1-1zM419 1440l8 10 8 7 8 3 8 4 8 2-7-10-8-1-8-3-7-4-9-8-8-8z"/>
<path class="b0" d="M589 1426l-2 2 3 3zM590 1431l-3-3 1 4zM588 1432l-1-4-7 4 3 4zM583 1436l-3-4 0 11zM580 1443l0-11-7 4 7 9zM573 1453l7-7 0-1-7-9zM573 1453l0-17-8 7zM475 1476l8 0 7-1 8 0 8-2 7 0 8-1 7-4 8-1 7 0 8-1 7-7 8-3 7-3-8-10-7 2-7 3-8 6-7 2-8 1-7 0-8 3-7 1-8 0-7 2-8 1-8 1-7 0zM470 1473l5 3-7-11-1 5zM467 1470l1-5-8-3 5 6zM465 1468l-5-6 0 2zM460 1464l0-2-7-5z"/>
<path class="cl" d="M809.5 1054l-8.1-10.8-5.6-4.8M751.6 1144.1l4.7 17.7 .5 1.8M715.2 1254.3l-3.6-8.8-2.3-5.5M668.8 1329.8l2.8 7.7 1.5 8.7M588.9 1426.4l.9 5-2.2 .7-4.2 4.2-3 7-.6 1.5 .1 1.4M470.1 1473l-2.9-2.9-2.4-1.9-5.2-4.6-6.4-6.5"/>
<path class="tl" d="M412.2 1431.9l8.2 8.1 8.1 8.1 8 4.2 7.9 3.1 7.7 .9 7.9 5.5 7.9 3.4 7.6-.2 7.6-.7 7.5-1.5 7.6-1.5 7.6 .1 7.5-1 7.4-2.9 7.6-.4 7.5-1.3 7.4-1.6 7.4-5.7 7.4-3.4 7.4-2.4 7.3-6.5 7.3-4.2 7.4-4.2 7.3-6.5 7.3-6.3 7.3-5.8 7.2-11.2 7.3-5.4 7.3-8.1 7.2-9.6 7.3-9.5 7.2-8.8 7.2-14 7.3-10.1 7.3-13.4 7.2-13.6 7.3-17.6 7.2-17.3 7.3-17 7.3-17.4 7.3-21 7.4-13.2 7.4-16.4 7.4-15.6 7.5-16.5 7.4-18.7 7.5-23 7.6-27 7.5-14.5 7.6-14.1 7.5-14.2 7.6-9.9 7.6-6.7 7.6-12.3 7.6-10.5 7.5-5.4 7.6-4.5 7.5-3.4 7.6-11.4 7.4 5.1 7.5-.2 7.5-5.8 7.4 1.6 7.6-10.2 7.4 4.9 7.2 7.8 7.4-1.8 7.3 3.8 7.3-1.4 7.6-9.5 7.2 5.7 7.3-1.1 7.4-1.4 7.2 3.5 7.2 2.1 7.2 .3 7.1 5 7 6.7"/>
<path class="bk" d="M410 1429l9 11-7-8-8-10z"/>
<path class="tl" d="M403.8 1422.2l8.4 9.7"/>
<path class="b1" d="M394 1414l8 9 8 6-6-7-8-7-9-9z"/>
<path class="tl" d="M387.2 1405.9l8.4 9.6 8.2 6.7"/>
<path class="bk" d="M330 1291l9 23 10 20 9 20 9 17 9 13 9 15 9 15-7-8-9-15-8-15-9-12-9-16-9-20-10-21-9-25z"/>
<path class="tl" d="M323.5 1282.4l9.8 24.6 9.4 21.1 9.3 19.7 9 16.3 8.7 12.2 8.7 14.6 8.8 15"/>
<path class="bk" d="M1042 1058l7 12 6 14 7 10 7 11 7 7 6 14 6 16-12-5-6-19-6-16-7-6-6-14-7-10-6-12-7-14z"/>
<path class="tl" d="M1031 1045.8l6.6 14.3 6.6 12.2 6.7 10 6.4 14.1 6.8 5.9 6.3 15.5 6.1 19"/>
<path class="b4" d="M1035 1052l7 6-11-12-7-9z"/>
<path class="tl" d="M1024.2 1037.5l6.8 8.3"/>
<path class="bk" d="M1022 1030l7 11 6 11-11-15-7-9-6-13z"/>
<path class="tl" d="M1010.7 1015l6.7 12.7 6.8 9.8"/>
<path class="b4" d="M1015 1026l7 4-6-8-2 2zM1015 1026l-1-2zM1007 1030l8-4-1-2-7 1zM1007 1030l0-5-2 0zM1000 1030l7 0-2-5-6-1zM1000 1030l-1-6-2 0zM993 1032l7-2-3-6-6-3zM993 1032l-2-11-3 0zM985 1029l8 3-5-11-3 3zM985 1029l0-5-1 1zM982 1028l3 1-1-4zM820 1070l4-5-4-4zM820 1070l0-9-8-5zM813 1080l7-10-8-14-1-1zM813 1080l-2-25-2-1-6 8zM767 1168l7-15 8-16 8-23 7-8 8-11 8-15-10-18-8 13-7 14-8 11-8 25-7 20-8 18zM764 1173l3-5-10-5 0 2zM757 1165l0-2 0 1z"/>
<path class="b5" d="M1016 1022l-5-7 3 9zM1014 1024l-3-9-7-10 10 19zM1014 1024l-10-19 3 20zM1007 1025l-3-20-8 2 9 18zM1005 1025l-9-18 3 17zM999 1024l-3-17-7-3 8 20zM997 1024l-8-20 2 17zM991 1021l-2-17-7 0 6 17zM988 1021l-6-17 3 20zM985 1024l-3-20-7-1 9 22zM978 1028l4 0 2-3-9-22zM978 1028l-3-25-8-1zM828 1059l8-6 7-8 8-9 8-8 7 1 8-1 7 2 8-2 7-4 8 2 8-8 7 3 7 9 8-2 7 4 7-3 8-5 7 4 8-1 7 1-11-26-7-1-7 1-7-4-8 5-7 2-8-1-7 4-7-8-8-7-7 8-8 0-7 4-8 1-7-5-8 7-7 4-8 5-8 6-7 10-8 11zM824 1065l4-6-10-15 2 17zM820 1061l-2-17-8 9 2 3zM812 1056l-2-3 1 2zM811 1055l-1-2-1 1z"/>
<path class="b3" d="M759 1185l5-12-7-8zM759 1185l-2-20 0-1-7 14zM729 1253l8-18 7-18 8-15 7-17-9-7-8 15-7 18-8 15-7 18zM722 1268l7-15-9-9zM722 1268l-2-24-5 10 3 11zM720 1271l2-3-4-3z"/>
<path class="b2" d="M715 1254l-2 6 5 5zM714 1284l6-13-2-6-5-5zM714 1284l-1-24-8 16zM685 1352l7-16 7-13 8-17 7-22-9-8-7 18-7 19-8 15-7 14zM677 1360l8-8-9-10zM677 1360l-1-18-3 4 1 11zM676 1363l1-3-3-3z"/>
<path class="b1" d="M673 1346l-4 6 5 5zM670 1374l6-11-2-6-5-5zM670 1374l-1-22-8 15zM588 1457l8-4 7-2 8-8 7-7 8-8 7-12 7-4 8-11 7-10 8-7 7-10-9-7-7 8-7 7-8 10-7 9-7 5-8 12-7 7-7 8-8 7-7 2-8 4zM581 1463l7-6-8-11zM581 1463l-1-17-3 12zM574 1467l7-4-4-5-4 4zM574 1467l-1-5-2 2zM566 1471l8-4-3-3-5 6zM566 1471l0-1zM565 1471l1 0 0-1zM505 1483l4 0-4-1zM505 1483l0-1-1 0zM498 1483l7 0-1-1-6-1zM498 1483l0-2-2 0zM490 1485l8-2-2-2-6 1zM490 1485l0-3-2 0zM482 1484l8 1-2-3-6-1zM482 1484l0-3-4-1zM474 1479l8 5-4-4-3-3zM474 1479l1-2-5-4-3-2zM434 1457l8 7 8 2 8 6 8 3 8 4-7-8-8-5-8-2-8-4-8-3-8-7z"/>
<path class="b0" d="M580 1446l-7 7 4 5zM577 1458l-4-5 0 9zM573 1462l0-9-7 3 5 8zM571 1464l-5-8 0 14zM566 1470l0-14-8 3 8 11zM559 1477l6-6 1-1-8-11zM559 1477l-1-18-7 7zM513 1483l8-1 7-1 8-4 7 1 8 0 8-1-8-11-8 1-7 0-8 1-7 4-8 1-7 0zM509 1483l4 0-7-10-1 9zM505 1482l1-9-8 2 6 7zM504 1482l-6-7 0 6zM498 1481l0-6-8 0 6 6zM496 1481l-6-6 0 7zM490 1482l0-7-7 1 5 6zM488 1482l-5-6-1 5zM482 1481l1-5-8 0 3 4zM478 1480l-3-4 0 1zM475 1477l0-1-5-3z"/>
<path class="cl" d="M1015.8 1022.1l-1.9 2.1-.3 .2-7 1-1.8-.7-5.8-1-1.6 .2-6.1-2.6-2.9-.3-3.7 3.2-.8 1.2-1.8 3M824 1064.5l-4.5-3.8-7.5-5.1-1.4-.7-1.1-.9M764.3 1173.2l-6.9-8.3-.6-1.3M715.2 1254.3l3.3 10.9 1.6 6.1M673.1 1346.2l1 11.1 1.6 5.9M579.9 1446.2l-3.1 11.4-3.4 4.3-2 2.2-5.3 5.6-.4 .3-.3 1.1M508.7 1482.6l-3.4-1-1-.1-6.7-.4-2-.2-5.6 1.3-2.1 .3-5.6-1.9-4-1-3.6-3.1-4.6-3.5"/>
<path class="tl" d="M427.2 1450.1l8.2 7.3 7.9 2.3 7.9 4.1 7.9 2.4 8 5.1 7.9 4.4 7.7 .2 7.6-1.1 7.7-.3 7.6-1.1 7.6-.9 7.6-.5 7.4-4.2 7.6-.3 7.6-.4 7.5-1.4 7.4-6.7 7.4-2.9 7.5-3.4 7.3-7.1 7.4-3.6 7.5-2.4 7.3-6.7 7.3-7.6 7.4-7.4 7.2-11.7 7.4-4.8 7.3-9.9 7.3-9.2 7.4-7.4 7.3-8.1 7.3-14.9 7.3-9.4 7.3-14.5 7.3-14.6 7.3-19 7.4-18.4 7.3-16.1 7.4-15.6 7.4-18.4 7.5-14.7 7.4-17.9 7.5-15.3 7.5-15.3 7.6-17.2 7.5-20 7.6-25.5 7.6-10.6 7.7-14.3 7.6-13.4 7.6-8.8 7.6-8.9 7.7-10.9 7.6-9.9 7.6-6.1 7.6-5.4 7.6-3.4 7.6-6.9 7.4 4.4 7.5-.6 7.6-4.1 7.4-.5 7.6-7.5 7.3 6.5 7.3 8.5 7.5-4.6 7.3 1.1 7.5-1.6 7.5-5.3 7.2 4.6 7.4-1.3 7.3 1.4 7.2 .5 7.3 1.4 7.3-.1 7.2 2.5 7.3-1.8 6.9 10.1"/>
<path class="bk" d="M417 1436l8 10 9 11-7-7-8-10-9-11z"/>
<path class="tl" d="M410.4 1429.3l8.4 10.4 8.4 10.4"/>
<path class="b1" d="M409 1428l8 8-7-7-8-6z"/>
<path class="tl" d="M402.1 1422.9l8.3 6.4"/>
<path class="bk" d="M336 1300l10 21 9 19 10 22 9 16 8 12 9 14 9 16 9 8-7-5-8-9-9-15-9-15-9-13-9-17-9-20-10-20-9-23z"/>
<path class="tl" d="M329.8 1291.3l9.6 22.3 9.4 20.1 9.3 19.9 9.2 17.8 8.8 12.7 8.8 14.8 8.8 15.2 8.4 8.8"/>
<path class="bk" d="M1087 1124l7 10 6 15-12-7-6-16-6-14z"/>
<path class="tl" d="M1075.5 1111.9l6.4 13.9 6.2 16.6"/>
<path class="b4" d="M1080 1119l7 5-11-12-7-7z"/>
<path class="tl" d="M1068.8 1105.1l6.7 6.8"/>
<path class="bk" d="M1054 1073l6 12 7 13 7 10 6 11-11-14-7-11-7-10-6-14-7-12z"/>
<path class="tl" d="M1042.3 1058.2l6.7 11.6 6.5 14.6 6.7 10 6.6 10.7"/>
<path class="bk" d="M1047 1063l7 10-12-15zM1040 1056l-5-4-6-11z"/>
<path class="b4" d="M1047 1063l-5-5-7-6zM1040 1056l7 7-12-11zM996 1056l7 2 8-4 7-2 7-2 8 3 7 3-11-15-7-11-7-4-8 4-7 0-7 2-8-3zM989 1053l7 3-11-27zM989 1053l-4-24-3-1-2 5zM981 1048l8 5-9-20-1 1zM981 1048l-2-14-2 6zM974 1054l7-6-4-8-4 3zM974 1054l-1-11-5-3zM967 1049l7 5-6-14-2 3zM967 1049l-1-6-1 2zM959 1056l8-7-2-4-7-2zM959 1056l-1-13-5-3zM951 1061l8-5-6-16-4-2zM951 1061l-2-23-7-3zM944 1053l7 8-9-26 0 3zM944 1053l-2-15-1 8zM937 1057l7-4-3-7-5 3zM937 1057l-1-8-3-1zM933 1054l4 3-4-9zM830 1090l2-3-2-5zM830 1090l0-8-6-17-4 5zM776 1179l8-13 8-16 8-21 7-3 8-9 8-17 7-10-10-20-7 10-8 15-8 11-7 8-8 23-8 16-7 15zM771 1188l5-9-9-11 1 14zM768 1182l-1-14-3 5z"/>
<path class="b5" d="M982 1028l-4 0 2 5zM980 1033l-2-5 1 6zM979 1034l-1-6-7-1 6 13zM977 1040l-6-13 2 16zM973 1043l-2-16-8 1 5 12zM968 1040l-5-12 3 15zM966 1043l-3-15-7-4 9 21zM965 1045l-9-21 2 19zM958 1043l-2-19-8 5 5 11zM953 1040l-5-11 1 9zM949 1038l-1-9-7 3 1 3zM942 1035l-1-3 1 6zM942 1038l-1-6-7-4 7 18zM941 1046l-7-18 2 21zM936 1049l-2-21-8 2 7 18zM929 1050l4 4 0-6-7-18zM929 1050l-3-20-7-9zM838 1077l8-5 8-6 7-4 8-4 7-2 8-2 8 3 7-6 8-2 7 1 8-7 7 7-10-29-7-3-8 8-8-2-7 4-8 2-7-2-8 1-7-1-8 8-8 9-7 8-8 6zM832 1087l6-10-10-18 2 23zM830 1082l-2-23-4 6z"/>
<path class="b3" d="M769 1192l2-4-3-6zM769 1192l-1-10-4-9-5 12zM731 1275l7-12 8-18 8-19 7-16 8-18-10-7-7 17-8 15-7 18-8 18-7 15zM725 1286l6-11-9-7 1 12zM723 1280l-1-12-2 3z"/>
<path class="b2" d="M723 1289l2-3-2-6zM723 1289l0-9-3-9-6 13zM686 1369l7-9 8-15 7-13 8-20 7-23-9-5-7 22-8 17-7 13-7 16-8 8zM680 1379l6-10-9-9 1 11zM678 1371l-1-11-1 3z"/>
<path class="b1" d="M679 1382l1-3-2-8zM679 1382l-1-11-2-8-6 11zM574 1477l7-4 8-4 7-6 8-5 8-2 7-11 7-9 8-7 7-11 8-5 7-9 8-8 7-5 8-9-9-8-7 10-8 7-7 10-8 11-7 4-7 12-8 8-7 7-8 8-7 2-8 4-7 6-7 4-8 4zM566 1484l8-7-8-6zM566 1484l0-13-1 0-3 9zM559 1485l7-1-4-4-3 0zM559 1485l0-5-5 1zM551 1486l8-1-5-4-3 0zM551 1486l0-5-5 0zM543 1485l8 1-5-5-3-1zM543 1485l0-5-6-2zM536 1489l7-4-6-7-1 1zM536 1489l0-10-5 5zM528 1491l8-2-5-5-3 1zM528 1491l0-6-4 1zM520 1490l8 1-4-5-3-1zM520 1490l1-5-7-1zM513 1489l7 1-6-6-1-1zM513 1489l0-6-4 0-4 0zM465 1478l8 4 8 4 8 5 8 0 8-1 8-1-8-6-7 0-8 2-8-1-8-5-8-4-8-3z"/>
<path class="b0" d="M565 1471l-6 6 3 3zM562 1480l-3-3 0 3zM559 1480l0-3-8 1 3 3zM554 1481l-3-3 0 3zM551 1481l0-3-8 0 3 3zM546 1481l-3-3 0 2zM543 1480l0-2-7-1 1 1zM537 1478l-1-1 0 2zM536 1479l0-2-8 4 3 3zM531 1484l-3-3 0 4zM528 1485l0-4-7 1 3 4zM524 1486l-3-4 0 3zM521 1485l0-3-8 1 1 1zM514 1484l-1-1zM513 1483l-4 0z"/>
<path class="cl" d="M982.1 1028.4l-2 4.4-1 1.4-1.8 5.6-4.7 2.9-4.7-3.1-2.3 3.5-.6 2.1-7.3-2.5-4.9-2.6-3.5-1.9-7.2-2.9-.3 2.4-.6 8-5.4 3.8-2.6-1.2 .1 5.3M832.3 1086.7l-2.6-5.2-5.7-17M770.9 1188.4l-3-6.3-3.6-8.9M724.7 1286.5l-2.2-6.9-2.4-8.3M680.1 1379.3l-2.2-8-2.2-8.1M565.4 1471.1l-2.9 8.9-3.8 .2-4.4 .7-3.2 .3-4.9-.4-2.8-.6-6.6-1.9-1 1.1-4.6 5-3 .6-4.7 .6-3-.8-6.3-.9-1.3-.5-4.2-.8"/>
<path class="tl" d="M458.2 1471.9l7.9 2.9 8 3.8 8 5.4 7.8 .9 7.6-1.7 7.7-.6 7.7 .1 7.7-.3 7.6-1.4 7.6-3.8 7.6 .8 7.7 0 7.6-1.4 7.4-6 7.5-3.5 7.5-3.8 7.4-6.6 7.5-3.8 7.5-1.5 7.3-8.2 7.4-7.5 7.4-8.1 7.3-11.8 7.5-4.3 7.3-10.8 7.4-9.5 7.4-7 7.4-9.8 7.3-14.1 7.4-8.3 7.4-15.5 7.4-13.4 7.4-16.9 7.4-22 7.4-16.2 7.5-14.9 7.5-18.6 7.5-17.7 7.5-14.4 7.6-17.4 7.6-17.4 7.6-14.2 7.6-16.1 7.7-23.7 7.6-7.5 7.7-11.6 7.7-14.2 7.6-10.5 7.7-11 7.7-6 7.7-7.7 7.6-9.1 7.7-8.1 7.6 .8 7.5-.7 7.5 2.4 7.6-2.1 7.5-3.9 7.5 1.9 7.7-8.6 7.4 3.4 7.2 9.1 7.5-1.9 7.3 3.8 7.5-2.9 7.5-5.1 7.2 4.4 7.5-2 7.3 1.4 7.3 .9 7.2 3 7.4-1.9 7.3 .1 7.4-3.8 7.1 4.1 6.8 11 6.8 10.4 7 6.5"/>
<path class="bk" d="M457 1470l8 8-7-6-8-6z"/>
<path class="tl" d="M450.1 1466l8.1 5.9"/>
<path class="b1" d="M449 1467l8 3-7-4-8-2z"/>
<path class="tl" d="M442.1 1463.6l8 2.4"/>
<path class="bk" d="M343 1308l9 21 9 14 10 22 9 19 9 13 9 11 9 15 8 10 9 8 8 10 9 10 8 6-7-3-8-7-9-11-8-10-8-8-9-8-9-16-9-14-8-12-9-16-10-22-9-19-10-21z"/>
<path class="tl" d="M336.1 1299.8l9.6 21.2 9.4 18.8 9.5 21.8 9.1 16.4 8.7 11.8 8.9 13.9 8.9 15.8 8.4 9 8.4 7.8 8.5 10.1 8.4 10.2 8.2 7"/>
<path class="bk" d="M1099 1134l7 8 6 11-12-4-6-15-7-10z"/>
<path class="tl" d="M1087.1 1123.5l6.5 10.6 6.4 14.7"/>
<path class="b4" d="M1092 1129l7 5-12-10-7-5z"/>
<path class="tl" d="M1080.2 1118.6l6.9 4.9"/>
<path class="bk" d="M1065 1080l7 13 7 15 6 11 7 10-12-10-6-11-7-10-7-13-6-12z"/>
<path class="tl" d="M1053.6 1072.6l6.7 12.2 6.5 13.3 6.8 9.7 6.6 10.8"/>
<path class="b4" d="M1058 1077l7 3-11-7zM947 1082l8-1 7 8 8-7 7-7 8 3 7-2 7 3 8 4 7 2 7-3 8-2 7-6 8 4 7 1 7-2-11-14-7-7-7-3-8-3-7 2-7 2-8 4-7-2-7-3-8-5-7 6-7-5-8 7-8 5-7-8-7 4zM940 1075l7 7-10-25zM940 1075l-3-18-4-3-1 2zM932 1070l8 5-8-19-2 0zM932 1070l-2-14-2 1zM925 1076l7-6-4-13-5 0zM925 1076l-2-19-5 1zM917 1077l8-1-7-18-3 1zM917 1077l-2-18-4 0zM910 1078l7-1-6-18-3 2zM910 1078l-2-17-4 2zM902 1082l8-4-6-15-4-1zM902 1082l-2-20-6 2zM894 1083l8-1-8-18-2 0zM894 1083l-2-19-5-2zM887 1083l7 0-7-21-2 1zM887 1083l-2-20-5 2zM879 1080l8 3-7-18-2 1zM879 1080l-1-14-3 4zM872 1084l7-4-4-10-5 2zM872 1084l-2-12-4 0zM864 1086l8-2-6-12-3 3zM864 1086l-1-11-5 1zM856 1088l8-2-6-10-3 2zM856 1088l-1-10-4 2zM848 1089l8-1-5-8-4 1zM848 1089l-1-8-4 2zM841 1100l7-11-5-6-4 2zM841 1100l-2-15-7 2-2 3zM786 1190l8-9 8-15 8-24 7-4 8-11 8-17 8-10-11-10-7 10-8 17-8 9-7 3-8 21-8 16-8 13zM781 1198l5-8-10-11 2 16zM778 1195l-2-16-5 9z"/>
<path class="bk" d="M1058 1077l-4-4-7-10z"/>
<path class="b5" d="M933 1054l-4-4 3 6zM932 1056l-3-6 1 6zM930 1056l-1-6-7-7 6 14zM928 1057l-6-14 1 14zM923 1057l-1-14-8 7 4 8zM918 1058l-4-8 1 9zM915 1059l-1-9-7-1 4 10zM911 1059l-4-10 1 12zM908 1061l-1-12-8 2 5 12zM904 1063l-5-12 1 11zM900 1062l-1-11-7 6 2 7zM894 1064l-2-7 0 7zM892 1064l0-7-8-3 3 8zM887 1062l-3-8 1 9zM885 1063l-1-9-8 2 4 9zM880 1065l-4-9 2 10zM878 1066l-2-10-7 2 6 12zM875 1070l-6-12 1 14zM870 1072l-1-14-8 4 5 10zM866 1072l-5-10 2 13zM863 1075l-2-13-7 4 4 10zM858 1076l-4-10 1 12zM855 1078l-1-12-8 6 5 8zM851 1080l-5-8 1 9zM847 1081l-1-9-8 5 5 6zM843 1083l-5-6 1 8zM839 1085l-1-8-6 10z"/>
<path class="b3" d="M779 1201l2-3-3-3zM779 1201l-1-6-7-7-2 4zM740 1283l8-14 7-18 8-19 8-15 8-16-10-9-8 18-7 16-8 19-8 18-7 12zM733 1296l7-13-9-8zM733 1296l-2-21-6 11 0 4zM730 1304l3-8-8-6z"/>
<path class="b2" d="M725 1286l-2 3 2 1zM725 1317l5-13-5-14-2-1zM725 1317l-2-28-7 23zM695 1377l7-12 8-16 7-13 8-19-9-5-8 20-7 13-8 15-7 9zM687 1390l8-13-9-8zM687 1390l-1-21-6 10 0 4zM680 1397l7-7-7-7-1 8zM680 1397l-1-6-1 5zM677 1399l3-2-2-1z"/>
<path class="b1" d="M680 1379l-1 3 1 1zM680 1383l-1-1 0 9zM679 1391l0-9-8 9 7 5zM672 1403l5-4 1-3-7-5zM672 1403l-1-12-7 5zM488 1490l8 5 8 0 8-1 8 1 8 3 8 0 7-2 8-4 8 0 8-1 7 0 8-8 7-3 8-5 8-5 7-5 8-3 7-9 8-10 7-7 8-11 7-6 8-9 7-7-8-7-8 8-7 9-8 5-7 11-8 7-7 9-7 11-8 2-8 5-7 6-8 4-7 4-8 7-7 1-8 1-8-1-7 4-8 2-8-1-7-1-8 1-8 1-8 0-8-5z"/>
<path class="cl" d="M933.3 1053.6l-1.4 2.1-1.6 .5-2.7 1.1-4.4-.2-5.4 1.2-2.5 1.1-4.7-.5-2.6 2-4.3 1.7-3.5-.2-5.8 1.4-2.1-.2-5.5-1.8-1.9 1.5-4.9 1.8-2.4 .6-3.1 4.5-4.2 1.5-4.3 .5-3.4 2.4-4.1 1.3-3.6 2-3.7 2.5-4 .3-3.7 2.4-4.5 1.8-6.7 1.8M780.6 1197.8l-2.7-3-7-6.4M724.7 1286.5l.4 4 4.4 13.8M680.1 1379.3l.1 4.1-.9 7.2-1 5.2-1.5 3.4"/>
<path class="tl" d="M481.2 1486.4l8 4.3 7.9 .7 7.7-1.6 7.8-.3 7.8 1 7.7 .1 7.7-1.2 7.6-4.1 7.7 .5 7.7-.7 7.6-1.5 7.5-6.5 7.5-3.7 7.6-4.4 7.5-6.4 7.5-4.7 7.5-2.4 7.4-10.4 7.4-8.6 7.5-7.3 7.4-10.8 7.5-5.5 7.5-9.1 7.4-7.4 7.5-5.8 7.5-8.7 7.4-13.1 7.5-9.2 7.4-14.7 7.5-12.5 7.4-20.3 7.5-23 7.5-14 7.6-12.4 7.5-18.1 7.6-19 7.6-16.1 7.7-17.2 7.6-13.7 7.7-12.2 7.7-16.3 7.7-21.5 7.7-2.6 7.7-9.5 7.8-16.7 7.7-9.7 7.8-13.5 7.6-4.8 7.7-5.7 7.7-4.3 7.6-3.8 7.7-2.4 7.6-1.5 7.5 2.9 7.6-5.7 7.6-2.6 7.5 1.2 7.7-7.2 7.3 6.8 7.3 7.4 7.6-4.2 7.2 8 7.6-4.9 7.6-6.9 7.3 4.6 7.5-5.5 7.2 5.1 7.3 3.1 7.3 2.1 7.4-4 7.4-1.9 7.5-2.5 7.1 2.9 7.2 3.4 7 6.8 6.8 9.6"/>
<path class="bk" d="M464 1473l8 7 8 5 8 5-7-4-8-4-8-4-8-8z"/>
<path class="tl" d="M456.9 1470.3l8.2 7.3 8.1 4.4 8 4.4"/>
<path class="b1" d="M456 1471l8 2-7-3-8-3z"/>
<path class="tl" d="M448.9 1467.4l8 2.9"/>
<path class="bk" d="M349 1318l10 20 9 13 9 19 9 16 9 14 9 9 9 14 9 11 8 10 9 11 8 8 9 8-7-4-8-6-9-10-8-10-9-8-8-10-9-15-9-11-9-13-9-19-10-22-9-14-9-21z"/>
<path class="tl" d="M342.5 1308.1l9.6 21 9.1 14 9.6 21.9 9.3 19 8.9 13.2 8.7 11.2 8.9 14.4 8.6 9.9 8.4 8 8.5 10.4 8.5 9.4 8.3 6.9"/>
<path class="bk" d="M1111 1146l6 8 7 10-12-11-6-11-7-8z"/>
<path class="tl" d="M1098.9 1133.8l6.7 8.4 6.5 11.3"/>
<path class="b4" d="M1104 1143l7 3-12-12-7-5z"/>
<path class="tl" d="M1091.9 1129.2l7 4.6"/>
<path class="bk" d="M1083 1113l7 10 7 12 7 8-12-14-7-10-6-11-7-15z"/>
<path class="tl" d="M1072.1 1092.9l6.5 14.6 6.6 11.9 6.7 9.8"/>
<path class="b4" d="M796 1204l8-6 8-15 8-24 7-4 8-8 8-16 8-7 8-7 7-2 8 0 8 0 7-2 8 2 8 1 7-2 8-5 8 1 7 0 8-6 7 4 8 9 7-3 7 5 8-5 8-5 7 7 7-1 8 2 7 1 8 1 7-2 7-1 8-7 7 1 8 2 7 0 7 1 7 0-11-20-7-13-7-3-7 2-7-1-8-4-7 6-8 2-7 3-7-2-8-4-7-3-7 2-8-3-7 7-8 7-7-8-8 1-7-7-8-5-7 6-8 1-7 1-8 4-8 1-7 0-8-3-7 4-8 2-8 2-8 1-7 11-8 10-8 17-8 11-7 4-8 24-8 15-8 9zM788 1215l8-11-10-14zM788 1215l-2-25-5 8 6 15zM788 1216l0-1-1-2z"/>
<path class="b3" d="M781 1198l-2 3 8 12zM781 1228l7-12-1-3-8-12zM781 1228l-2-27-8 16zM742 1300l8-12 7-12 8-17 8-18 8-13-10-11-8 15-8 19-7 18-8 14-7 13zM734 1323l8-23-9-4zM734 1323l-1-27-3 8 1 17zM732 1329l2-6-3-2z"/>
<path class="b2" d="M730 1304l-5 13 6 4zM727 1341l5-12-1-8-6-4zM727 1341l-2-24-8 19zM689 1403l7-10 8-14 8-12 7-15 8-11-10-5-7 13-8 16-7 12-8 13-7 7zM681 1409l8-6-9-6zM681 1409l-1-12-3 2-4 4zM674 1416l7-7-8-6 0 2zM674 1416l-1-11-5 7zM666 1425l8-9-6-4-2 9zM666 1425l0-4-1 3zM660 1429l6-4-1-1z"/>
<path class="b1" d="M677 1399l-5 4 1 0zM673 1403l-1 0 1 2zM673 1405l-1-2-7 7 3 2zM668 1412l-3-2 1 11zM666 1421l-1-11-8 9 8 5zM658 1429l2 0 5-5-8-5zM658 1429l-1-10-7 6zM543 1500l8-1 8-4 8 0 7-2 8-1 8-6 8-1 7-5 8-9 7-4 8-2 8-9 7-9 8-8 7-10-8-4-8 11-7 7-8 10-7 9-8 3-7 5-8 5-8 5-7 3-8 8-7 0-8 1-8 0-8 4-7 2z"/>
<path class="cl" d="M780.6 1197.8l6.2 15 1.1 3.1M729.5 1304.3l1.8 16.3 .2 8.8M676.8 1399.2l-3.4 4.1-.9 1.4-4.4 7.2-2.5 8.8-1 3.4-5 4.6"/>
<path class="tl" d="M535.7 1498.3l7.7-2.1 7.7-3.8 7.8 .1 7.7-1.8 7.7-.2 7.5-7.5 7.6-3.3 7.6-4.3 7.6-5.8 7.5-5.1 7.7-2.4 7.4-9.6 7.5-9.4 7.5-7.4 7.5-10.2 7.6-6 7.5-9.9 7.5-7.1 7.6-5.6 7.5-6.7 7.5-12.8 7.6-12.3 7.5-15.8 7.5-13 7.5-19.7 7.6-20.7 7.6-12.7 7.6-13.9 7.6-17.9 7.7-19.5 7.7-15 7.7-16 7.7-11.4 7.7-8.5 7.8-15.4 7.8-23.5 7.7-3.7 7.8-11.6 7.9-16.8 7.8-9.8 7.8-10.8 7.7-1.2 7.6-1.8 7.7-2.5 7.7-3.6 7.6 3.1 7.6-.6 7.6-1.1 7.6-4.1 7.6-1 7.6-1.1 7.7-5.5 7.4 5 7.3 7.2 7.5-.8 7.2 7.3 7.7-6.9 7.7-7 7.3 2.7 7.5-1.8 7.3 3.4 7.2 3.8 7.3 2 7.5-3.2 7.5-2.2 7.5-5.8 7.2 4.2 7.2 1.2 7.4-1.6 7.2 2.9 6.7 12.5"/>
<path class="bk" d="M527 1496l8 2 8 2-7-2-8 0-8-3z"/>
<path class="tl" d="M520 1495.5l7.9 2.3 7.8 .5"/>
<path class="b1" d="M504 1496l8 1 7 0 8-1-7-1-8-1-8 1-8 0z"/>
<path class="tl" d="M496.4 1495.3l7.9-.3 7.8-.9 7.9 1.4"/>
<path class="bk" d="M356 1327l9 16 9 12 10 17 9 16 9 13 9 12 9 12 8 10 9 9 8 9 9 6 8 11 9 3 8 7 8 6 8 6 9 4-8-1-8-5-8-5-8-5-8-7-8-2-9-8-8-8-9-11-8-10-9-11-9-14-9-9-9-14-9-16-9-19-9-13-10-20z"/>
<path class="tl" d="M349.1 1317.7l9.6 20.3 9.1 13 9.4 19.2 9.2 15.9 9 13.5 8.7 9.9 8.9 13.5 8.7 10.7 8.6 10.1 8.6 11.4 8.4 8.1 8.4 8 8.1 2.1 8.2 6.3 8.2 5.2 8.2 5.6 8 4.8"/>
<path class="bk" d="M1123 1159l7 6 6 11-12-12-7-10-6-8z"/>
<path class="tl" d="M1110.7 1145.6l6.7 8.7 6.7 10"/>
<path class="b4" d="M1115 1159l8 0-12-13-7-3z"/>
<path class="tl" d="M1103.6 1143.4l7.1 2.2"/>
<path class="bk" d="M1109 1149l6 10-11-16-7-8z"/>
<path class="tl" d="M1096.9 1134.8l6.7 8.6"/>
<path class="bk" d="M1102 1141l-5-6-7-12z"/>
<path class="b4" d="M798 1227l8-9 8-6 8-11 8-22 8-3 7-2 8-16 8 0 8-6 8 0 7 0 8 1 8-6 7 4 8 2 8-2 7-4 8 1 8 0 7-5 8 7 7 5 8-5 7 6 8-5 7-7 8 1 7-1 8 0 7 0 8-1 7 0 7-1 8-5 7-1 8-4 7-2 8 2 7 3 7 6-12-18-7-10-7 0-7-1-7 0-8-2-7-1-8 7-7 1-7 2-8-1-7-1-8-2-7 1-7-7-8 5-8 5-7-5-7 3-8-9-7-4-8 6-7 0-8-1-8 5-7 2-8-1-8-2-7 2-8 0-8 0-7 2-8 7-8 7-8 16-8 8-7 4-8 24-8 15-8 6-8 11zM792 1234l6-7-10-12 1 5zM789 1220l-1-5 0 1z"/>
<path class="b3" d="M791 1236l1-2-3-14zM791 1236l-2-16-1-4-7 12zM744 1320l8-20 7-11 8-11 8-13 8-18 8-11-10-8-8 13-8 18-8 17-7 12-8 12-8 23zM736 1337l8-17-10 3zM736 1337l-2-14-2 6 0 10zM728 1347l8-10-4 2z"/>
<path class="b2" d="M732 1329l-5 12 5-2zM728 1348l0-1 4-8-5 2zM728 1348l-1-7-8 11zM675 1423l7-12 8-7 8-9 7-9 8-13 8-12 7-13-9 4-7 15-8 12-8 14-7 10-8 6-7 7-8 9zM667 1428l8-5-9 2zM667 1428l-1-3-6 4-1 0zM659 1437l8-9-8 1-1 1zM659 1437l-1-7-3 8zM652 1446l7-9-4 1-4 6zM652 1446l-1-2-1 2zM648 1451l4-5-2 0z"/>
<path class="b1" d="M660 1429l-2 0 1 0zM659 1429l-1 0 0 1zM658 1430l0-1-7 10 4-1zM655 1438l-4 1 0 5zM651 1444l0-5-8 8 7-1zM644 1456l4-5 2-5-7 1zM644 1456l-1-9-7 9zM606 1480l7-3 8-6 8-5 7-3 8-7-8 0-8 9-8 2-7 4-8 9-7 5z"/>
<path class="cl" d="M792.3 1234.3l-3.4-14.3-1-4.1M731.5 1329.4l.1 9.5-3.1 8.6M659.6 1428.7l-1 .7-.2 .5-3.8 8.1-3.2 5.9-1.2 2.2-2.2 4.5"/>
<path class="tl" d="M597.5 1484.6l7.7-4.9 7.5-8.2 7.7-4.7 7.7-2.1 7.5-8.8 7.6-9.4 7.6-7.7 7.5-9.3 7.7-4.5 7.6-9.2 7.6-6.8 7.6-5.7 7.6-10.2 7.5-14.3 7.6-11.4 7.6-15 7.7-11.4 7.6-18.4 7.6-22.2 7.7-12.4 7.7-11.8 7.7-17.1 7.8-17.9 7.7-13.6 7.8-12.5 7.8-11.2 7.7-5.5 7.8-15.2 7.9-23.9 7.8-4 7.8-8.5 7.9-16.2 7.8-6.1 7.8-7.7 7.7-1.9 7.7 .1 7.7 .3 7.7-2.1 7.6 1.4 7.6 1.6 7.6-2.7 7.7-4.6 7.6 1.1 7.6 .2 7.7-5.9 7.4 3.6 7.3 9 7.6-2.7 7.3 5.2 7.6-5.1 7.7-4.8 7.2 6.2 7.4-.3 7.4 1.3 7.4 1.5 7.3 .5 7.5-2 7.4-.3 7.6-7 7.3 .9 7.3 2 7.3-.1 7.3 .8 7.2 .5 6.8 9.7 6.7 11.6"/>
<path class="bk" d="M598 1482l8-2-8 5-8 1z"/>
<path class="tl" d="M589.8 1486.1l7.7-1.5"/>
<path class="b1" d="M590 1489l8-7-8 4-8 6z"/>
<path class="tl" d="M582.2 1492.3l7.6-6.2"/>
<path class="bk" d="M566 1493l8-1 8-3 8 0-8 3-8 1-7 2-8 0z"/>
<path class="tl" d="M558.8 1494.6l7.8-.1 7.8-1.8 7.8-.4"/>
<path class="b1" d="M559 1496l7-3-7 2-8 4z"/>
<path class="tl" d="M551.1 1498.5l7.7-3.9"/>
<path class="bk" d="M381 1363l9 17 9 12 9 11 9 11 9 10 9 9 9 8 8 7 9 7 8 12 9 3 8 6 8 6 8 3 9 6 8 2 8-1 8 0 8 2 8 2 8 0-8 3-8 1-8-2-8-2-8 1-7 0-8-1-9-4-8-6-8-6-8-7-9-3-8-11-9-6-8-9-9-9-8-10-9-12-9-12-9-13-9-16-10-17z"/>
<path class="tl" d="M374.3 1355.4l9.3 16.9 9.2 15.9 9 12.5 8.9 12.1 8.9 12.2 8.7 10.1 8.6 9 8.6 8.5 8.4 6.8 8.6 10.8 8.2 3 8.3 6.4 8.2 6.2 8.3 5.9 8.1 3.9 8 1 7.9 .1 7.9-.5 7.9 1.7 8 2.4 7.8-1.8"/>
<path class="b3" d="M363 1339l9 16 9 8-7-8-9-12-9-16z"/>
<path class="tl" d="M355.7 1326.7l9.4 16.1 9.2 12.6"/>
<path class="bk" d="M1142 1178l6 11-12-13-6-11z"/>
<path class="tl" d="M1129.6 1164.6l6.6 11.3"/>
<path class="b3" d="M1140 1176l-10-11 2 3zM1132 1168l-2-3-1-1zM994 1188l2-2-3-1zM994 1188l-1-3zM986 1185l8 3-1-3-7-1zM986 1185l0-1zM978 1193l8-8 0-1-8 0zM978 1193l0-9-2-1zM971 1190l7 3-2-10-6 1zM971 1190l-1-6-1 0zM967 1187l4 3-2-6zM956 1188l1-1-1 0zM956 1188l0-1zM948 1189l8-1 0-1-8 1zM948 1188l0 1 0-1zM792 1234l-1 2 2 2zM793 1238l-2-2 2 15zM793 1251l-2-15-8 11 10 5zM785 1268l8-16-10-5zM785 1268l-2-21-8 18zM746 1333l8-17 7-20 8-9 8-8 8-11-10-3-8 13-8 11-7 11-8 20-8 17zM738 1344l8-11-10 4zM738 1344l-2-7-8 10 0 1zM730 1356l8-12-10 4zM730 1356l-2-8-3 11zM722 1367l8-11-5 3-3 7zM722 1367l0-1-1 2zM720 1371l2-4-1 1z"/>
<path class="b4" d="M1135 1173l7 5-2-2-8-8zM1135 1173l-3-5-3-4-6-5zM1001 1182l8-8 8 3 7-2 8-2 7-2 8-3 7 2 8-1 7-7 8-2 7-1 8-5 7-1 8 1 7 6 7 7 6 9 8-3-12-14-8 0-6-10-7-8-7-6-7-3-8-2-7 2-8 4-7 1-8 5-7 1-7 0-8 1-7 0-8 0-7 1-8-1-7 7zM996 1186l5-4-10-31 2 34zM993 1185l-2-34-8 5 10 29zM993 1185l-10-29 3 28zM986 1184l-3-28-7-6 10 34zM986 1184l-10-34 2 34zM978 1184l-2-34-8 5 8 28zM976 1183l-8-28 2 29zM970 1184l-2-29-7-5 8 34zM964 1184l3 3 2-3-8-34zM964 1184l-3-34-8-7zM957 1187l7-3-11-41 3 44zM956 1187l-3-44-7 5 10 39zM956 1187l-10-39 2 40zM948 1188l-2-40-8 0 10 40zM941 1184l7 4-10-40zM941 1184l-3-36-8-1zM809 1235l7-5 8-3 8-9 8-18 8-1 8-1 8-10 7 1 8-3 8 3 8-1 7 1 8-7 8 4 7 1 8-1 8-2-11-37-7 4-8 2-8-2-7-4-8 6-8-1-7 0-8 0-8 6-8 0-8 16-7 2-8 3-8 22-8 11-8 6-8 9zM801 1245l8-10-11-8zM801 1245l-3-18-6 7 1 4zM793 1252l8-7-8-7 0 13zM793 1252l0-1 0 1z"/>
<path class="b2" d="M728 1348l-7 13 4-2zM725 1359l-4 2 1 5zM722 1366l-1-5-8 12 8-5zM715 1381l5-10 1-3-8 5zM715 1381l-2-8-8 13zM660 1443l8-9 8-9 8-7 7-11 8-7 8-12 8-7-10 5-7 9-8 9-8 7-7 12-8 5-8 9-7 9zM653 1452l7-9-8 3zM653 1452l-1-6-4 5-2 4zM645 1460l8-8-7 3-2 2zM645 1460l-1-3-4 5z"/>
<path class="b1" d="M648 1451l-4 5 2-1zM646 1455l-2 1 0 1zM644 1457l0-1-8 7 4-1z"/>
<path class="cl" d="M1140.4 1176l-8.8-8.2-3.1-4.1M996 1185.8l-2.5-.4-.6-.2-6.8-1.6-.3 .1-7.9 0-2.3-1.1-5.2 1.2-1 .3-2.5 2.6M957.3 1187.4l-1.5-.3-.2 0-7.4 1.1-.3 .2M792.3 1234.3l.5 4-.1 12.7 0 .9 .1 .3M728.5 1347.5l-.1 0-3.3 11.4-3.1 6.8-1 2.3-1 3.3M648 1450.6l-2.4 4.3-1.3 1.7-3.9 5.2"/>
<path class="tl" d="M636.4 1463.3l7.7-7.8 7.6-9.5 7.7-8.9 7.6-9.3 7.7-5.2 7.7-11.2 7.7-6.9 7.6-9.8 7.7-9.2 7.7-12.9 7.7-11.1 7.6-14 7.8-10.5 7.7-17.5 7.7-19.8 7.8-11.1 7.7-10.1 7.8-13.7 7.9-18 7.8-10.4 7.8-9.9 7.8-8.3 7.8-5.8 7.9-11.1 8-22.6 7.8-2.5 7.7-2.2 8-15.6 7.7 0 7.8-6.2 7.8-.4 7.6 .6 7.7 .5 7.8-6.2 7.6 3.8 7.6 2.4 7.6-1.5 7.8-4.6 7.5 1.6 7.6-.9 7.7-4.5 7.4 7.3 7.4 5.1 7.6-5 7.3 5.8 7.7-4.9 7.7-6.9 7.5 .8 7.5-1.6 7.4 .4 7.5-.1 7.4-.5 7.4-.4 7.5-1.4 7.6-4.9 7.4-.9 7.5-3.4 7.5-2.4 7.2 2.2 7.2 3.1 7 5.6 6.8 8.5 6.8 9.6 7.2-.3 6.9 5.9"/>
<path class="bk" d="M637 1462l8-2-9 3-7 3z"/>
<path class="tl" d="M628.7 1465.6l7.7-2.3"/>
<path class="b1" d="M633 1464l-4 2 0 1zM629 1467l0-1-8 5 6-2zM627 1469l-6 2 0 2zM621 1473l0-2-8 6 8-3z"/>
<path class="b2" d="M629 1468l8-6-4 2-4 3zM629 1468l0-1-2 2zM622 1474l7-6-2 1-6 4zM622 1474l-1-1 0 1z"/>
<path class="cl" d="M632.6 1463.8l-3.5 3.5-2.1 1.6-5.5 4.3-.7 .6"/>
<path class="tl" d="M613.3 1476.9l7.7-6.2 7.7-5.1"/>
<path class="bk" d="M606 1478l8-2 8-2-9 3-7 3-8 2z"/>
<path class="tl" d="M597.7 1481.7l7.8-1.4 7.8-3.4"/>
<path class="b1" d="M598 1485l8-7-8 4-8 7z"/>
<path class="tl" d="M590 1488.8l7.7-7.1"/>
<path class="bk" d="M590 1486l8-1-8 4-8 0z"/>
<path class="tl" d="M582.2 1488.9l7.8-.1"/>
<path class="b1" d="M582 1490l8-4-8 3-8 3z"/>
<path class="tl" d="M574.3 1491.7l7.9-2.8"/>
<path class="bk" d="M388 1370l9 15 9 9 9 9 9 11 9 10 9 7 8 7 9 9 8 4 9 12 9 4 8 4 8 7 9 1 8 6 8 4 8-1 8-1 8 2 8 2 8 0 8-2 8 1-8 2-8 1-7 3-8 0-8-2-8-2-8 0-8 1-8-2-9-6-8-3-8-6-8-6-9-3-8-12-9-7-8-7-9-8-9-9-9-10-9-11-9-11-9-12-9-17z"/>
<path class="tl" d="M381 1362.7l9.4 16.9 9.1 11.9 8.9 11.1 9 11.6 8.8 10.3 8.7 8.9 8.6 7.4 8.6 7.7 8.5 6.3 8.7 11.8 8.2 3.6 8.4 5.4 8.3 6.6 8.2 3.1 8.3 6 8.1 1.9 7.9-1 8 .1 8 1.7 8.1 2.3 7.9-.5 7.8-2.6 7.8-1.5"/>
<path class="b3" d="M379 1364l9 6-7-7-9-8z"/>
<path class="tl" d="M372.1 1355.2l8.9 7.5"/>
<path class="bk" d="M370 1351l9 13-7-9-9-16z"/>
<path class="tl" d="M362.7 1339.3l9.4 15.9"/>
<path class="bk" d="M1154 1191l7 6-13-8-6-11z"/>
<path class="tl" d="M1141.8 1177.5l6.6 11.3"/>
<path class="b3" d="M1147 1191l7 0-12-13zM1147 1191l-5-13-6-3zM1139 1193l8-2-11-16-1 0zM1139 1193l-4-18-7 2zM1133 1184l6 9-11-16zM1133 1184l-5-7 2 4zM1129 1182l4 2-3-3zM1050 1200l4-3-4-2zM1050 1200l0-5-2-1zM1043 1206l7-6-2-6-7-1zM1043 1206l-2-13-4-3zM1035 1207l8-1-6-16-3 4zM1035 1207l-1-13-3 1zM1028 1207l7 0-4-12-4 5zM1028 1207l-1-7-2 1zM1020 1206l8 1-3-6-5 2zM1020 1206l0-3-1 1zM1012 1215l8-9-1-2-8-8zM1012 1215l-1-19-7-6zM1004 1222l8-7-8-25-2-1zM1004 1222l-2-33-6-3-2 2zM982 1228l7 1 8-6 7-1-10-34-8-3-8 8-7-3zM974 1223l8 5-11-38zM974 1223l-3-33-4-3-1 5zM966 1228l8-5-8-31-2 2zM966 1228l-2-34-7-7-1 1zM959 1230l7-2-10-40-8 1zM951 1225l8 5-11-41zM951 1225l-3-36 0-1-2 18zM944 1225l7 0-5-19-3 7zM944 1225l-1-12-2 3zM936 1226l8-1-3-9-5 6zM936 1226l0-4-1 1zM933 1225l3 1-1-3zM913 1227l5-3-6-6zM913 1227l-1-9-2-1zM907 1224l6 3-3-10zM897 1225l3-1-3-1zM897 1225l0-2zM896 1224l1 1 0-2zM819 1245l2-1-2 0zM819 1245l0-1-1 0zM811 1252l8-7-1-1-8 3zM811 1252l-1-5-3 2zM803 1260l8-8-4-3-5 2zM803 1260l-1-9-9 1zM795 1276l8-16-10-8zM795 1276l-2-24-8 16zM732 1359l8-10 8-11 8-12 7-14 8-18 8-6 8-5 8-7-10-8-8 11-8 8-8 9-7 20-8 17-8 11-8 12-8 11zM725 1371l7-12-10 8 2 4zM724 1371l-2-4-2 4z"/>
<path class="b4" d="M1142 1178l-7-5 1 2zM1136 1175l-1-2 0 2zM1135 1175l0-2-8 3 1 1zM1128 1177l-1-1-6-9 9 14zM1126 1180l3 2 1-1-9-14zM1126 1180l-5-13-7-7zM1058 1193l8-3 7 2 8-6 7-4 8-2 8-5 7-3 7 3 8 5-12-20-7-6-8-1-7 1-8 5-7 1-8 2-7 7-8 1-7-2zM1054 1197l4-4-11-25 3 27zM1050 1195l-3-27-8 3 9 23zM1048 1194l-9-23 2 22zM1041 1193l-2-22-7 2 5 17zM1037 1190l-5-17 2 21zM1034 1194l-2-21-8 2 7 20zM1031 1195l-7-20 3 25zM1027 1200l-3-25-7 2 8 24zM1025 1201l-8-24 3 26zM1020 1203l-3-26-8-3 10 30zM1019 1204l-10-30 2 22zM1011 1196l-2-22-8 8 3 8zM1004 1190l-3-8 1 7zM1002 1189l-1-7-5 4zM967 1187l-3-3 2 8zM966 1192l-2-8 0 10zM964 1194l0-10-7 3zM948 1188l-7-4 5 22zM946 1206l-5-22 2 29zM943 1213l-2-29-8 2 8 30zM941 1216l-8-30 3 36zM936 1222l-3-36-8 1 10 36zM928 1224l5 1 2-2-10-36zM928 1224l-3-37-7-1zM921 1222l7 2-10-38-8-4zM918 1224l3-2-11-40 2 36zM912 1218l-2-36-8 7 8 28zM905 1223l2 1 3-7-8-28zM905 1223l-3-34-7-1zM900 1224l5-1-10-35 2 35zM897 1223l-2-35-8 1 10 34zM890 1220l6 4 1-1-10-34zM890 1220l-3-31-8-3zM827 1239l8 0 8-7 8-11 7 4 8 2 8-8 8 1 8 0-11-34-8 3-7-1-8 10-8 1-8 1-8 18-8 9-8 3zM821 1244l6-5-11-9 3 14zM819 1244l-3-14-7 5 9 9zM818 1244l-9-9 1 12zM810 1247l-1-12-8 10 6 4zM807 1249l-6-4 1 6zM802 1251l-1-6-8 7z"/>
<path class="b2" d="M724 1373l1-2-1 0zM724 1373l0-2-4 0-5 10z"/>
<path class="cl" d="M1142 1177.7l-.1 0-5.5-2.4-1 0-7.4 1.5 .5 .7 1.9 3.2-1.1 1.2M1054.4 1196.6l-4.6-1.1-1.9-1.6-6.6-1.3-4.2-3.1-3.4 4.2-2.7 1.5-4.2 4.7-1.4 1.2-5.6 2.3-.5 .4-8.5-8.2-6.6-5.4-2.2-1.3-6-3.1M966.9 1186.7l-1.3 4.9-1.4 2.4-6.9-6.6M947.9 1188.4l-1.6 17.5-3.5 7.2-1.7 2.9-5.4 6.3-.6 .4-2.1 2.1M918.2 1223.8l-6-6.1-2.2-.7-2.8 7.2M900.3 1224.1l-3.1-1.2-.4 0-.6 1.1M820.9 1243.6l-2 .8-.5 0-8.1 2.7-3.7 1.9-4.9 2.1-8.7 1-.1 0-.1 .1M725.2 1370.7l-1.6 .4-3.6 .2"/>
<path class="tl" d="M714.6 1380.7l7.8-13.5 7.8-11.3 7.7-11.9 7.8-11.2 7.9-16.8 7.8-19.8 7.8-8.9 7.9-8.4 7.9-10.7 7.9-16.2 7.8-6.9 7.9-9.7 7.9-5.4 7.8-3.3 7.9-8.7 8-17.9 7.8-.8 7.8-.9 7.9-10.6 7.8 1 7.8-2.7 7.7 2.9 7.7-1.1 7.7 .8 7.8-6.8 7.6 4.5 7.6 .3 7.7-.8 7.7-1.9 7.5 4.7 7.6-.6 7.7-4 7.4 5.9 7.4 2.7 7.8-7.6 7.5 2.5 7.7-6.1 7.8-7.9 7.4 3.2 7.5-1.4 7.6-2.1 7.5-2.4 7.6-2.6 7.4 1.2 7.4-.5 7.7-6.7 7.6-2.7 7.4-.8 7.6-4.6 7.5-1.6 7.2 1.8 7.1 5.1 6.9 7.7 6.8 8.7 7.4-2.9 7 4.5"/>
<path class="bk" d="M716 1378l8-5-9 8-8 7z"/>
<path class="tl" d="M706.9 1388.4l7.7-7.7"/>
<path class="b2" d="M654 1454l7-7 8-8 8-7 8-12 8-8 8-11 7-8 8-15-9 10-8 12-8 7-7 11-8 7-8 9-8 9-7 9-8 8z"/>
<path class="tl" d="M644.9 1460l7.8-8.2 7.7-8.7 7.7-8.8 7.8-9.5 7.7-6.5 7.7-11.5 7.8-7.2 7.8-11.2"/>
<path class="bk" d="M646 1456l8-2-9 6-8 2z"/>
<path class="tl" d="M637.1 1461.7l7.8-1.7"/>
<path class="b2" d="M630 1469l8-5 8-8-9 6-8 6-7 6zM622 1475l8-6-8 5zM622 1475l0-1-4 1-3 1z"/>
<path class="b1" d="M618 1475l-4 1 1 0z"/>
<path class="cl" d="M618.1 1474.8l-3.5 1.5"/>
<path class="tl" d="M613.7 1476.5l7.8-3 7.8-5.3 7.8-6.5"/>
<path class="bk" d="M614 1475l8 0-8 1-8 2z"/>
<path class="tl" d="M605.8 1477.7l7.9-1.2"/>
<path class="b2" d="M606 1482l8-7-8 3zM606 1482l0-4-6 6z"/>
<path class="b1" d="M606 1478l-8 7 2-1z"/>
<path class="cl" d="M605.9 1477.7l-.1 .1-5.7 6.7"/>
<path class="tl" d="M598.1 1485.4l7.7-7.7"/>
<path class="bk" d="M598 1481l8 1-8 3-8 1z"/>
<path class="tl" d="M590.1 1486.2l8-.8"/>
<path class="b1" d="M591 1486l-1 0zM590 1486l-8 4 3-1z"/>
<path class="b2" d="M590 1487l8-6-7 5-1 0zM590 1487l0-1-5 3z"/>
<path class="cl" d="M591.2 1485.6l-1 .7-5.6 3"/>
<path class="tl" d="M582.3 1490.3l7.8-4.1"/>
<path class="bk" d="M395 1375l9 15 9 6 9 7 9 10 9 9 8 5 9 10 9 9 9 4 8 10 9 2 8 2 9 7 8 3 8 6 9 3 8 0 8 1 8 1 8 1 8 0 8 0 8 1-8 3-8-1-8 2-8 0-8-2-8-2-8 1-8 1-8-4-8-6-9-1-8-7-8-4-9-4-9-12-8-4-9-9-8-7-9-7-9-10-9-11-9-9-9-9-9-15z"/>
<path class="tl" d="M387.9 1369.9l9.3 15.3 9 8.4 8.9 9.5 9 10.7 8.8 10.2 8.7 6.8 8.7 7.7 8.7 8 8.4 4.7 8.8 11.6 8.4 4 8.3 3.8 8.4 7.2 8.2 1.4 8.4 6.1 8.2 3.8 8-1.2 8.1-.6 8.1 1.9 8.1 2.2 8-.3 7.9-1.7 8 .9"/>
<path class="b3" d="M377 1364l9 7 9 4-7-5-9-6-9-13z"/>
<path class="tl" d="M369.7 1351.1l9.3 13.1 8.9 5.7"/>
<path class="b3" d="M1144 1212l7 7 8-3 7-1 7 5-12-23-7-6-7 0-8 2-6-9zM1137 1208l7 4-11-28zM1137 1208l-4-24-4-2-2 2zM1130 1208l7 0-10-24-1 0zM1130 1208l-4-24-6-3zM1122 1205l8 3-10-27-1 0zM1122 1205l-3-24-4 3zM1115 1207l7-2-7-21-2 1zM1115 1207l-2-22-5 2zM1107 1209l8-2-7-20-3 2zM1107 1209l-2-20-5 1zM1100 1211l7-2-7-19-3 0zM1100 1211l-3-21-5 2zM1092 1217l8-6-8-19-3-1zM1092 1217l-3-26-7-1zM1084 1221l8-4-10-27-1 0zM1084 1221l-3-31-8 3zM1077 1220l7 1-11-28zM1077 1220l-4-27-6 2zM1069 1221l8-1-10-25-1 1zM1069 1221l-3-25-6 2zM1062 1229l7-8-9-23-1-1zM1062 1229l-3-32-5 0-4 3zM947 1249l8 0 7 1 8 4 7-2 8 1 8 3 7-4 8-3 7 1 8-7 8-10 8-1 7 1 8 1 8-5-12-29-7 6-8 1-7 0-8-1-8 9-8 7-7 1-8 6-7-1-8-5-8 5-7 2-8-5-7 0-8 1zM939 1249l8 0-11-23zM939 1249l-3-23-3-1-4 0zM931 1250l8-1-10-24-1 0zM931 1250l-3-25-7-1zM923 1257l8-7-10-26zM923 1257l-2-33-3 0-5 3zM916 1253l7 4-10-30zM916 1253l-3-26-6-3-1 1zM908 1257l8-4-10-28-1 0zM908 1257l-3-32-5-1-3 1zM900 1253l8 4-11-32zM900 1253l-3-28-1-1-4 4zM892 1253l8 0-8-25-2-1zM892 1253l-2-26-5 2zM885 1250l7 3-7-24-2 0zM885 1250l-2-21-5 3zM877 1258l8-8-7-18-3 2zM877 1258l-2-24-7-1zM869 1260l8-2-9-25-1 1zM869 1260l-2-26-7-2zM861 1254l8 6-9-28-1 0zM861 1254l-2-22-3 5zM853 1261l8-7-5-17-4 1zM853 1261l-1-23-6 3zM845 1267l8-6-7-20-3 0zM845 1267l-2-26-7 0zM837 1268l8-1-9-26-1 0zM837 1268l-2-27-7 1zM829 1273l8-5-9-26-1 0zM829 1273l-2-31-6 2-2 1zM742 1371l8-10 8-9 8-11 7-10 8-17 8-5 8-4 8-5 8-16 8-5 8-6-10-28-8 7-8 8-8 16-8 7-8 5-8 6-8 18-7 14-8 12-8 11-8 10zM734 1382l8-11-10-12zM734 1382l-2-23-7 12 0 3zM726 1387l8-5-9-8-1 0zM726 1387l-2-13-5 7zM718 1398l8-11-7-6-2 9zM718 1398l-1-8-1 7zM713 1402l5-4-2-1z"/>
<path class="b4" d="M1129 1182l-3-2 1 4zM1127 1184l-1-4 0 4zM1126 1184l0-4-8-5 2 6zM1120 1181l-2-6 1 6zM1119 1181l-1-6-7-3 4 12zM1115 1184l-4-12 2 13zM1113 1185l-2-13-7 3 4 12zM1108 1187l-4-12 1 14zM1105 1189l-1-14-8 5 4 10zM1100 1190l-4-10 1 10zM1097 1190l-1-10-8 2 4 10zM1092 1192l-4-10 1 9zM1089 1191l-1-9-7 4 1 4zM1082 1190l-1-4 0 4zM1081 1190l0-4-8 6 0 1zM1073 1193l0-1-7-2 1 5zM1067 1195l-1-5 0 6zM1066 1196l0-6-8 3 2 5zM1060 1198l-2-5 1 4zM1059 1197l-1-4-4 4zM933 1225l-5-1 1 1zM929 1225l-1-1 0 1zM928 1225l0-1-7-2 0 2zM921 1224l0-2 0 2zM921 1224l0-2-3 2zM907 1224l-2-1 1 2zM906 1225l-1-2 0 2zM905 1225l0-2-5 1zM896 1224l-6-4 2 8zM892 1228l-2-8 0 7zM890 1227l0-7-8 0 3 9zM885 1229l-3-9 1 9zM883 1229l-1-9-8-1 4 13zM878 1232l-4-13 1 15zM875 1234l-1-15-8 8 2 6zM868 1233l-2-6 1 7zM867 1234l-1-7-8-2 2 7zM860 1232l-2-7 1 7zM859 1232l-1-7-7-4 5 16zM856 1237l-5-16 1 17zM852 1238l-1-17-8 11 3 9zM846 1241l-3-9 0 9zM843 1241l0-9-8 7 1 2zM836 1241l-1-2 0 2zM835 1241l0-2-8 0 1 3zM828 1242l-1-3 0 3zM827 1242l0-3-6 5z"/>
<path class="b2" d="M725 1371l-1 2 1 1zM725 1374l-1-1 0 1zM724 1374l0-1-8 5 3 3zM719 1381l-3-3 1 12zM717 1390l-1-12-8 15 8 4zM710 1406l3-4 3-5-8-4zM710 1406l-2-13-7 8zM662 1451l8-7 8-8 8-5 8-11 8-7 8-7-9-5-8 11-8 8-8 12-8 7-8 8-7 7z"/>
<path class="cl" d="M1129.3 1181.9l-2.1 2.1-1.1-.4-5.6-2.9-1.2 .2-4.1 2.9-2.6 .8-4.8 2.3-2.7 1.7-5.2 1.5-2.6 .1-4.9 1.5-3-.8-7.2-1.4-.9 .3-8 2.8-.1 .1-5.9 2-1 .9-6.4 1.9-1.3-.1-4.2-.8M933 1224.8l-4.3-.1-.3 0-7-.6-.6 .3-2.6-.6M907.2 1224.2l-1.3 .9-.6 .2-5-1.2M896.2 1224l-3.9 3.9-2-.8-5.5 2-2 .2-4.3 2.6-3.4 2-6.6-.7-1.7 .5-6.4-1.7-1.3 .4-3.3 4.4-4 1.3-5.9 2.9-2.6 0-7.6 .5-.7 0-7 .4-.8 .6-6.3 1.1M725.2 1370.7l0 3-.9 .6-5 7-2.1 8.6-1.2 6.8-2.6 5.8"/>
<path class="tl" d="M653.6 1454.2l7.8-7.3 7.8-7.9 7.9-7 7.8-11.8 7.8-8.2 7.8-10.6 7.9-8.4 7.8-14.5 7.8-5.9 7.9-13.2 7.9-10.3 7.8-10.7 7.9-12.5 7.9-14.2 8-17.4 7.9-5.8 7.9-5.1 7.9-7.8 8-15.8 8-7.8 7.9-7 7.9-6.1 7.9 0 7.9-6.4 8-11.8 7.8 4.7 7.8 1.2 7.9-7.3 7.7 1 7.8-.5 7.7 5 7.8-1.8 7.6 4.5 7.8-5.4 7.7 1.5 7.6 1.9 7.7-.4 7.6 .4 7.5 4 7.6-1.2 7.8-4.9 7.4 4.8 7.6 1 7.7-6.6 7.6-.9 7.8-6.4 7.9-9.2 7.5 1.2 7.5-.2 7.5-1 7.7-5.6 7.8-7.5 7.6-2.5 7.4 1.7 7.7-6.5 7.7-3.9 7.5-1.9 7.6-4.5 7.6-3.3 7.2 2.6 7.1 5.1 7.2 4 6.8 9.1 7.4-2.3 7.3-.1 6.9 6.4"/>
<path class="bk" d="M654 1454l8-3-8 3-8 2z"/>
<path class="tl" d="M645.7 1456.2l7.9-2"/>
<path class="b2" d="M631 1471l8-7 8-5 7-5-8 2-8 8-8 5-8 6z"/>
<path class="tl" d="M622.1 1475.3l7.9-5.9 7.8-5.8 7.9-7.4"/>
<path class="bk" d="M623 1470l8 1-9 4-8 0z"/>
<path class="tl" d="M614.1 1474.9l8 .4"/>
<path class="b2" d="M615 1477l8-7-9 5-8 7z"/>
<path class="tl" d="M606.3 1481.8l7.8-6.9"/>
<path class="bk" d="M499 1463l9 0 8 9 8 2 9 1 8 3 8 0 9 0 8 2 8 0 8 0 8-2 8 1 8-5 9 3-9 5-8-1-8 6-8-1-8 0-8 0-8-1-8-1-8-1-8 0-9-3-8-6-8-3-9-7-8-2z"/>
<path class="tl" d="M491.6 1461.7l8.4 2.2 8.5 7.4 8.4 3.1 8.3 5.1 8.3 3.7 8.2-.1 8.1 .9 8.2 .8 8.1 .9 8.1 .4 8.1-.2 8 .9 7.9-5.6 8.1 .6"/>
<path class="b2" d="M491 1462l8 1-7-1-9-2z"/>
<path class="tl" d="M483.3 1460l8.3 1.7"/>
<path class="bk" d="M482 1454l9 8-8-2-8-10z"/>
<path class="tl" d="M474.5 1449.8l8.8 10.2"/>
<path class="b2" d="M473 1450l9 4-7-4-9-4z"/>
<path class="tl" d="M466 1445.7l8.5 4.1"/>
<path class="bk" d="M456 1435l9 7 8 8-7-4-9-9-9-10z"/>
<path class="tl" d="M448.4 1426.5l8.8 10.1 8.8 9.1"/>
<path class="b3" d="M385 1387l9 6 9 3 9 11 9 5 8 5 10 10 8 4 9 4-8-8-8-5-9-9-9-10-9-7-9-6-9-15-9-4-9-7z"/>
<path class="tl" d="M376.9 1363.5l9 7.4 8.8 3.8 9.4 14.9 8.9 6.3 8.9 7.2 8.9 10.1 8.9 8.4 8.7 4.9"/>
<path class="b3" d="M728 1397l8-9 8-2 8-8 8-7 8-6 8-9 8-6 8-12 8-3 8-3 8-3 8-11 8-5 8-4 8-2 8-2 8-7 8-4 7 3 8-1 8-4 8 1 8-4 8 3 7-3 8 5 8-4 8-3 7 1 8-3 8 0 8 2 7-3 8 1 7 4 8-5 8-6 8 0 7-1 8-10 8-2 8 1 7 1 8-6 8-7 7 2 7 3 8-3 8-8 8-3 7 0 8-1 7 1 7-3 8 4 7 5 7-3 8-4 7 3-12-27-7-5-7 1-8 3-7-7-7-4-7 0-8-3-7 2-8 2-7 2-8 6-8 4-7-1-8 1-7 8-8 5-8-1-7-1-8 1-8 10-8 7-7-1-8 3-7 4-8-3-8-1-7 2-8-4-7-1-8 0-8 0-8 1-8 7-7-4-8 4-8-4-8 0-7-3-8 8-8 2-8-6-8 7-8 6-8 1-8 5-8 6-8 5-8 16-8 5-8 4-8 5-8 17-7 10-8 11-8 9-8 10-8 11-8 5-8 11zM720 1404l8-7-10 1zM720 1404l-2-6-5 4-2 4zM712 1410l8-6-9 2-1 0zM712 1410l-2-4-6 6zM703 1414l9-4-8 2-2 1zM703 1414l-1-1-6 6zM695 1423l8-9-7 5-2 2zM695 1423l-1-2-5 7z"/>
<path class="b2" d="M713 1402l-3 4 1 0zM711 1406l-1 0zM710 1406l-8 7 2-1zM704 1412l-2 1zM702 1413l-8 7 2-1zM696 1419l-2 1 0 1zM694 1421l0-1-8 11 3-3z"/>
<path class="cl" d="M713.4 1402.5l-2.7 3.6-.6 .4-6.4 5.8-1.5 .7-6.2 5.8-1.6 1.9-5 7.3"/>
<path class="tl" d="M686.2 1430.8l7.9-10.7 7.9-7.3 8-6.6 7.9-8.6 7.9-10.5 7.9-5.2 8-11.1 7.9-9.6 7.9-9.2 8-11.2 8-9.3 8-17 7.9-5.7 8-4.3 8-5 8-15.1 8-5.8 7.9-5.8 8-4.8 7.9-1.2 8-6.2 7.9-6.7 7.8 6.1 7.9-2.1 7.9-7.7 7.8 2.5 7.8 .1 7.7 4.5 7.8-3.9 7.7 3.9 7.9-7.4 7.7-.7 7.7 .1 7.7 0 7.7 1 7.5 3.9 7.7-2 7.6 .7 7.5 2.9 7.8-3.4 7.6-2.9 7.6 .6 7.8-6.7 8-10.7 7.6-.2 7.5 .6 7.5 1 7.7-5.2 7.9-7.5 7.5-1.6 7.4 1.1 7.7-4.1 7.8-6.2 7.5-1.2 7.6-2.9 7.5-1.3 7.2 3.1 7.4-.3 7.1 3.9 7 7.2 7.5-3 7.4-1.5 7 5.1"/>
<path class="bk" d="M472 1443l9 9 8 1 9 6 8-3 9-1 8 5 9 1 8 0 9 2 8-1 8-2 8 0 9-1 8-2 8-3 8 4 9-4 8 2 8-7 8-1 8-6 8-3 8-1 8 0 8-6 8-7 8-2-9 8-8 5-8 8-8 7-8 3-7 5-8 5-8 7-8-1-8 7-9-3-8 5-8-1-8 2-8 0-8 0-8-2-9 0-8 0-8-3-9-1-8-2-8-9-9 0-8-1-9-8-9-4-8-8z"/>
<path class="tl" d="M464.7 1441.8l8.8 8.1 8.5 4.2 8.8 8.2 8.3 .8 8.4 .4 8.6 8.2 8.4 2 8.3 1.1 8.4 3.1 8.2 .6 8.2-.4 8.3 1.6 8.1 0 8.2 .4 8.1-2.2 8.1 .7 8-4.5 8.2 2.8 7.9-6.5 8.1 .2 8-6.4 7.9-5.5 8-5 7.9-2.6 8-7.4 7.9-7.4 7.9-5.5"/>
<path class="b3" d="M393 1412l9 8 9 1 9 8 9 0 8 2 9 5 9 5 8 1 9 1-7-1-9-7-9-4-8-4-10-10-8-5-9-5-9-11-9-3-9-6z"/>
<path class="tl" d="M384.8 1386.6l9 6.5 8.8 2.6 9.2 11.2 8.9 5.3 8.8 5.1 9 9.7 8.7 4.1 8.7 3.7 8.8 7"/>
<path class="b3" d="M754 1380l8 0 8-1 8-2 8-5 8 1 8-5 8-1 8 1 8-1 8-6 8-1 8-2 8-1 8-2 8-2 8-3 7 4 8-2 8-2 8-2 8-6 8 2 8-2 7 3 8-4 8-5 8 1 8-4 8-5 7 1 8-2 8 1 7-1 8-5 8-2 7 1 8-1 8-8 8-1 7 2 8 2 7-4 8-6 8 2 7 4 7-1 8-8 8-1 7-1 8-3 7-1 8-5 7 5 8-2 7-2 8-6 7-1-11-38-7-3-8 4-7 3-7-5-8-4-7 3-7-1-8 1-7 0-8 3-8 8-8 3-7-3-7-2-8 7-8 6-7-1-8-1-8 2-8 10-7 1-8 0-8 6-8 5-7-4-8-1-7 3-8-2-8 0-8 3-7-1-8 3-8 4-8-5-7 3-8-3-8 4-8-1-8 4-8 1-7-3-8 4-8 7-8 2-8 2-8 4-8 5-8 11-8 3-8 3-8 3-8 12-8 6-8 9-8 6-8 7-8 8z"/>
<path class="tl" d="M743.6 1385.9l8-7.6 8-7.4 8-5.5 8-9.7 8-5.4 8.1-12.7 8-2.8 8-2.7 8-2.6 8-11.2 8-5.2 8-4.6 7.9-1.1 8-2.6 8-6.6 7.9-4.4 7.8 3.3 7.9-1.3 7.9-3.6 7.9 .7 7.9-3.8 7.7 2.6 7.8-2.6 7.7 4.7 7.8-3.5 7.9-2.9 7.7 .4 7.8-2.5 7.7-.8 7.6 2.3 7.8-2.9 7.6 1 7.5 3.8 7.8-4.5 7.8-5.7 7.6-.3 7.7-1.6 8-9.9 7.6-1.8 7.5 1.2 7.5 1.3 7.8-6.4 7.9-6.8 7.4 1.5 7.3 3.5 7.7-3.1 7.9-8.5 7.6-2.2 7.4-.3 7.5-1 7.4 1 7.6-3.5 7.1 4.8 7.1 4.2 7.5-2.6 7.6-3.6 7.2 2.3M753.6 1380.5l8.1-.6 8.1-.9 8-2.5 8.1-4.1 8 .3 8.1-4.9 8-.6 8 .5 8-1.2 8-5.3 8-.8 7.9-2.4 8-1.2 7.9-2 8-2.2 7.9-2.1 7.8 3.4 7.9-1.5 7.9-2 7.8-1.9 8-6.6 7.8 1.9 7.8-2 7.7 3.1 7.8-3.6 7.9-5 7.8 .2 7.8-3.4 7.9-5.3 7.6 .9 7.8-1.4 7.6 .8 7.7-.7 7.8-5.2 7.7-2.1 7.6 .7 7.7-1 7.9-8.3 7.6-.4 7.5 1.8 7.4 2.2 7.8-4.2 7.8-5.9 7.4 1.7 7.3 4.1 7.5-1.3 7.9-7.1 7.5-1.4 7.5-1.3 7.6-2.8 7.5-.9 7.7-4.5 7.1 4.2 7.5-1.3 7.5-2.3 7.7-6.1 7.4-1.2"/>
<path class="bk" d="M471 1439l8-2 9 4 8-3 9 1 8-9 9-1 8 0 9-3 8-2 9 3 8-6 8-4 9-3 8 0 8-1 9-6 8 4 8-4 9 2 8-3 8 0 8-7 9-3 8 3 8 1 8-6 9-3 8 2 8-7 8 3 8-1 8-3 8-6 9 1-10 6-8 2-8 9-8 7-8 6-9 4-8 9-8 2-8 7-8 6-8 0-8 1-8 3-8 6-8 1-8 7-8-2-9 4-8-4-8 3-8 2-9 1-8 0-8 2-8 1-9-2-8 0-9-1-8-5-9 1-8 3-9-6-8-1-9-9-9-1z"/>
<path class="tl" d="M463.5 1441.9l8.5 1.5 8.9 8.9 8.5 .5 8.7 5.9 8.4-2.8 8.4-.9 8.5 5 8.5 .9 8.3-.4 8.5 2.9 8.2-1.4 8.3-2 8.3 .4 8.2-1.8 8.2-1.2 8.2-3.2 8.3 4.3 8.1-4.7 8.3 2.4 8-6.8 8.2-1.2 8-6.4 8.1-3 8.2-.4 8.1-.6 8-6.2 8-6.2 8.1-2.6 8-8.8 8-4.1 8-5.7 8-7.6 8-9 8.1-1.7M470.7 1439.4l8.5-2.5 8.8 3.9 8.5-2.7 8.5 .6 8.2-9.1 8.5-1.1 8.6 .2 8.4-2.8 8.4-1.5 8.5 2.6 8.3-6.3 8.4-3.2 8.3-3.3 8.4 0 8.4-1.1 8.2-6.5 8.5 4.8 8.2-4.9 8.4 2.3 8.2-3.1 8.4 .4 8.1-7.1 8.3-3 8.3 3.1 8.2 1.3 8.2-6.3 8.1-3.1 8.3 1.5 8.1-6.3 8.2 2.3 8.1-.7 8.2-2.5 8.1-6.1 8.1 1.3"/>
<path class="b3" d="M402 1451l9 0 8-2 9 4 8-6 9-3 9 2 8-3 9-4-8 3-8-1-9-5-9-5-8-2-9 0-9-8-9-1-9-8z"/>
<path class="tl" d="M392.9 1412.4l9.1 7.3 8.8 1.5 9 7.5 8.7 .7 8.7 1.5 8.9 5.3 8.7 4.4 8.7 1.3M401.8 1451.5l8.7-.6 8.7-1.7 8.9 3.7 8.4-6 8.5-2.7 8.8 1.8 8.5-2.5 8.4-4.1"/>
</g></g>
<g id="front"><line x1="417.4" y1="1730.2" x2="1178.3" y2="1552.4" stroke="#000" stroke-width="5" stroke-linecap="square"/>
<line x1="417.4" y1="1730.2" x2="184.2" y2="1150.5" stroke="#000" stroke-width="5" stroke-linecap="square"/>
<line x1="1178.3" y1="1552.4" x2="1225.7" y2="846.9" stroke="#000" stroke-width="5" stroke-linecap="square"/>
<line x1="491.3" y1="1712.9" x2="496.3" y2="1724.4" stroke="#000" stroke-width="5"/>
<line x1="572.2" y1="1694" x2="583.7" y2="1718.4" stroke="#000" stroke-width="5"/>
<line x1="651.9" y1="1675.4" x2="657.5" y2="1686.5" stroke="#000" stroke-width="5"/>
<line x1="730.4" y1="1657" x2="743.3" y2="1680.8" stroke="#000" stroke-width="5"/>
<line x1="807.8" y1="1639" x2="814" y2="1649.8" stroke="#000" stroke-width="5"/>
<line x1="884" y1="1621.2" x2="898.1" y2="1644.2" stroke="#000" stroke-width="5"/>
<line x1="959.2" y1="1603.6" x2="966" y2="1614.1" stroke="#000" stroke-width="5"/>
<line x1="1033.3" y1="1586.3" x2="1048.5" y2="1608.6" stroke="#000" stroke-width="5"/>
<line x1="1106.3" y1="1569.2" x2="1113.6" y2="1579.4" stroke="#000" stroke-width="5"/>
<line x1="1178.3" y1="1552.4" x2="1194.5" y2="1574" stroke="#000" stroke-width="5"/>
<line x1="381" y1="1639.7" x2="368.8" y2="1642.5" stroke="#000" stroke-width="5"/>
<line x1="347.1" y1="1555.5" x2="324.7" y2="1560.3" stroke="#000" stroke-width="5"/>
<line x1="315.5" y1="1476.8" x2="303.2" y2="1479.3" stroke="#000" stroke-width="5"/>
<line x1="285.9" y1="1403.2" x2="263.3" y2="1407.7" stroke="#000" stroke-width="5"/>
<line x1="258.1" y1="1334.1" x2="245.8" y2="1336.5" stroke="#000" stroke-width="5"/>
<line x1="232" y1="1269.2" x2="209.4" y2="1273.5" stroke="#000" stroke-width="5"/>
<line x1="207.4" y1="1208.1" x2="195.1" y2="1210.4" stroke="#000" stroke-width="5"/>
<line x1="184.2" y1="1150.5" x2="161.6" y2="1154.5" stroke="#000" stroke-width="5"/>
<line x1="1178.3" y1="1552.4" x2="1193.9" y2="1573.2" stroke="#000" stroke-width="5"/>
<line x1="1187" y1="1423" x2="1194.8" y2="1432.7" stroke="#000" stroke-width="5"/>
<line x1="1196" y1="1288.1" x2="1212.9" y2="1307.8" stroke="#000" stroke-width="5"/>
<line x1="1205.5" y1="1147.4" x2="1213.9" y2="1156.6" stroke="#000" stroke-width="5"/>
<line x1="1215.3" y1="1000.5" x2="1233.7" y2="1018.8" stroke="#000" stroke-width="5"/>
<line x1="1225.7" y1="846.9" x2="1235.3" y2="855.7" stroke="#000" stroke-width="5"/>
<text class="ss" x="645.4" y="1861.8" font-size="55.6" text-anchor="middle" >20</text>
<text class="ss" x="811.6" y="1820.4" font-size="55.6" text-anchor="middle" >40</text>
<text class="ss" x="972.8" y="1780.2" font-size="55.6" text-anchor="middle" >60</text>
<text class="ss" x="1129" y="1741.3" font-size="55.6" text-anchor="middle" >80</text>
<text class="ss" x="1292.5" y="1703.6" font-size="55.6" text-anchor="middle" >100</text>
<text class="ss" x="264.8" y="1587.8" font-size="55.6" text-anchor="middle" >100</text>
<text class="ss" x="202.7" y="1432.9" font-size="55.6" text-anchor="middle" >200</text>
<text class="ss" x="153.6" y="1297.8" font-size="55.6" text-anchor="middle" >300</text>
<text class="ss" x="108.6" y="1178.1" font-size="55.6" text-anchor="middle" >400</text>
<text class="ss" x="1246.5" y="1642.3" font-size="55.6" text-anchor="middle" >0</text>
<text class="ss" x="1266.3" y="1372.9" font-size="55.6" text-anchor="middle" >1</text>
<text class="ss" x="1287" y="1079" font-size="55.6" text-anchor="middle" >2</text>
<text class="ss" transform="translate(1033.5,1857.6) rotate(-13)" font-size="65" text-anchor="middle">x</text>
<text class="ss" transform="translate(70,1457) rotate(71.5)" font-size="64" text-anchor="middle">time</text></g>
<g id="inset"><line x1="1187.1" y1="353.8" x2="1958.6" y2="353.8" stroke="#000" stroke-width="1.2" stroke-dasharray="6 4"/>
<g fill="#f00">
<circle cx="1194.8" cy="270.4" r="7.8"/>
<circle cx="1202.5" cy="289.9" r="7.8"/>
<circle cx="1210.2" cy="301.8" r="7.8"/>
<circle cx="1218" cy="338" r="7.8"/>
<circle cx="1225.7" cy="355.3" r="7.8"/>
<circle cx="1233.4" cy="374.8" r="7.8"/>
<circle cx="1241.1" cy="400.8" r="7.8"/>
<circle cx="1248.8" cy="423.1" r="7.8"/>
<circle cx="1256.5" cy="437.9" r="7.8"/>
<circle cx="1264.2" cy="464" r="7.8"/>
<circle cx="1272" cy="488" r="7.8"/>
<circle cx="1279.7" cy="501.1" r="7.8"/>
<circle cx="1287.4" cy="527.8" r="7.8"/>
<circle cx="1295.1" cy="535.6" r="7.8"/>
<circle cx="1302.8" cy="544.4" r="7.8"/>
<circle cx="1310.5" cy="565.1" r="7.8"/>
<circle cx="1318.3" cy="576" r="7.8"/>
<circle cx="1326" cy="591.5" r="7.8"/>
<circle cx="1333.7" cy="603.9" r="7.8"/>
<circle cx="1341.4" cy="607.4" r="7.8"/>
<circle cx="1349.1" cy="613.4" r="7.8"/>
<circle cx="1356.8" cy="619.3" r="7.8"/>
<circle cx="1364.5" cy="625.3" r="7.8"/>
<circle cx="1372.3" cy="630" r="7.8"/>
<circle cx="1380" cy="633.6" r="7.8"/>
<circle cx="1387.7" cy="639.5" r="7.8"/>
<circle cx="1395.4" cy="630.7" r="7.8"/>
<circle cx="1403.1" cy="636" r="7.8"/>
<circle cx="1410.8" cy="624.1" r="7.8"/>
<circle cx="1418.5" cy="628.8" r="7.8"/>
<circle cx="1426.3" cy="619.3" r="7.8"/>
<circle cx="1434" cy="609.8" r="7.8"/>
<circle cx="1441.7" cy="596.7" r="7.8"/>
<circle cx="1449.4" cy="596" r="7.8"/>
<circle cx="1457.1" cy="583.2" r="7.8"/>
<circle cx="1464.8" cy="568.9" r="7.8"/>
<circle cx="1472.6" cy="556.8" r="7.8"/>
<circle cx="1480.3" cy="533.7" r="7.8"/>
<circle cx="1488" cy="518.7" r="7.8"/>
<circle cx="1495.7" cy="498.5" r="7.8"/>
<circle cx="1503.4" cy="483" r="7.8"/>
<circle cx="1511.1" cy="454" r="7.8"/>
<circle cx="1518.8" cy="444.5" r="7.8"/>
<circle cx="1526.6" cy="418.4" r="7.8"/>
<circle cx="1534.3" cy="398.9" r="7.8"/>
<circle cx="1542" cy="378.6" r="7.8"/>
<circle cx="1549.7" cy="354.2" r="7.8"/>
<circle cx="1557.4" cy="326.1" r="7.8"/>
<circle cx="1565.1" cy="291.1" r="7.8"/>
<circle cx="1572.8" cy="281.6" r="7.8"/>
<circle cx="1580.6" cy="274" r="7.8"/>
<circle cx="1588.3" cy="260.2" r="7.8"/>
<circle cx="1596" cy="228.8" r="7.8"/>
<circle cx="1603.7" cy="215" r="7.8"/>
<circle cx="1611.4" cy="203.1" r="7.8"/>
<circle cx="1619.1" cy="193.1" r="7.8"/>
<circle cx="1626.9" cy="196.5" r="7.8"/>
<circle cx="1634.6" cy="185.8" r="7.8"/>
<circle cx="1642.3" cy="163.4" r="7.8"/>
<circle cx="1650" cy="177" r="7.8"/>
<circle cx="1657.7" cy="182.9" r="7.8"/>
<circle cx="1665.4" cy="170.3" r="7.8"/>
<circle cx="1673.1" cy="175.8" r="7.8"/>
<circle cx="1680.9" cy="178.2" r="7.8"/>
<circle cx="1688.6" cy="192.4" r="7.8"/>
<circle cx="1696.3" cy="191.7" r="7.8"/>
<circle cx="1704" cy="205" r="7.8"/>
<circle cx="1711.7" cy="196.5" r="7.8"/>
<circle cx="1719.4" cy="203.1" r="7.8"/>
<circle cx="1727.1" cy="210.7" r="7.8"/>
<circle cx="1734.9" cy="213.1" r="7.8"/>
<circle cx="1742.6" cy="217.4" r="7.8"/>
<circle cx="1750.3" cy="229.8" r="7.8"/>
<circle cx="1758" cy="230.5" r="7.8"/>
<circle cx="1765.7" cy="222.9" r="7.8"/>
<circle cx="1773.4" cy="236.9" r="7.8"/>
<circle cx="1781.2" cy="242.4" r="7.8"/>
<circle cx="1788.9" cy="231.2" r="7.8"/>
<circle cx="1796.6" cy="232.4" r="7.8"/>
<circle cx="1804.3" cy="221.5" r="7.8"/>
<circle cx="1812" cy="204.3" r="7.8"/>
<circle cx="1819.7" cy="210.3" r="7.8"/>
<circle cx="1827.4" cy="213.1" r="7.8"/>
<circle cx="1835.2" cy="214.3" r="7.8"/>
<circle cx="1842.9" cy="205" r="7.8"/>
<circle cx="1850.6" cy="191.7" r="7.8"/>
<circle cx="1858.3" cy="189.3" r="7.8"/>
<circle cx="1866" cy="196.5" r="7.8"/>
<circle cx="1873.7" cy="185.3" r="7.8"/>
<circle cx="1881.4" cy="179.8" r="7.8"/>
<circle cx="1889.2" cy="178.9" r="7.8"/>
<circle cx="1896.9" cy="172.2" r="7.8"/>
<circle cx="1904.6" cy="167.9" r="7.8"/>
<circle cx="1912.3" cy="177" r="7.8"/>
<circle cx="1920" cy="191.7" r="7.8"/>
<circle cx="1927.7" cy="203.9" r="7.8"/>
<circle cx="1935.5" cy="227.6" r="7.8"/>
<circle cx="1943.2" cy="225.7" r="7.8"/>
<circle cx="1950.9" cy="228.8" r="7.8"/>
<circle cx="1958.6" cy="246.4" r="7.8"/>
</g>
<rect x="1187.1" y="42" width="771.5" height="622" fill="none" stroke="#000" stroke-width="3.6"/>
<path d="M1264.2 664v-7.5M1264.2 42v7.5M1341.4 664v-13.5M1341.4 42v13.5M1418.5 664v-7.5M1418.5 42v7.5M1495.7 664v-13.5M1495.7 42v13.5M1572.8 664v-7.5M1572.8 42v7.5M1650 664v-13.5M1650 42v13.5M1727.2 664v-7.5M1727.2 42v7.5M1804.3 664v-13.5M1804.3 42v13.5M1881.4 664v-7.5M1881.4 42v7.5M1187.1 602.3h13.5M1958.6 602.3h-13.5M1187.1 540.1h7.5M1958.6 540.1h-7.5M1187.1 477.9h13.5M1958.6 477.9h-13.5M1187.1 415.7h7.5M1958.6 415.7h-7.5M1187.1 353.5h13.5M1958.6 353.5h-13.5M1187.1 291.3h7.5M1958.6 291.3h-7.5M1187.1 229.1h13.5M1958.6 229.1h-13.5M1187.1 166.9h7.5M1958.6 166.9h-7.5M1187.1 104.7h13.5M1958.6 104.7h-13.5" stroke="#000" stroke-width="3.2" fill="none"/>
<text class="sf" x="1187.1" y="709.3" font-size="42.4" text-anchor="middle" >0</text>
<text class="sf" x="1341.4" y="709.3" font-size="42.4" text-anchor="middle" >20</text>
<text class="sf" x="1495.7" y="709.3" font-size="42.4" text-anchor="middle" >40</text>
<text class="sf" x="1650" y="709.3" font-size="42.4" text-anchor="middle" >60</text>
<text class="sf" x="1804.3" y="709.3" font-size="42.4" text-anchor="middle" >80</text>
<text class="sf" x="1958.6" y="709.3" font-size="42.4" text-anchor="middle" >100</text>
<text class="sf" x="1174.3" y="616.4" font-size="42.4" text-anchor="end" >0.6</text>
<text class="sf" x="1174.3" y="492" font-size="42.4" text-anchor="end" >0.8</text>
<text class="sf" x="1174.3" y="367.6" font-size="42.4" text-anchor="end" >1.0</text>
<text class="sf" x="1174.3" y="243.2" font-size="42.4" text-anchor="end" >1.2</text>
<text class="sf" x="1174.3" y="118.8" font-size="42.4" text-anchor="end" >1.4</text>
<text class="sf" x="1573" y="771.3" font-size="48.2" text-anchor="middle" >x</text>
<text class="sf" transform="translate(1085.6,332.5) rotate(-90)" font-size="60.2" text-anchor="middle">ρ(x)</text></g>
<g id="ann"><line x1="1043.7" y1="1244" x2="1266" y2="655" stroke="#000" stroke-width="5.4"/>
<polygon points="1281.5,613.5 1255.5,649.5 1264.9,654.5 1277.5,658.5" fill="#000"/>
<text class="ss" x="1026.5" y="905" font-size="75" text-anchor="start" >t=30</text>
<text class="sf" x="1298.5" y="901.6" font-size="85.4">ρ(<tspan class="ss" font-size="93" dx="6">x,t)</tspan></text></g>
</svg></body></html>
